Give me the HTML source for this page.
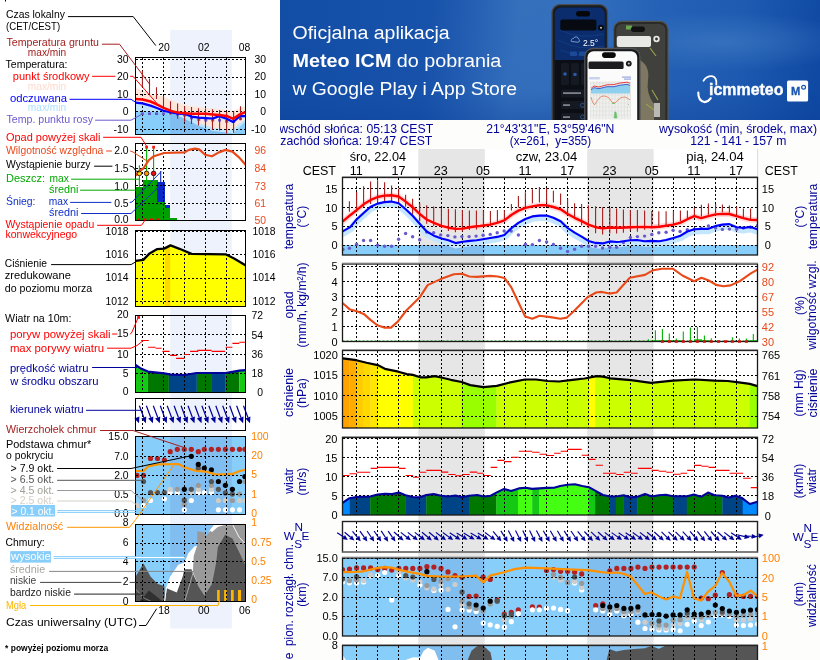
<!DOCTYPE html>
<html><head><meta charset="utf-8"><title>Meteogram</title>
<style>
html,body{margin:0;padding:0;background:#fff;}
body{width:820px;height:660px;overflow:hidden;position:relative;font-family:"Liberation Sans",sans-serif;}
svg{position:absolute;left:0;top:0;display:block;will-change:transform;}
svg text{font-family:"Liberation Sans",sans-serif;}
</style></head><body>
<svg width="820" height="660" viewBox="0 0 820 660">
<g id="legend">
<rect x="0.0" y="0.0" width="280.0" height="660.0" fill="#ffffff" />
<rect x="5.0" y="0.0" width="1.0" height="1.5" fill="#000" />
<rect x="170.2" y="30.0" width="61.6" height="598.5" fill="#edf2fc" />
<clipPath id="lc1"><rect x="135.5" y="57.5" width="110.0" height="76.5"/></clipPath>
<g clip-path="url(#lc1)">
<polygon points="135.9,88.0 142.4,90.2 150.5,93.9 163.7,96.8 177.6,102.7 191.5,106.3 205.8,107.8 219.3,109.3 233.2,110.7 244.9,106.3 246.0,106.0 246.0,118.8 244.9,118.8 239.8,123.2 233.2,129.0 226.6,129.8 212.7,127.6 198.8,123.2 184.9,115.9 163.7,111.5 135.9,102.7" fill="#ffe6da" />
<polygon points="135.5,102.7 142.4,103.4 150.5,105.6 156.3,107.8 163.7,110.7 170.2,112.2 177.6,113.7 184.9,114.0 191.5,116.6 198.8,117.6 205.8,118.1 212.7,118.5 219.3,116.1 226.6,118.8 233.2,122.0 239.8,116.1 246.0,116.1 246.0,124.0 239.8,128.0 233.2,134.0 135.5,134.0" fill="#bfe6ff" />
<polygon points="135.5,111.5 165.0,111.8 170.2,112.5 184.9,119.0 198.8,126.0 212.7,131.0 226.6,132.8 233.0,133.5 239.8,127.0 246.0,121.0 246.0,134.0 135.5,134.0" fill="#87cefa" />
<clipPath id="lc1n"><rect x="170.2" y="57.5" width="61.6" height="76.5"/></clipPath>
<polygon points="135.5,111.5 165.0,111.8 170.2,112.5 184.9,119.0 198.8,126.0 212.7,131.0 226.6,132.8 233.0,133.5 239.8,127.0 246.0,121.0 246.0,134.0 135.5,134.0" fill="#80bdf0" clip-path="url(#lc1n)"/>
<polygon points="198.8,119.0 212.7,120.0 219.3,118.0 226.6,121.0 233.2,124.0 239.8,118.0 246.0,118.0 246.0,119.0 239.8,123.2 233.2,129.0 226.6,129.8 212.7,127.6 198.8,123.2" fill="#ffe6da" />
</g>
<line x1="142.5" y1="57.5" x2="142.5" y2="134.0" stroke="#000" stroke-width="1" stroke-dasharray="2,2" shape-rendering="crispEdges"/>
<line x1="163.7" y1="57.5" x2="163.7" y2="134.0" stroke="#000" stroke-width="1" stroke-dasharray="2,2" shape-rendering="crispEdges"/>
<line x1="184.7" y1="57.5" x2="184.7" y2="134.0" stroke="#000" stroke-width="1" stroke-dasharray="2,2" shape-rendering="crispEdges"/>
<line x1="205.4" y1="57.5" x2="205.4" y2="134.0" stroke="#000" stroke-width="1" stroke-dasharray="2,2" shape-rendering="crispEdges"/>
<line x1="226.2" y1="57.5" x2="226.2" y2="134.0" stroke="#000" stroke-width="1" stroke-dasharray="2,2" shape-rendering="crispEdges"/>
<line x1="135.5" y1="59.5" x2="245.5" y2="59.5" stroke="#000" stroke-width="1" stroke-dasharray="2,2" shape-rendering="crispEdges"/>
<line x1="135.5" y1="77.3" x2="245.5" y2="77.3" stroke="#000" stroke-width="1" stroke-dasharray="2,2" shape-rendering="crispEdges"/>
<line x1="135.5" y1="94.4" x2="245.5" y2="94.4" stroke="#000" stroke-width="1" stroke-dasharray="2,2" shape-rendering="crispEdges"/>
<line x1="135.5" y1="111.6" x2="245.5" y2="111.6" stroke="#000" stroke-width="1" stroke-dasharray="2,2" shape-rendering="crispEdges"/>
<line x1="135.5" y1="129.4" x2="245.5" y2="129.4" stroke="#000" stroke-width="1" stroke-dasharray="2,2" shape-rendering="crispEdges"/>
<g clip-path="url(#lc1)">
<rect x="140.9" y="112.4" width="3.0" height="2.6" fill="#6a5acd" />
<rect x="148.0" y="112.4" width="3.0" height="2.6" fill="#6a5acd" />
<rect x="155.0" y="112.4" width="3.0" height="2.6" fill="#6a5acd" />
<rect x="162.0" y="112.4" width="3.0" height="2.6" fill="#6a5acd" />
<rect x="169.0" y="111.7" width="3.0" height="2.6" fill="#6a5acd" />
<rect x="176.1" y="113.1" width="3.0" height="2.6" fill="#6a5acd" />
<rect x="183.1" y="113.8" width="3.0" height="2.6" fill="#6a5acd" />
<rect x="190.0" y="116.7" width="3.0" height="2.6" fill="#6a5acd" />
<rect x="197.3" y="118.2" width="3.0" height="2.6" fill="#6a5acd" />
<rect x="204.3" y="118.9" width="3.0" height="2.6" fill="#6a5acd" />
<rect x="211.2" y="118.9" width="3.0" height="2.6" fill="#6a5acd" />
<rect x="218.1" y="118.9" width="3.0" height="2.6" fill="#6a5acd" />
<rect x="225.1" y="120.1" width="3.0" height="2.6" fill="#6a5acd" />
<rect x="232.1" y="120.4" width="3.0" height="2.6" fill="#6a5acd" />
<rect x="239.0" y="117.5" width="3.0" height="2.6" fill="#6a5acd" />
<line x1="142.4" y1="70.5" x2="142.4" y2="86.6" stroke="#a52020" stroke-width="1.1" />
<line x1="149.5" y1="78.5" x2="149.5" y2="93.9" stroke="#a52020" stroke-width="1.1" />
<line x1="156.5" y1="87.3" x2="156.5" y2="99.0" stroke="#a52020" stroke-width="1.1" />
<line x1="163.5" y1="96.1" x2="163.5" y2="107.1" stroke="#a52020" stroke-width="1.1" />
<line x1="170.5" y1="101.2" x2="170.5" y2="114.4" stroke="#a52020" stroke-width="1.1" />
<line x1="177.6" y1="103.4" x2="177.6" y2="118.8" stroke="#a52020" stroke-width="1.1" />
<line x1="184.6" y1="106.3" x2="184.6" y2="121.7" stroke="#a52020" stroke-width="1.1" />
<line x1="191.5" y1="107.1" x2="191.5" y2="123.9" stroke="#a52020" stroke-width="1.1" />
<line x1="198.5" y1="108.2" x2="198.5" y2="125.4" stroke="#a52020" stroke-width="1.1" />
<line x1="205.5" y1="108.5" x2="205.5" y2="127.6" stroke="#a52020" stroke-width="1.1" />
<line x1="212.5" y1="109.3" x2="212.5" y2="129.8" stroke="#a52020" stroke-width="1.1" />
<line x1="219.6" y1="110.0" x2="219.6" y2="130.5" stroke="#a52020" stroke-width="1.1" />
<line x1="226.6" y1="111.5" x2="226.6" y2="133.4" stroke="#a52020" stroke-width="1.1" />
<line x1="233.6" y1="111.5" x2="233.6" y2="132.7" stroke="#a52020" stroke-width="1.1" />
<line x1="240.5" y1="106.3" x2="240.5" y2="120.2" stroke="#a52020" stroke-width="1.1" />
<polyline points="135.5,102.7 142.4,103.4 150.5,105.6 156.3,107.8 163.7,110.7 170.2,112.2 177.6,113.7 184.9,114.0 191.5,116.6 198.8,117.6 205.8,118.1 212.7,118.5 219.3,116.1 226.6,118.8 233.2,122.0 239.8,116.1 246.0,116.1" fill="none" stroke="#0000ff" stroke-width="2.2" stroke-linejoin="round" stroke-linecap="round" />
<polyline points="135.5,99.0 142.4,99.5 150.5,101.5 156.3,104.1 163.7,107.8 170.2,110.7 177.6,112.6 184.9,113.2 191.5,113.7 205.8,113.7 212.7,114.4 219.3,115.1 226.6,115.9 233.2,118.8 239.8,114.4 246.0,112.0" fill="none" stroke="#ff0000" stroke-width="2.5" stroke-linejoin="round" stroke-linecap="round" />
</g>
<rect x="135.5" y="57.5" width="110.0" height="76.5" fill="none" stroke="#000" stroke-width="1" shape-rendering="crispEdges"/>
<clipPath id="lc2"><rect x="135.5" y="143.5" width="110.0" height="76.5"/></clipPath>
<rect x="135.5" y="187.0" width="8.0" height="33.0" fill="#00a000" shape-rendering="crispEdges"/>
<rect x="143.3" y="179.8" width="14.2" height="40.2" fill="#00a000" shape-rendering="crispEdges"/>
<rect x="157.3" y="202.0" width="7.4" height="18.0" fill="#00a000" shape-rendering="crispEdges"/>
<rect x="157.3" y="182.3" width="7.2" height="19.7" fill="#0a28c8" shape-rendering="crispEdges"/>
<rect x="164.5" y="205.0" width="5.6" height="3.0" fill="#0a28c8" shape-rendering="crispEdges"/>
<rect x="164.5" y="208.0" width="5.8" height="12.0" fill="#00a000" shape-rendering="crispEdges"/>
<rect x="170.1" y="217.8" width="7.0" height="2.2" fill="#00a000" shape-rendering="crispEdges"/>
<line x1="142.5" y1="143.5" x2="142.5" y2="220.0" stroke="#000" stroke-width="1" stroke-dasharray="2,2" shape-rendering="crispEdges"/>
<line x1="163.7" y1="143.5" x2="163.7" y2="220.0" stroke="#000" stroke-width="1" stroke-dasharray="2,2" shape-rendering="crispEdges"/>
<line x1="184.7" y1="143.5" x2="184.7" y2="220.0" stroke="#000" stroke-width="1" stroke-dasharray="2,2" shape-rendering="crispEdges"/>
<line x1="205.4" y1="143.5" x2="205.4" y2="220.0" stroke="#000" stroke-width="1" stroke-dasharray="2,2" shape-rendering="crispEdges"/>
<line x1="226.2" y1="143.5" x2="226.2" y2="220.0" stroke="#000" stroke-width="1" stroke-dasharray="2,2" shape-rendering="crispEdges"/>
<line x1="135.5" y1="150.4" x2="245.5" y2="150.4" stroke="#000" stroke-width="1" stroke-dasharray="2,2" shape-rendering="crispEdges"/>
<line x1="135.5" y1="168.3" x2="245.5" y2="168.3" stroke="#000" stroke-width="1" stroke-dasharray="2,2" shape-rendering="crispEdges"/>
<line x1="135.5" y1="185.5" x2="245.5" y2="185.5" stroke="#000" stroke-width="1" stroke-dasharray="2,2" shape-rendering="crispEdges"/>
<line x1="135.5" y1="203.3" x2="245.5" y2="203.3" stroke="#000" stroke-width="1" stroke-dasharray="2,2" shape-rendering="crispEdges"/>
<line x1="139.4" y1="165.2" x2="139.4" y2="190.0" stroke="#00b400" stroke-width="1.1" />
<line x1="146.6" y1="147.3" x2="146.6" y2="190.0" stroke="#00b400" stroke-width="1.1" />
<line x1="153.6" y1="147.3" x2="153.6" y2="190.0" stroke="#00b400" stroke-width="1.1" />
<line x1="160.7" y1="170.9" x2="160.7" y2="183.0" stroke="#0a28c8" stroke-width="1.1" />
<rect x="145.2" y="145.8" width="2.8" height="2.8" fill="#ff1a1a" />
<rect x="152.2" y="145.8" width="2.8" height="2.8" fill="#ff1a1a" />
<g clip-path="url(#lc2)">
<polyline points="136.5,175.0 138.0,172.0 143.3,168.5 148.8,160.1 153.9,156.2 164.1,153.0 184.6,152.4 188.9,149.9 194.9,148.7 199.1,149.4 205.1,154.7 212.0,156.2 218.8,152.4 225.6,149.9 232.4,151.6 239.3,157.6 245.5,164.7" fill="none" stroke="#e84a1a" stroke-width="2.2" stroke-linejoin="round" stroke-linecap="round" />
</g>
<circle cx="139.4" cy="173.4" r="2.3" fill="#ffdc00" stroke="#301010" stroke-width="0.9"/>
<circle cx="146.6" cy="173.4" r="2.3" fill="#ff9600" stroke="#301010" stroke-width="0.9"/>
<circle cx="153.6" cy="173.4" r="2.3" fill="#e81010" stroke="#301010" stroke-width="0.9"/>
<line x1="137.0" y1="219.3" x2="164.0" y2="219.3" stroke="#ff0000" stroke-width="1.4" stroke-dasharray="3,3.5"/>
<rect x="135.5" y="143.5" width="110.0" height="76.5" fill="none" stroke="#000" stroke-width="1" shape-rendering="crispEdges"/>
<clipPath id="lc3"><rect x="135.5" y="230" width="110.0" height="76.5"/></clipPath>
<g clip-path="url(#lc3)">
<polygon points="135.5,260.8 143.3,259.9 149.6,253.4 157.3,249.1 164.1,248.6 170.5,245.4 179.5,248.8 191.5,253.9 225.6,254.3 234.1,258.5 245.8,265.4 245.8,306.5 135.5,306.5" fill="#ffff00" />
<clipPath id="lc3b"><rect x="165" y="230" width="5.2" height="77"/></clipPath>
<polygon points="135.5,260.8 143.3,259.9 149.6,253.4 157.3,249.1 164.1,248.6 170.5,245.4 179.5,248.8 191.5,253.9 225.6,254.3 234.1,258.5 245.8,265.4 245.8,306.5 135.5,306.5" fill="#ffd800" clip-path="url(#lc3b)"/>
</g>
<line x1="142.5" y1="230.0" x2="142.5" y2="306.5" stroke="#000" stroke-width="1" stroke-dasharray="2,2" shape-rendering="crispEdges"/>
<line x1="163.7" y1="230.0" x2="163.7" y2="306.5" stroke="#000" stroke-width="1" stroke-dasharray="2,2" shape-rendering="crispEdges"/>
<line x1="184.7" y1="230.0" x2="184.7" y2="306.5" stroke="#000" stroke-width="1" stroke-dasharray="2,2" shape-rendering="crispEdges"/>
<line x1="205.4" y1="230.0" x2="205.4" y2="306.5" stroke="#000" stroke-width="1" stroke-dasharray="2,2" shape-rendering="crispEdges"/>
<line x1="226.2" y1="230.0" x2="226.2" y2="306.5" stroke="#000" stroke-width="1" stroke-dasharray="2,2" shape-rendering="crispEdges"/>
<line x1="135.5" y1="231.6" x2="245.5" y2="231.6" stroke="#000" stroke-width="1" stroke-dasharray="2,2" shape-rendering="crispEdges"/>
<line x1="135.5" y1="254.6" x2="245.5" y2="254.6" stroke="#000" stroke-width="1" stroke-dasharray="2,2" shape-rendering="crispEdges"/>
<line x1="135.5" y1="278.5" x2="245.5" y2="278.5" stroke="#000" stroke-width="1" stroke-dasharray="2,2" shape-rendering="crispEdges"/>
<line x1="135.5" y1="301.6" x2="245.5" y2="301.6" stroke="#000" stroke-width="1" stroke-dasharray="2,2" shape-rendering="crispEdges"/>
<g clip-path="url(#lc3)">
<polyline points="135.5,260.8 143.3,259.9 149.6,253.4 157.3,249.1 164.1,248.6 170.5,245.4 179.5,248.8 191.5,253.9 225.6,254.3 234.1,258.5 245.8,265.4" fill="none" stroke="#000" stroke-width="2.3" stroke-linejoin="round" stroke-linecap="round" />
</g>
<rect x="135.5" y="230" width="110.0" height="76.5" fill="none" stroke="#000" stroke-width="1" shape-rendering="crispEdges"/>
<clipPath id="lc4"><rect x="135.5" y="315.5" width="110.0" height="77.0"/></clipPath>
<g clip-path="url(#lc4)">
<clipPath id="lw0"><rect x="135.5" y="315.5" width="12.400000000000006" height="77.0"/></clipPath>
<polygon points="135.5,364.8 140.2,368.2 147.9,371.6 164.1,373.3 171.0,374.7 184.6,375.0 196.6,373.0 225.6,373.0 239.3,370.7 245.8,370.2 245.8,392.5 135.5,392.5" fill="#14c814" clip-path="url(#lw0)"/>
<clipPath id="lw1"><rect x="147.9" y="315.5" width="21.0" height="77.0"/></clipPath>
<polygon points="135.5,364.8 140.2,368.2 147.9,371.6 164.1,373.3 171.0,374.7 184.6,375.0 196.6,373.0 225.6,373.0 239.3,370.7 245.8,370.2 245.8,392.5 135.5,392.5" fill="#007800" clip-path="url(#lw1)"/>
<clipPath id="lw2"><rect x="168.9" y="315.5" width="28.0" height="77.0"/></clipPath>
<polygon points="135.5,364.8 140.2,368.2 147.9,371.6 164.1,373.3 171.0,374.7 184.6,375.0 196.6,373.0 225.6,373.0 239.3,370.7 245.8,370.2 245.8,392.5 135.5,392.5" fill="#004488" clip-path="url(#lw2)"/>
<clipPath id="lw3"><rect x="196.9" y="315.5" width="14.199999999999989" height="77.0"/></clipPath>
<polygon points="135.5,364.8 140.2,368.2 147.9,371.6 164.1,373.3 171.0,374.7 184.6,375.0 196.6,373.0 225.6,373.0 239.3,370.7 245.8,370.2 245.8,392.5 135.5,392.5" fill="#007800" clip-path="url(#lw3)"/>
<clipPath id="lw4"><rect x="211.1" y="315.5" width="14.0" height="77.0"/></clipPath>
<polygon points="135.5,364.8 140.2,368.2 147.9,371.6 164.1,373.3 171.0,374.7 184.6,375.0 196.6,373.0 225.6,373.0 239.3,370.7 245.8,370.2 245.8,392.5 135.5,392.5" fill="#004488" clip-path="url(#lw4)"/>
<clipPath id="lw5"><rect x="225.1" y="315.5" width="14.200000000000017" height="77.0"/></clipPath>
<polygon points="135.5,364.8 140.2,368.2 147.9,371.6 164.1,373.3 171.0,374.7 184.6,375.0 196.6,373.0 225.6,373.0 239.3,370.7 245.8,370.2 245.8,392.5 135.5,392.5" fill="#007800" clip-path="url(#lw5)"/>
<clipPath id="lw6"><rect x="239.3" y="315.5" width="6.699999999999989" height="77.0"/></clipPath>
<polygon points="135.5,364.8 140.2,368.2 147.9,371.6 164.1,373.3 171.0,374.7 184.6,375.0 196.6,373.0 225.6,373.0 239.3,370.7 245.8,370.2 245.8,392.5 135.5,392.5" fill="#14c814" clip-path="url(#lw6)"/>
</g>
<line x1="142.5" y1="315.5" x2="142.5" y2="392.5" stroke="#000" stroke-width="1" stroke-dasharray="2,2" shape-rendering="crispEdges"/>
<line x1="163.7" y1="315.5" x2="163.7" y2="392.5" stroke="#000" stroke-width="1" stroke-dasharray="2,2" shape-rendering="crispEdges"/>
<line x1="184.7" y1="315.5" x2="184.7" y2="392.5" stroke="#000" stroke-width="1" stroke-dasharray="2,2" shape-rendering="crispEdges"/>
<line x1="205.4" y1="315.5" x2="205.4" y2="392.5" stroke="#000" stroke-width="1" stroke-dasharray="2,2" shape-rendering="crispEdges"/>
<line x1="226.2" y1="315.5" x2="226.2" y2="392.5" stroke="#000" stroke-width="1" stroke-dasharray="2,2" shape-rendering="crispEdges"/>
<line x1="135.5" y1="334.9" x2="245.5" y2="334.9" stroke="#000" stroke-width="1" stroke-dasharray="2,2" shape-rendering="crispEdges"/>
<line x1="135.5" y1="354.5" x2="245.5" y2="354.5" stroke="#000" stroke-width="1" stroke-dasharray="2,2" shape-rendering="crispEdges"/>
<line x1="135.5" y1="373.3" x2="245.5" y2="373.3" stroke="#000" stroke-width="1" stroke-dasharray="2,2" shape-rendering="crispEdges"/>
<g clip-path="url(#lc4)">
<polyline points="135.5,364.8 140.2,368.2 147.9,371.6 164.1,373.3 171.0,374.7 184.6,375.0 196.6,373.0 225.6,373.0 239.3,370.7 245.8,370.2" fill="none" stroke="#00009a" stroke-width="2.2" stroke-linejoin="round" stroke-linecap="round" />
<line x1="141.1" y1="340.5" x2="148.8" y2="340.5" stroke="#ff0000" stroke-width="1.1" />
<line x1="147.9" y1="347.2" x2="155.6" y2="347.2" stroke="#ff0000" stroke-width="1.1" />
<line x1="155.6" y1="348.2" x2="161.6" y2="348.2" stroke="#ff0000" stroke-width="1.1" />
<line x1="162.4" y1="351.4" x2="169.6" y2="351.4" stroke="#ff0000" stroke-width="1.1" />
<line x1="170.1" y1="355.4" x2="177.0" y2="355.4" stroke="#ff0000" stroke-width="1.1" />
<line x1="176.1" y1="358.4" x2="184.6" y2="358.4" stroke="#ff0000" stroke-width="1.1" />
<line x1="184.3" y1="354.5" x2="188.9" y2="354.5" stroke="#ff0000" stroke-width="1.1" />
<line x1="190.1" y1="351.4" x2="198.3" y2="351.4" stroke="#ff0000" stroke-width="1.1" />
<line x1="197.4" y1="350.4" x2="211.6" y2="350.4" stroke="#ff0000" stroke-width="1.1" />
<line x1="211.6" y1="351.4" x2="225.1" y2="351.4" stroke="#ff0000" stroke-width="1.1" />
<line x1="225.6" y1="347.3" x2="232.4" y2="347.3" stroke="#ff0000" stroke-width="1.1" />
<line x1="232.4" y1="343.4" x2="239.3" y2="343.4" stroke="#ff0000" stroke-width="1.1" />
<line x1="239.3" y1="342.2" x2="245.8" y2="342.2" stroke="#ff0000" stroke-width="1.1" />
</g>
<rect x="137.2" y="316.0" width="2.8" height="2.8" fill="#ff1a1a" />
<rect x="135.5" y="315.5" width="110.0" height="77.0" fill="none" stroke="#000" stroke-width="1" shape-rendering="crispEdges"/>
<clipPath id="lc5"><rect x="135.5" y="398.5" width="110.0" height="31.5"/></clipPath>
<line x1="142.5" y1="398.5" x2="142.5" y2="430.0" stroke="#000" stroke-width="1" stroke-dasharray="2,2" shape-rendering="crispEdges"/>
<line x1="163.7" y1="398.5" x2="163.7" y2="430.0" stroke="#000" stroke-width="1" stroke-dasharray="2,2" shape-rendering="crispEdges"/>
<line x1="184.7" y1="398.5" x2="184.7" y2="430.0" stroke="#000" stroke-width="1" stroke-dasharray="2,2" shape-rendering="crispEdges"/>
<line x1="205.4" y1="398.5" x2="205.4" y2="430.0" stroke="#000" stroke-width="1" stroke-dasharray="2,2" shape-rendering="crispEdges"/>
<line x1="226.2" y1="398.5" x2="226.2" y2="430.0" stroke="#000" stroke-width="1" stroke-dasharray="2,2" shape-rendering="crispEdges"/>
<g clip-path="url(#lc5x)">
</g>
<polygon points="139.0,423.3 134.3,418.4 139.4,416.5" fill="#00009a" />
<line x1="139.4" y1="405.7" x2="143.8" y2="417.5" stroke="#00009a" stroke-width="1.2" />
<polygon points="145.9,423.3 141.3,418.4 146.3,416.5" fill="#00009a" />
<line x1="146.4" y1="405.7" x2="150.7" y2="417.5" stroke="#00009a" stroke-width="1.2" />
<polygon points="152.9,423.3 148.2,418.4 153.3,416.5" fill="#00009a" />
<line x1="153.3" y1="405.7" x2="157.7" y2="417.5" stroke="#00009a" stroke-width="1.2" />
<polygon points="159.8,423.3 155.1,418.4 160.2,416.5" fill="#00009a" />
<line x1="160.3" y1="405.7" x2="164.6" y2="417.5" stroke="#00009a" stroke-width="1.2" />
<polygon points="166.8,423.3 162.1,418.4 167.1,416.5" fill="#00009a" />
<line x1="167.2" y1="405.7" x2="171.6" y2="417.5" stroke="#00009a" stroke-width="1.2" />
<polygon points="173.7,423.3 169.0,418.4 174.1,416.5" fill="#00009a" />
<line x1="174.1" y1="405.7" x2="178.5" y2="417.5" stroke="#00009a" stroke-width="1.2" />
<polygon points="180.6,423.3 176.0,418.4 181.0,416.5" fill="#00009a" />
<line x1="181.1" y1="405.7" x2="185.4" y2="417.5" stroke="#00009a" stroke-width="1.2" />
<polygon points="187.6,423.3 182.9,418.4 188.0,416.5" fill="#00009a" />
<line x1="188.0" y1="405.7" x2="192.4" y2="417.5" stroke="#00009a" stroke-width="1.2" />
<polygon points="194.5,423.3 189.8,418.4 194.9,416.5" fill="#00009a" />
<line x1="195.0" y1="405.7" x2="199.3" y2="417.5" stroke="#00009a" stroke-width="1.2" />
<polygon points="201.5,423.3 196.8,418.4 201.8,416.5" fill="#00009a" />
<line x1="201.9" y1="405.7" x2="206.3" y2="417.5" stroke="#00009a" stroke-width="1.2" />
<polygon points="208.4,423.3 203.7,418.4 208.8,416.5" fill="#00009a" />
<line x1="208.8" y1="405.7" x2="213.2" y2="417.5" stroke="#00009a" stroke-width="1.2" />
<polygon points="215.3,423.3 210.7,418.4 215.7,416.5" fill="#00009a" />
<line x1="215.8" y1="405.7" x2="220.1" y2="417.5" stroke="#00009a" stroke-width="1.2" />
<polygon points="222.3,423.3 217.6,418.4 222.7,416.5" fill="#00009a" />
<line x1="222.7" y1="405.7" x2="227.1" y2="417.5" stroke="#00009a" stroke-width="1.2" />
<polygon points="229.2,423.3 224.5,418.4 229.6,416.5" fill="#00009a" />
<line x1="229.7" y1="405.7" x2="234.0" y2="417.5" stroke="#00009a" stroke-width="1.2" />
<polygon points="236.2,423.3 231.5,418.4 236.5,416.5" fill="#00009a" />
<line x1="236.6" y1="405.7" x2="241.0" y2="417.5" stroke="#00009a" stroke-width="1.2" />
<polygon points="243.1,423.3 238.4,418.4 243.5,416.5" fill="#00009a" />
<line x1="243.5" y1="405.7" x2="247.9" y2="417.5" stroke="#00009a" stroke-width="1.2" />
<polygon points="250.0,423.3 245.4,418.4 250.4,416.5" fill="#00009a" />
<rect x="135.5" y="398.5" width="110.0" height="31.5" fill="none" stroke="#000" stroke-width="1" shape-rendering="crispEdges"/>
<clipPath id="lc6"><rect x="135.5" y="436.5" width="110.0" height="78.0"/></clipPath>
<rect x="135.5" y="436.5" width="110.0" height="78.0" fill="#87cefa" />
<rect x="170.2" y="436.5" width="61.6" height="78.0" fill="#80bdf0" />
<line x1="142.5" y1="436.5" x2="142.5" y2="514.5" stroke="#000" stroke-width="1" stroke-dasharray="2,2" shape-rendering="crispEdges"/>
<line x1="163.7" y1="436.5" x2="163.7" y2="514.5" stroke="#000" stroke-width="1" stroke-dasharray="2,2" shape-rendering="crispEdges"/>
<line x1="184.7" y1="436.5" x2="184.7" y2="514.5" stroke="#000" stroke-width="1" stroke-dasharray="2,2" shape-rendering="crispEdges"/>
<line x1="205.4" y1="436.5" x2="205.4" y2="514.5" stroke="#000" stroke-width="1" stroke-dasharray="2,2" shape-rendering="crispEdges"/>
<line x1="226.2" y1="436.5" x2="226.2" y2="514.5" stroke="#000" stroke-width="1" stroke-dasharray="2,2" shape-rendering="crispEdges"/>
<line x1="135.5" y1="456.3" x2="245.5" y2="456.3" stroke="#000" stroke-width="1" stroke-dasharray="2,2" shape-rendering="crispEdges"/>
<line x1="135.5" y1="475.4" x2="245.5" y2="475.4" stroke="#000" stroke-width="1" stroke-dasharray="2,2" shape-rendering="crispEdges"/>
<line x1="135.5" y1="494.8" x2="245.5" y2="494.8" stroke="#000" stroke-width="1" stroke-dasharray="2,2" shape-rendering="crispEdges"/>
<g clip-path="url(#lc6)">
<circle cx="170.2" cy="492.6" r="2.6" fill="#fff"/>
<circle cx="177.3" cy="492.6" r="2.6" fill="#fff"/>
<circle cx="198.3" cy="492.6" r="2.6" fill="#fff"/>
<circle cx="204.3" cy="492.6" r="2.6" fill="#fff"/>
<circle cx="211.4" cy="492.6" r="2.6" fill="#fff"/>
<circle cx="150.5" cy="500.5" r="2.6" fill="#fff"/>
<circle cx="164.4" cy="498.8" r="2.6" fill="#fff"/>
<circle cx="191.3" cy="500.5" r="2.6" fill="#fff"/>
<circle cx="143.5" cy="505.7" r="2.6" fill="#fff"/>
<circle cx="184.3" cy="509.8" r="2.6" fill="#fff"/>
<circle cx="218.4" cy="509.8" r="2.6" fill="#fff"/>
<circle cx="225.4" cy="509.8" r="2.6" fill="#fff"/>
<circle cx="232.4" cy="509.8" r="2.6" fill="#fff"/>
<circle cx="239.5" cy="509.8" r="2.6" fill="#fff"/>
<circle cx="170.2" cy="489.3" r="2.6" fill="#d0ccc4"/>
<circle cx="198.3" cy="489.3" r="2.6" fill="#d0ccc4"/>
<circle cx="211.4" cy="489.3" r="2.6" fill="#d0ccc4"/>
<circle cx="191.3" cy="492.6" r="2.6" fill="#d0ccc4"/>
<circle cx="218.4" cy="500.5" r="2.6" fill="#d0ccc4"/>
<circle cx="225.4" cy="500.5" r="2.6" fill="#d0ccc4"/>
<circle cx="239.5" cy="500.5" r="2.6" fill="#d0ccc4"/>
<circle cx="137.0" cy="505.7" r="2.6" fill="#d0ccc4"/>
<circle cx="245.0" cy="500.5" r="2.6" fill="#d0ccc4"/>
<circle cx="177.3" cy="489.3" r="2.6" fill="#999"/>
<circle cx="198.3" cy="485.3" r="2.6" fill="#999"/>
<circle cx="211.4" cy="485.3" r="2.6" fill="#999"/>
<circle cx="143.5" cy="500.5" r="2.6" fill="#999"/>
<circle cx="239.5" cy="494.1" r="2.6" fill="#999"/>
<circle cx="232.4" cy="500.5" r="2.6" fill="#999"/>
<circle cx="184.3" cy="504.6" r="2.6" fill="#999"/>
<circle cx="245.0" cy="481.5" r="2.6" fill="#999"/>
<circle cx="143.5" cy="481.5" r="2.6" fill="#555"/>
<circle cx="150.5" cy="492.6" r="2.6" fill="#555"/>
<circle cx="157.5" cy="492.6" r="2.6" fill="#555"/>
<circle cx="164.4" cy="492.6" r="2.6" fill="#555"/>
<circle cx="191.3" cy="489.3" r="2.6" fill="#555"/>
<circle cx="211.4" cy="481.5" r="2.6" fill="#555"/>
<circle cx="218.4" cy="489.3" r="2.6" fill="#555"/>
<circle cx="225.4" cy="492.9" r="2.6" fill="#555"/>
<circle cx="232.4" cy="494.1" r="2.6" fill="#555"/>
<circle cx="198.3" cy="468.3" r="2.6" fill="#555"/>
<circle cx="184.3" cy="500.2" r="2.6" fill="#555"/>
<circle cx="191.3" cy="456.3" r="2.6" fill="#000"/>
<circle cx="198.3" cy="464.4" r="2.6" fill="#000"/>
<circle cx="204.3" cy="468.0" r="2.6" fill="#000"/>
<circle cx="211.4" cy="469.8" r="2.6" fill="#000"/>
<circle cx="218.4" cy="481.5" r="2.6" fill="#000"/>
<circle cx="225.4" cy="485.3" r="2.6" fill="#000"/>
<circle cx="232.4" cy="489.3" r="2.6" fill="#000"/>
<circle cx="239.5" cy="481.5" r="2.6" fill="#000"/>
<circle cx="244.9" cy="476.5" r="2.6" fill="#000"/>
<circle cx="184.3" cy="489.3" r="2.6" fill="#000"/>
<circle cx="170.2" cy="451.7" r="2.6" fill="#b22222"/>
<circle cx="177.3" cy="449.3" r="2.6" fill="#b22222"/>
<circle cx="184.3" cy="449.3" r="2.6" fill="#b22222"/>
<circle cx="191.3" cy="449.3" r="2.6" fill="#b22222"/>
<circle cx="198.3" cy="451.7" r="2.6" fill="#b22222"/>
<circle cx="204.3" cy="449.3" r="2.6" fill="#b22222"/>
<circle cx="211.4" cy="449.3" r="2.6" fill="#b22222"/>
<circle cx="218.4" cy="449.3" r="2.6" fill="#b22222"/>
<circle cx="225.4" cy="449.3" r="2.6" fill="#b22222"/>
<circle cx="232.4" cy="449.3" r="2.6" fill="#b22222"/>
<circle cx="239.5" cy="449.3" r="2.6" fill="#b22222"/>
<circle cx="244.9" cy="449.3" r="2.6" fill="#b22222"/>
<circle cx="150.5" cy="458.5" r="2.6" fill="#b22222"/>
<circle cx="157.5" cy="458.5" r="2.6" fill="#b22222"/>
<circle cx="164.4" cy="460.0" r="2.6" fill="#b22222"/>
<circle cx="137.0" cy="475.4" r="2.6" fill="#b22222"/>
<circle cx="143.5" cy="475.4" r="2.6" fill="#b22222"/>
<polyline points="135.5,471.0 143.5,471.0 148.3,466.3 157.5,464.4 178.3,464.0 184.6,467.3 195.9,471.0 204.6,471.3 216.3,474.6 232.4,473.9 239.8,471.0 246.0,469.6" fill="none" stroke="#ff9600" stroke-width="2.2" stroke-linejoin="round" stroke-linecap="round" />
</g>
<line x1="142.5" y1="436.5" x2="142.5" y2="514.5" stroke="#000" stroke-width="1" stroke-dasharray="2,2" shape-rendering="crispEdges"/>
<line x1="163.7" y1="436.5" x2="163.7" y2="514.5" stroke="#000" stroke-width="1" stroke-dasharray="2,2" shape-rendering="crispEdges"/>
<line x1="184.7" y1="436.5" x2="184.7" y2="514.5" stroke="#000" stroke-width="1" stroke-dasharray="2,2" shape-rendering="crispEdges"/>
<line x1="205.4" y1="436.5" x2="205.4" y2="514.5" stroke="#000" stroke-width="1" stroke-dasharray="2,2" shape-rendering="crispEdges"/>
<line x1="226.2" y1="436.5" x2="226.2" y2="514.5" stroke="#000" stroke-width="1" stroke-dasharray="2,2" shape-rendering="crispEdges"/>
<line x1="135.5" y1="456.3" x2="245.5" y2="456.3" stroke="#000" stroke-width="1" stroke-dasharray="2,2" shape-rendering="crispEdges"/>
<line x1="135.5" y1="475.4" x2="245.5" y2="475.4" stroke="#000" stroke-width="1" stroke-dasharray="2,2" shape-rendering="crispEdges"/>
<line x1="135.5" y1="494.8" x2="245.5" y2="494.8" stroke="#000" stroke-width="1" stroke-dasharray="2,2" shape-rendering="crispEdges"/>
<rect x="135.5" y="436.5" width="110.0" height="78.0" fill="none" stroke="#000" stroke-width="1" shape-rendering="crispEdges"/>
<clipPath id="lc7"><rect x="135.5" y="524" width="110.0" height="77.5"/></clipPath>
<rect x="135.5" y="524.0" width="110.0" height="77.5" fill="#87cefa" />
<rect x="170.2" y="524.0" width="61.6" height="77.5" fill="#80bdf0" />
<g clip-path="url(#lc7)">
<polygon points="164.4,602.2 166.6,586.8 170.2,576.5 178.3,564.8 184.4,562.6 188.5,553.1 194.4,546.5 203.2,544.3 209.8,530.4 214.9,524.1 232.4,524.1 239.0,537.0 245.9,544.3 245.9,602.2" fill="#fff" />
<polygon points="197.3,531.2 197.3,545.1 193.7,556.1 192.9,572.1 198.8,586.8 204.6,595.6 245.9,595.6 245.9,524.1 217.8,524.1 215.6,526.8 209.8,531.2 206.1,536.3 204.6,532.6" fill="#999" />
<polygon points="209.8,530.4 214.9,524.1 232.4,524.1 231.0,525.3 223.7,525.3 217.8,527.1 212.0,531.9" fill="#fff" />
<polygon points="135.6,576.5 143.5,563.4 150.5,576.5 157.8,583.9 164.4,586.1 165.1,602.2 135.6,602.2" fill="#555" />
<polygon points="165.1,602.2 166.6,588.2 176.8,592.6 182.7,576.5 184.4,569.2 191.5,569.2 192.9,573.6 198.8,586.8 204.6,595.6 212.0,583.9 216.3,561.9 217.8,547.3 225.1,534.8 232.4,538.5 239.0,551.7 245.9,566.3 245.9,602.2" fill="#555" />
<polygon points="138.8,602.2 149.0,590.4 163.7,602.2" fill="#303030" />
<polyline points="135.6,589.0 143.5,597.8 150.5,601.1" fill="none" stroke="#999" stroke-width="0.8" stroke-linejoin="round" stroke-linecap="round" />
<polyline points="184.4,602.2 192.9,573.6" fill="none" stroke="#bbb" stroke-width="0.8" stroke-linejoin="round" stroke-linecap="round" />
<polyline points="164.4,601.4 166.6,587.5" fill="none" stroke="#fff" stroke-width="0.9" stroke-linejoin="round" stroke-linecap="round" />
<polyline points="232.4,524.1 239.0,537.0 245.6,544.1" fill="none" stroke="#fff" stroke-width="0.9" stroke-linejoin="round" stroke-linecap="round" />
<rect x="217.1" y="590.0" width="2.6" height="11.0" fill="#ffb400" />
<rect x="224.1" y="590.0" width="2.6" height="11.0" fill="#ffb400" />
<rect x="231.0" y="590.0" width="2.7" height="11.0" fill="#ffb400" />
<rect x="238.0" y="590.0" width="3.0" height="11.0" fill="#ffb400" />
</g>
<line x1="142.5" y1="524.0" x2="142.5" y2="601.5" stroke="#000" stroke-width="1" stroke-dasharray="2,2" shape-rendering="crispEdges"/>
<line x1="163.7" y1="524.0" x2="163.7" y2="601.5" stroke="#000" stroke-width="1" stroke-dasharray="2,2" shape-rendering="crispEdges"/>
<line x1="184.7" y1="524.0" x2="184.7" y2="601.5" stroke="#000" stroke-width="1" stroke-dasharray="2,2" shape-rendering="crispEdges"/>
<line x1="205.4" y1="524.0" x2="205.4" y2="601.5" stroke="#000" stroke-width="1" stroke-dasharray="2,2" shape-rendering="crispEdges"/>
<line x1="226.2" y1="524.0" x2="226.2" y2="601.5" stroke="#000" stroke-width="1" stroke-dasharray="2,2" shape-rendering="crispEdges"/>
<line x1="135.5" y1="543.6" x2="245.5" y2="543.6" stroke="#000" stroke-width="1" stroke-dasharray="2,2" shape-rendering="crispEdges"/>
<line x1="135.5" y1="561.9" x2="245.5" y2="561.9" stroke="#000" stroke-width="1" stroke-dasharray="2,2" shape-rendering="crispEdges"/>
<line x1="135.5" y1="582.4" x2="245.5" y2="582.4" stroke="#000" stroke-width="1" stroke-dasharray="2,2" shape-rendering="crispEdges"/>
<rect x="135.5" y="524" width="110.0" height="77.5" fill="none" stroke="#000" stroke-width="1" shape-rendering="crispEdges"/>
<text x="128.6" y="62.5" font-size="10.4" fill="#000" text-anchor="end" >30</text>
<text x="266.0" y="62.5" font-size="10.4" fill="#000" text-anchor="end" >30</text>
<text x="128.6" y="80.3" font-size="10.4" fill="#000" text-anchor="end" >20</text>
<text x="266.0" y="80.3" font-size="10.4" fill="#000" text-anchor="end" >20</text>
<text x="128.6" y="97.6" font-size="10.4" fill="#000" text-anchor="end" >10</text>
<text x="266.0" y="97.6" font-size="10.4" fill="#000" text-anchor="end" >10</text>
<text x="128.6" y="115.0" font-size="10.4" fill="#000" text-anchor="end" >0</text>
<text x="266.0" y="115.0" font-size="10.4" fill="#000" text-anchor="end" >0</text>
<text x="128.6" y="132.6" font-size="10.4" fill="#000" text-anchor="end" >-10</text>
<text x="266.0" y="132.6" font-size="10.4" fill="#000" text-anchor="end" >-10</text>
<text x="128.6" y="154.0" font-size="10.4" fill="#000" text-anchor="end" >2.0</text>
<text x="128.6" y="172.0" font-size="10.4" fill="#000" text-anchor="end" >1.5</text>
<text x="128.6" y="189.5" font-size="10.4" fill="#000" text-anchor="end" >1.0</text>
<text x="128.6" y="207.0" font-size="10.4" fill="#000" text-anchor="end" >0.5</text>
<text x="128.6" y="223.2" font-size="10.4" fill="#000" text-anchor="end" >0.0</text>
<text x="266.0" y="154.0" font-size="10.4" fill="#e8481c" text-anchor="end" >96</text>
<text x="266.0" y="172.0" font-size="10.4" fill="#e8481c" text-anchor="end" >84</text>
<text x="266.0" y="189.5" font-size="10.4" fill="#e8481c" text-anchor="end" >73</text>
<text x="266.0" y="207.0" font-size="10.4" fill="#e8481c" text-anchor="end" >61</text>
<text x="266.0" y="224.0" font-size="10.4" fill="#e8481c" text-anchor="end" >50</text>
<text x="128.6" y="234.7" font-size="10.4" fill="#000" text-anchor="end" >1018</text>
<text x="275.5" y="234.7" font-size="10.4" fill="#000" text-anchor="end" >1018</text>
<text x="128.6" y="257.5" font-size="10.4" fill="#000" text-anchor="end" >1016</text>
<text x="275.5" y="257.5" font-size="10.4" fill="#000" text-anchor="end" >1016</text>
<text x="128.6" y="281.4" font-size="10.4" fill="#000" text-anchor="end" >1014</text>
<text x="275.5" y="281.4" font-size="10.4" fill="#000" text-anchor="end" >1014</text>
<text x="128.6" y="304.5" font-size="10.4" fill="#000" text-anchor="end" >1012</text>
<text x="275.5" y="304.5" font-size="10.4" fill="#000" text-anchor="end" >1012</text>
<text x="128.6" y="318.4" font-size="10.4" fill="#000" text-anchor="end" >20</text>
<text x="128.6" y="337.2" font-size="10.4" fill="#000" text-anchor="end" >15</text>
<text x="128.6" y="357.7" font-size="10.4" fill="#000" text-anchor="end" >10</text>
<text x="128.6" y="376.5" font-size="10.4" fill="#000" text-anchor="end" >5</text>
<text x="128.6" y="395.3" font-size="10.4" fill="#000" text-anchor="end" >0</text>
<text x="263.0" y="319.0" font-size="10.4" fill="#000" text-anchor="end" >72</text>
<text x="263.0" y="338.5" font-size="10.4" fill="#000" text-anchor="end" >54</text>
<text x="263.0" y="358.0" font-size="10.4" fill="#000" text-anchor="end" >36</text>
<text x="263.0" y="377.0" font-size="10.4" fill="#000" text-anchor="end" >18</text>
<text x="263.0" y="395.8" font-size="10.4" fill="#000" text-anchor="end" >0</text>
<text x="128.6" y="439.7" font-size="10.4" fill="#000" text-anchor="end" >15.0</text>
<text x="128.6" y="459.5" font-size="10.4" fill="#000" text-anchor="end" >7.0</text>
<text x="128.6" y="478.7" font-size="10.4" fill="#000" text-anchor="end" >2.0</text>
<text x="128.6" y="498.3" font-size="10.4" fill="#000" text-anchor="end" >0.5</text>
<text x="128.6" y="517.3" font-size="10.4" fill="#000" text-anchor="end" >0.0</text>
<text x="251.3" y="439.5" font-size="10.4" fill="#ff8000" >100</text>
<text x="251.3" y="459.1" font-size="10.4" fill="#ff8000" >20</text>
<text x="251.3" y="478.0" font-size="10.4" fill="#ff8000" >5</text>
<text x="251.3" y="497.6" font-size="10.4" fill="#ff8000" >1</text>
<text x="251.3" y="517.0" font-size="10.4" fill="#ff8000" >0</text>
<text x="128.6" y="526.2" font-size="10.4" fill="#000" text-anchor="end" >8</text>
<text x="128.6" y="546.3" font-size="10.4" fill="#000" text-anchor="end" >6</text>
<text x="128.6" y="565.1" font-size="10.4" fill="#000" text-anchor="end" >4</text>
<text x="128.6" y="585.3" font-size="10.4" fill="#000" text-anchor="end" >2</text>
<text x="128.6" y="604.5" font-size="10.4" fill="#000" text-anchor="end" >0</text>
<text x="251.3" y="526.0" font-size="10.4" fill="#ff8000" >1</text>
<text x="251.3" y="546.0" font-size="10.4" fill="#ff8000" >0.75</text>
<text x="251.3" y="564.8" font-size="10.4" fill="#ff8000" >0.5</text>
<text x="251.3" y="583.5" font-size="10.4" fill="#ff8000" >0.25</text>
<text x="251.3" y="602.5" font-size="10.4" fill="#ff8000" >0</text>
<text x="164.0" y="50.5" font-size="10.4" fill="#000" text-anchor="middle" >20</text>
<text x="203.8" y="50.5" font-size="10.4" fill="#000" text-anchor="middle" >02</text>
<text x="244.5" y="50.5" font-size="10.4" fill="#000" text-anchor="middle" >08</text>
<text x="164.0" y="613.7" font-size="10.4" fill="#000" text-anchor="middle" >18</text>
<text x="203.8" y="613.7" font-size="10.4" fill="#000" text-anchor="middle" >00</text>
<text x="244.7" y="613.7" font-size="10.4" fill="#000" text-anchor="middle" >06</text>
<text x="6.0" y="17.7" font-size="10.6" fill="#000" textLength="58.9" lengthAdjust="spacingAndGlyphs" >Czas lokalny</text>
<text x="6.0" y="29.6" font-size="10.6" fill="#000" textLength="54.1" lengthAdjust="spacingAndGlyphs" >(CET/CEST)</text>
<text x="6.5" y="45.8" font-size="10.6" fill="#a52020" textLength="92.5" lengthAdjust="spacingAndGlyphs" >Temperatura gruntu</text>
<text x="27.8" y="55.6" font-size="10.6" fill="#a52020" textLength="38.4" lengthAdjust="spacingAndGlyphs" >max/min</text>
<text x="5.6" y="67.6" font-size="10.6" fill="#000" textLength="61.8" lengthAdjust="spacingAndGlyphs" >Temperatura:</text>
<text x="12.8" y="79.7" font-size="10.6" fill="#ff0000" textLength="76.8" lengthAdjust="spacingAndGlyphs" >punkt środkowy</text>
<text x="27.8" y="89.6" font-size="10.6" fill="#ffd9cc" textLength="38.4" lengthAdjust="spacingAndGlyphs" >max/min</text>
<text x="9.9" y="101.6" font-size="10.6" fill="#0000ff" textLength="57.2" lengthAdjust="spacingAndGlyphs" >odczuwana</text>
<text x="27.8" y="111.2" font-size="10.6" fill="#aee0ff" textLength="38.4" lengthAdjust="spacingAndGlyphs" >max/min</text>
<text x="6.5" y="123.0" font-size="10.6" fill="#6a5acd" textLength="86.5" lengthAdjust="spacingAndGlyphs" >Temp. punktu rosy</text>
<text x="6.0" y="140.5" font-size="10.6" fill="#ff0000" textLength="94.4" lengthAdjust="spacingAndGlyphs" >Opad powyżej skali</text>
<text x="6.0" y="154.3" font-size="10.6" fill="#e8481c" textLength="97.3" lengthAdjust="spacingAndGlyphs" >Wilgotność względna</text>
<text x="6.0" y="168.3" font-size="10.6" fill="#000" textLength="84.5" lengthAdjust="spacingAndGlyphs" >Wystąpienie burzy</text>
<text x="6.0" y="182.3" font-size="10.6" fill="#00a800" textLength="39.2" lengthAdjust="spacingAndGlyphs" >Deszcz:</text>
<text x="49.5" y="182.3" font-size="10.6" fill="#00a800" textLength="19.3" lengthAdjust="spacingAndGlyphs" >max</text>
<text x="49.0" y="193.4" font-size="10.6" fill="#00a800" textLength="29.5" lengthAdjust="spacingAndGlyphs" >średni</text>
<text x="6.0" y="204.5" font-size="10.6" fill="#1030c8" textLength="29.5" lengthAdjust="spacingAndGlyphs" >Śnieg:</text>
<text x="48.7" y="204.5" font-size="10.6" fill="#1030c8" textLength="19.3" lengthAdjust="spacingAndGlyphs" >max</text>
<text x="49.0" y="215.7" font-size="10.6" fill="#1030c8" textLength="29.5" lengthAdjust="spacingAndGlyphs" >średni</text>
<text x="5.5" y="227.7" font-size="10.6" fill="#ff0000" textLength="88.7" lengthAdjust="spacingAndGlyphs" >Wystąpienie opadu</text>
<text x="5.5" y="238.4" font-size="10.6" fill="#ff0000" textLength="71.7" lengthAdjust="spacingAndGlyphs" >konwekcyjnego</text>
<text x="4.8" y="266.6" font-size="10.6" fill="#000" textLength="42.2" lengthAdjust="spacingAndGlyphs" >Ciśnienie</text>
<text x="4.8" y="279.4" font-size="10.6" fill="#000" textLength="66.1" lengthAdjust="spacingAndGlyphs" >zredukowane</text>
<text x="4.8" y="292.2" font-size="10.6" fill="#000" textLength="87.4" lengthAdjust="spacingAndGlyphs" >do poziomu morza</text>
<text x="5.1" y="321.7" font-size="10.6" fill="#000" textLength="66.3" lengthAdjust="spacingAndGlyphs" >Wiatr na 10m:</text>
<text x="9.9" y="337.6" font-size="10.6" fill="#ff0000" textLength="100.7" lengthAdjust="spacingAndGlyphs" >poryw powyżej skali</text>
<text x="9.9" y="351.6" font-size="10.6" fill="#ff0000" textLength="94.2" lengthAdjust="spacingAndGlyphs" >max porywy wiatru</text>
<text x="9.9" y="371.7" font-size="10.6" fill="#00009a" textLength="78.5" lengthAdjust="spacingAndGlyphs" >prędkość wiatru</text>
<text x="10.2" y="384.5" font-size="10.6" fill="#00009a" textLength="88.3" lengthAdjust="spacingAndGlyphs" >w środku obszaru</text>
<text x="9.9" y="412.6" font-size="10.6" fill="#00009a" textLength="73.8" lengthAdjust="spacingAndGlyphs" >kierunek wiatru</text>
<text x="6.0" y="432.6" font-size="10.6" fill="#a52020" textLength="90.5" lengthAdjust="spacingAndGlyphs" >Wierzchołek chmur</text>
<text x="6.0" y="447.6" font-size="10.6" fill="#000" textLength="85.3" lengthAdjust="spacingAndGlyphs" >Podstawa chmur*</text>
<text x="6.0" y="458.5" font-size="10.6" fill="#000" textLength="47.3" lengthAdjust="spacingAndGlyphs" >o pokryciu</text>
<text x="10.6" y="471.5" font-size="10.6" fill="#000" textLength="43.7" lengthAdjust="spacingAndGlyphs" >&gt; 7.9 okt.</text>
<text x="10.6" y="482.6" font-size="10.6" fill="#555" textLength="43.7" lengthAdjust="spacingAndGlyphs" >&gt; 6.5 okt.</text>
<text x="10.6" y="493.7" font-size="10.6" fill="#a0a098" textLength="43.7" lengthAdjust="spacingAndGlyphs" >&gt; 4.5 okt.</text>
<text x="10.6" y="504.0" font-size="10.6" fill="#d4d0c8" textLength="43.7" lengthAdjust="spacingAndGlyphs" >&gt; 2.5 okt.</text>
<rect x="11.1" y="505.0" width="43.9" height="11.5" fill="#87cefa" />
<text x="11.5" y="514.8" font-size="10.6" fill="#fff" textLength="42.8" lengthAdjust="spacingAndGlyphs" >&gt; 0.1 okt.</text>
<text x="6.0" y="529.6" font-size="10.6" fill="#ff8000" textLength="57.2" lengthAdjust="spacingAndGlyphs" >Widzialność</text>
<text x="5.6" y="546.3" font-size="10.6" fill="#000" textLength="39.1" lengthAdjust="spacingAndGlyphs" >Chmury:</text>
<rect x="10.2" y="551.1" width="40.7" height="11.5" fill="#87cefa" />
<text x="11.1" y="559.5" font-size="10.6" fill="#fff" textLength="39.6" lengthAdjust="spacingAndGlyphs" >wysokie</text>
<text x="9.9" y="572.5" font-size="10.6" fill="#a8a8a0" textLength="35.3" lengthAdjust="spacingAndGlyphs" >średnie</text>
<text x="9.9" y="584.4" font-size="10.6" fill="#444" textLength="26.3" lengthAdjust="spacingAndGlyphs" >niskie</text>
<text x="9.9" y="596.2" font-size="10.6" fill="#222" textLength="61.0" lengthAdjust="spacingAndGlyphs" >bardzo niskie</text>
<text x="6.0" y="608.7" font-size="10.6" fill="#ffb400" textLength="20.1" lengthAdjust="spacingAndGlyphs" >Mgła</text>
<text x="6.0" y="625.7" font-size="11" fill="#000" textLength="131.0" lengthAdjust="spacingAndGlyphs" >Czas uniwersalny (UTC)</text>
<text x="5.1" y="650.5" font-size="9" fill="#000" textLength="103.0" lengthAdjust="spacingAndGlyphs" font-weight="bold" >* powyżej poziomu morza</text>
<polyline points="68.3,16.6 133.2,16.6 155.6,45.3" fill="none" stroke="#000" stroke-width="1" stroke-linejoin="round" stroke-linecap="round" />
<polyline points="102.4,44.2 119.5,44.2 149.5,84.0" fill="none" stroke="#a52020" stroke-width="1" stroke-linejoin="round" stroke-linecap="round" />
<polyline points="92.5,76.3 115.0,76.3" fill="none" stroke="#ff0000" stroke-width="1" stroke-linejoin="round" stroke-linecap="round" />
<polyline points="130.5,76.3 133.0,76.3 156.3,102.7" fill="none" stroke="#ff0000" stroke-width="1" stroke-linejoin="round" stroke-linecap="round" />
<polyline points="70.0,99.3 131.0,99.3 136.0,102.5" fill="none" stroke="#0000ff" stroke-width="1" stroke-linejoin="round" stroke-linecap="round" />
<polyline points="95.5,120.2 131.0,120.2 142.4,114.0" fill="none" stroke="#6a5acd" stroke-width="1" stroke-linejoin="round" stroke-linecap="round" />
<polyline points="103.5,137.3 141.0,137.3 146.5,146.0" fill="none" stroke="#ff0000" stroke-width="1" stroke-linejoin="round" stroke-linecap="round" />
<polyline points="106.5,151.0 111.5,151.0" fill="none" stroke="#e8481c" stroke-width="1" stroke-linejoin="round" stroke-linecap="round" />
<polyline points="130.5,151.0 133.0,152.0 147.0,161.0" fill="none" stroke="#e8481c" stroke-width="1" stroke-linejoin="round" stroke-linecap="round" />
<polyline points="94.5,166.2 112.0,166.2" fill="none" stroke="#000" stroke-width="1" stroke-linejoin="round" stroke-linecap="round" />
<polyline points="130.0,166.0 133.0,167.0 136.0,171.0 139.0,172.0" fill="none" stroke="#000" stroke-width="1" stroke-linejoin="round" stroke-linecap="round" />
<polyline points="71.5,179.2 139.4,179.2" fill="none" stroke="#00a800" stroke-width="1" stroke-linejoin="round" stroke-linecap="round" />
<polyline points="80.5,190.2 135.5,190.2" fill="none" stroke="#00a800" stroke-width="1" stroke-linejoin="round" stroke-linecap="round" />
<polyline points="70.5,202.4 111.0,202.4" fill="none" stroke="#1030c8" stroke-width="1" stroke-linejoin="round" stroke-linecap="round" />
<polyline points="130.0,202.4 132.0,202.0 160.7,172.0" fill="none" stroke="#1030c8" stroke-width="1" stroke-linejoin="round" stroke-linecap="round" />
<polyline points="81.5,213.5 131.0,213.5 157.5,188.0" fill="none" stroke="#1030c8" stroke-width="1" stroke-linejoin="round" stroke-linecap="round" />
<polyline points="97.5,225.3 141.5,225.3 145.5,219.5" fill="none" stroke="#ff0000" stroke-width="1" stroke-linejoin="round" stroke-linecap="round" />
<polyline points="51.5,264.6 131.0,264.6 135.5,262.0" fill="none" stroke="#000" stroke-width="1" stroke-linejoin="round" stroke-linecap="round" />
<polyline points="112.5,334.0 117.0,334.0" fill="none" stroke="#ff0000" stroke-width="1" stroke-linejoin="round" stroke-linecap="round" />
<polyline points="130.5,334.0 132.0,332.0 138.0,318.0" fill="none" stroke="#ff0000" stroke-width="1" stroke-linejoin="round" stroke-linecap="round" />
<polyline points="107.5,348.2 131.0,348.2 137.0,345.5 143.0,340.8" fill="none" stroke="#ff0000" stroke-width="1" stroke-linejoin="round" stroke-linecap="round" />
<polyline points="92.5,367.5 137.0,367.5" fill="none" stroke="#00009a" stroke-width="1" stroke-linejoin="round" stroke-linecap="round" />
<polyline points="86.5,410.3 142.0,410.3" fill="none" stroke="#00009a" stroke-width="1" stroke-linejoin="round" stroke-linecap="round" />
<polyline points="100.5,430.5 133.0,430.5 184.3,447.6" fill="none" stroke="#a52020" stroke-width="1" stroke-linejoin="round" stroke-linecap="round" />
<polyline points="57.5,468.5 131.0,468.5 188.5,456.3" fill="none" stroke="#000" stroke-width="1" stroke-linejoin="round" stroke-linecap="round" />
<polyline points="57.5,480.3 143.5,480.3" fill="none" stroke="#555" stroke-width="1" stroke-linejoin="round" stroke-linecap="round" />
<polyline points="57.5,490.5 131.0,490.5 142.0,500.0" fill="none" stroke="#999" stroke-width="1" stroke-linejoin="round" stroke-linecap="round" />
<polyline points="57.5,501.0 131.0,501.0 137.0,505.0" fill="none" stroke="#d4d0c8" stroke-width="1" stroke-linejoin="round" stroke-linecap="round" />
<polyline points="57.5,510.6 136.0,510.6" fill="none" stroke="#87cefa" stroke-width="1" stroke-linejoin="round" stroke-linecap="round" />
<polyline points="57.5,512.4 136.0,512.4" fill="none" stroke="#87cefa" stroke-width="1" stroke-linejoin="round" stroke-linecap="round" />
<polyline points="67.5,527.3 129.5,527.3 135.9,519.3 173.9,464.8" fill="none" stroke="#ff9600" stroke-width="1" stroke-linejoin="round" stroke-linecap="round" />
<polyline points="54.0,556.6 184.4,556.6" fill="none" stroke="#87cefa" stroke-width="1" stroke-linejoin="round" stroke-linecap="round" />
<polyline points="54.0,558.4 184.4,558.4" fill="none" stroke="#87cefa" stroke-width="1" stroke-linejoin="round" stroke-linecap="round" />
<polyline points="135.5,557.5 184.4,557.5" fill="none" stroke="#fff" stroke-width="1" stroke-linejoin="round" stroke-linecap="round" />
<polyline points="49.5,571.4 193.0,571.4" fill="none" stroke="#888" stroke-width="1" stroke-linejoin="round" stroke-linecap="round" />
<polyline points="40.5,582.4 121.0,582.4" fill="none" stroke="#444" stroke-width="1" stroke-linejoin="round" stroke-linecap="round" />
<polyline points="130.0,582.4 135.5,582.4" fill="none" stroke="#444" stroke-width="1" stroke-linejoin="round" stroke-linecap="round" />
<polyline points="74.5,594.1 143.0,594.1" fill="none" stroke="#222" stroke-width="1" stroke-linejoin="round" stroke-linecap="round" />
<polyline points="30.5,605.5 217.8,605.5 219.3,601.4" fill="none" stroke="#ffb400" stroke-width="1.2" stroke-linejoin="round" stroke-linecap="round" />
<polyline points="139.5,625.5 146.0,625.5 156.5,609.0" fill="none" stroke="#000" stroke-width="1" stroke-linejoin="round" stroke-linecap="round" />
</g>
<g id="banner">
<defs>
<linearGradient id="bg1" gradientUnits="userSpaceOnUse" x1="280" y1="0" x2="820" y2="60">
<stop offset="0" stop-color="#124da6"/><stop offset="0.28" stop-color="#1853ab"/><stop offset="0.36" stop-color="#2560b4"/><stop offset="0.44" stop-color="#3570bd"/>
<stop offset="0.55" stop-color="#3470bd"/><stop offset="0.68" stop-color="#2663b7"/><stop offset="0.85" stop-color="#1e5bb1"/><stop offset="1" stop-color="#0f49a3"/>
</linearGradient>
<radialGradient id="bg2" cx="0.82" cy="0.35" r="0.25"><stop offset="0" stop-color="#3d78c2" stop-opacity="0.75"/><stop offset="1" stop-color="#3d78c2" stop-opacity="0"/></radialGradient>
<linearGradient id="bg3" x1="0" y1="0" x2="0" y2="1"><stop offset="0" stop-color="#0c3f98" stop-opacity="0.0"/><stop offset="0.75" stop-color="#0c3f98" stop-opacity="0.05"/><stop offset="1" stop-color="#0c3f98" stop-opacity="0.35"/></linearGradient>
<clipPath id="bclip"><rect x="280" y="0" width="540" height="120"/></clipPath>
</defs>
<rect x="280.0" y="0.0" width="540.0" height="120.0" fill="url(#bg1)" />
<rect x="280.0" y="0.0" width="540.0" height="120.0" fill="url(#bg2)" />
<rect x="280.0" y="0.0" width="540.0" height="120.0" fill="url(#bg3)" />
<g clip-path="url(#bclip)">
<rect x="613.6" y="21.3" width="54.4" height="120" rx="8" fill="#2b2b28" stroke="#55554f" stroke-width="1.2"/>
<rect x="616.2" y="24" width="49.2" height="116" rx="6" fill="#40413d"/>
<path d="M640 60 q10 6 8 20 q-2 14 6 24 l0 16 l-22 0 q6 -20 2 -34 q-2 -14 6 -26z" fill="#8d856c" opacity="0.8"/>
<path d="M622 70 q8 10 4 22 q6 12 2 28" stroke="#6f7f95" stroke-width="1" fill="none" opacity="0.8"/>
<path d="M650 48 l6 8 M652 90 l6 10 M646 104 l8 6" stroke="#9aa04a" stroke-width="1.2"/>
<rect x="626" y="25.5" width="6" height="4" fill="#6aa84f"/>
<rect x="631" y="26.5" width="14" height="5.5" rx="2.7" fill="#111"/>
<rect x="616.8" y="36" width="34.2" height="11" rx="2" fill="#e8e8e4"/>
<circle cx="656.5" cy="39" r="3.2" fill="#e8e8e4"/><circle cx="656.5" cy="39" r="1.4" fill="#333"/>
<rect x="654" y="103" width="6" height="14" fill="#d8d8d0" opacity="0.8"/>
<rect x="552" y="4.6" width="55.5" height="130" rx="8" fill="#1b1d20" stroke="#4a4c50" stroke-width="1.3"/>
<rect x="554.8" y="7.4" width="50" height="126" rx="6" fill="#0b0e14"/>
<path d="M554.8 13.4 a6 6 0 0 1 6 -6 l38 0 a6 6 0 0 1 6 6 l0 46.6 l-50 0z" fill="#0b2d6e"/>
<path d="M560 30 q20 10 44 4 M558 40 q22 12 46 6 M560 50 q20 8 44 4" stroke="#173e86" stroke-width="0.8" fill="none"/>
<rect x="576" y="11" width="14" height="5.6" rx="2.8" fill="#05070a"/>
<rect x="560.3" y="19.4" width="36.1" height="11.1" rx="2" fill="#070a10"/>
<circle cx="601" cy="27.7" r="2.9" fill="#070a10"/><circle cx="601" cy="27.7" r="1" fill="#ccc"/>
<text x="583" y="45.6" font-size="8.5" fill="#fff">2.5°</text>
<path d="M571.5 41.5 a2 2 0 0 1 2 -3 a2.6 2.6 0 0 1 5 0.6 a1.6 1.6 0 0 1 -0.4 3.1z" fill="none" stroke="#8fb2e6" stroke-width="0.8"/>
<rect x="570" y="51.5" width="7" height="4.5" rx="1" fill="#1d4a96"/><rect x="579" y="51.5" width="7" height="4.5" rx="1" fill="#1d4a96"/>
<rect x="561" y="63" width="8" height="22" rx="1.5" fill="#141922"/><rect x="571" y="63" width="8" height="22" rx="1.5" fill="#141922"/><rect x="581" y="63" width="8" height="22" rx="1.5" fill="#141922"/>
<circle cx="565" cy="74" r="1.8" fill="#2a5aa8"/><circle cx="575" cy="74.5" r="1.8" fill="#2a5aa8"/>
<rect x="561" y="89.5" width="40" height="8" rx="1.5" fill="#141922"/><rect x="561" y="101" width="40" height="8" rx="1.5" fill="#141922"/><rect x="561" y="113" width="40" height="8" rx="1.5" fill="#141922"/>
<rect x="563" y="92.3" width="18" height="1.6" fill="#8a8f98"/><rect x="563" y="104.3" width="7" height="1.6" fill="#8a8f98"/><rect x="563" y="116.3" width="7" height="1.6" fill="#8a8f98"/>
<circle cx="582.5" cy="105.3" r="2" fill="none" stroke="#2a5aa8" stroke-width="0.8"/><circle cx="582.5" cy="117" r="2" fill="none" stroke="#2a5aa8" stroke-width="0.8"/>
<rect x="584.8" y="48.5" width="55.1" height="100" rx="8" fill="#18191b" stroke="#505256" stroke-width="1.3"/>
<rect x="587.5" y="51.2" width="49.7" height="96" rx="6" fill="#fbfbfb"/>
<rect x="602" y="52.3" width="13.8" height="5.6" rx="2.8" fill="#0a0a0a"/>
<rect x="588.5" y="61.6" width="35.1" height="7.4" rx="1.5" fill="#1c1c1e"/>
<circle cx="628.8" cy="63.6" r="2.9" fill="#1c1c1e"/><circle cx="628.8" cy="63.6" r="1" fill="#ccc"/>
<rect x="589" y="77" width="11" height="2.6" rx="1" fill="#c9d3ee"/><rect x="622" y="76.5" width="9" height="1.2" fill="#9aa8e0"/><rect x="624" y="78.5" width="7" height="1.2" fill="#9aa8e0"/>
<rect x="590.5" y="81.5" width="40" height="37" fill="#f0f0ee"/>
<line x1="590.5" y1="81.5" x2="590.5" y2="118.5" stroke="#d0d0cc" stroke-width="0.4" />
<line x1="593.6" y1="81.5" x2="593.6" y2="118.5" stroke="#d0d0cc" stroke-width="0.4" />
<line x1="596.7" y1="81.5" x2="596.7" y2="118.5" stroke="#d0d0cc" stroke-width="0.4" />
<line x1="599.7" y1="81.5" x2="599.7" y2="118.5" stroke="#d0d0cc" stroke-width="0.4" />
<line x1="602.8" y1="81.5" x2="602.8" y2="118.5" stroke="#d0d0cc" stroke-width="0.4" />
<line x1="605.9" y1="81.5" x2="605.9" y2="118.5" stroke="#d0d0cc" stroke-width="0.4" />
<line x1="609.0" y1="81.5" x2="609.0" y2="118.5" stroke="#d0d0cc" stroke-width="0.4" />
<line x1="612.1" y1="81.5" x2="612.1" y2="118.5" stroke="#d0d0cc" stroke-width="0.4" />
<line x1="615.1" y1="81.5" x2="615.1" y2="118.5" stroke="#d0d0cc" stroke-width="0.4" />
<line x1="618.2" y1="81.5" x2="618.2" y2="118.5" stroke="#d0d0cc" stroke-width="0.4" />
<line x1="621.3" y1="81.5" x2="621.3" y2="118.5" stroke="#d0d0cc" stroke-width="0.4" />
<line x1="624.4" y1="81.5" x2="624.4" y2="118.5" stroke="#d0d0cc" stroke-width="0.4" />
<line x1="627.5" y1="81.5" x2="627.5" y2="118.5" stroke="#d0d0cc" stroke-width="0.4" />
<line x1="630.5" y1="81.5" x2="630.5" y2="118.5" stroke="#d0d0cc" stroke-width="0.4" />
<line x1="590.5" y1="83.0" x2="630.5" y2="83.0" stroke="#d6d6d2" stroke-width="0.4" />
<line x1="590.5" y1="87.0" x2="630.5" y2="87.0" stroke="#d6d6d2" stroke-width="0.4" />
<line x1="590.5" y1="91.0" x2="630.5" y2="91.0" stroke="#d6d6d2" stroke-width="0.4" />
<line x1="590.5" y1="95.0" x2="630.5" y2="95.0" stroke="#d6d6d2" stroke-width="0.4" />
<line x1="590.5" y1="99.0" x2="630.5" y2="99.0" stroke="#d6d6d2" stroke-width="0.4" />
<line x1="590.5" y1="103.0" x2="630.5" y2="103.0" stroke="#d6d6d2" stroke-width="0.4" />
<line x1="590.5" y1="107.0" x2="630.5" y2="107.0" stroke="#d6d6d2" stroke-width="0.4" />
<line x1="590.5" y1="111.0" x2="630.5" y2="111.0" stroke="#d6d6d2" stroke-width="0.4" />
<line x1="590.5" y1="115.0" x2="630.5" y2="115.0" stroke="#d6d6d2" stroke-width="0.4" />
<line x1="590.5" y1="119.0" x2="630.5" y2="119.0" stroke="#d6d6d2" stroke-width="0.4" />
<path d="M591 90 l3 -2.5 l5 1 l8 -2 l7 0 l6 -1.5 l7 -0.8 l3 1 l0 8.3 l-39 0z" fill="#8fd0ee"/>
<path d="M591 88.5 l3 -2.5 l5 1 l8 -2.2 l7 -0.2 l6 -1.6 l7 -0.8 l3 1" fill="none" stroke="#e03030" stroke-width="0.9"/>
<path d="M591 90 l3 -2.3 l5 1 l8 -2 l7 0 l6 -1.5 l7 -0.8 l3 1" fill="none" stroke="#2a3fc0" stroke-width="0.8"/>
<path d="M591 97 q2 8 4 7.5 q4 -8 8 -8.5 q6 0 8 5 q3 4 6 0 q4 -5 8 -4 q3 1 5 3" fill="none" stroke="#e06a40" stroke-width="0.7"/>
<path d="M612 104 l1.5 -1.5 l1.5 1.5 M614 118 l0.8 -6 l1.2 0 l1 6z M628 105 l1 -1" fill="#6cbf6c" stroke="#6cbf6c" stroke-width="0.6"/>
</g>
<text x="292.5" y="38.9" font-size="19.2" fill="#fff" textLength="157.1" lengthAdjust="spacingAndGlyphs" >Oficjalna aplikacja</text>
<text x="292.5" y="66.8" font-size="19.2" fill="#fff" textLength="208.8" lengthAdjust="spacingAndGlyphs"><tspan font-weight="bold">Meteo ICM</tspan> do pobrania</text>
<text x="292.5" y="94.8" font-size="19.2" fill="#fff" textLength="224.5" lengthAdjust="spacingAndGlyphs" >w Google Play i App Store</text>
<text x="709.0" y="95.2" font-size="16" fill="#fff" textLength="74.5" lengthAdjust="spacingAndGlyphs" font-weight="bold" stroke="#fff" stroke-width="0.35">icmmeteo</text>
<path d="M703.5 80.8 q3 -4.8 8.5 -4.6 q5 1.2 4.3 8.3" fill="none" stroke="#fff" stroke-width="1.8" stroke-linecap="round"/>
<path d="M698.3 92.5 q-0.3 8 6 9.6 q4 -0.3 6.5 -4" fill="none" stroke="#fff" stroke-width="2.1" stroke-linecap="round"/>
<rect x="787" y="80.6" width="21.1" height="20.9" rx="1.6" fill="#fff"/>
<text x="790.9" y="95.2" font-size="11" fill="#1a56ae" textLength="9.3" lengthAdjust="spacingAndGlyphs" font-weight="bold" stroke="#1a56ae" stroke-width="0.3">M</text>
<circle cx="803.6" cy="87.2" r="1.9" fill="none" stroke="#1a56ae" stroke-width="1.2"/>
</g>
<clipPath id="mgclip"><rect x="280" y="120" width="540" height="540"/></clipPath>
<g id="mgram" clip-path="url(#mgclip)">
<rect x="280.0" y="120.0" width="540.0" height="540.0" fill="#fdfdfb" />
<rect x="342.0" y="149.0" width="415.5" height="511.0" fill="#ffffff" />
<rect x="418.3" y="149.0" width="66.5" height="511.0" fill="#e6e6e6" />
<rect x="587.2" y="149.0" width="66.4" height="511.0" fill="#e6e6e6" />
<rect x="757.0" y="149.0" width="1.2" height="30.0" fill="#e0e0e0" />
<text x="279.2" y="132.5" font-size="12.2" fill="#00009c" textLength="154.0" lengthAdjust="spacingAndGlyphs" >wschód słońca: 05:13 CEST</text>
<text x="280.3" y="145.3" font-size="12.2" fill="#00009c" textLength="152.0" lengthAdjust="spacingAndGlyphs" >zachód słońca: 19:47 CEST</text>
<text x="550.3" y="132.5" font-size="12.2" fill="#00009c" text-anchor="middle" textLength="128.1" lengthAdjust="spacingAndGlyphs" >21°43'31"E, 53°59'46"N</text>
<text x="550.5" y="145.3" font-size="12.2" fill="#00009c" text-anchor="middle" textLength="81.4" lengthAdjust="spacingAndGlyphs" >(x=261,&#160; y=355)</text>
<text x="738.0" y="132.9" font-size="12.2" fill="#00009c" text-anchor="middle" textLength="158.2" lengthAdjust="spacingAndGlyphs" >wysokość (min, środek, max)</text>
<text x="738.3" y="145.3" font-size="12.2" fill="#00009c" text-anchor="middle" textLength="96.2" lengthAdjust="spacingAndGlyphs" >121 - 141 - 157 m</text>
<text x="377.9" y="161.4" font-size="12.6" fill="#000" text-anchor="middle" textLength="56.3" lengthAdjust="spacingAndGlyphs" >śro, 22.04</text>
<text x="546.5" y="161.4" font-size="12.6" fill="#000" text-anchor="middle" textLength="61.7" lengthAdjust="spacingAndGlyphs" >czw, 23.04</text>
<text x="715.0" y="161.4" font-size="12.6" fill="#000" text-anchor="middle" textLength="57.5" lengthAdjust="spacingAndGlyphs" >pią, 24.04</text>
<text x="302.7" y="175.0" font-size="12.6" fill="#000" textLength="33.3" lengthAdjust="spacingAndGlyphs" >CEST</text>
<text x="764.8" y="175.0" font-size="12.6" fill="#000" textLength="33.0" lengthAdjust="spacingAndGlyphs" >CEST</text>
<text x="356.3" y="175.0" font-size="12.6" fill="#000" text-anchor="middle" >11</text>
<text x="398.5" y="175.0" font-size="12.6" fill="#000" text-anchor="middle" >17</text>
<text x="440.7" y="175.0" font-size="12.6" fill="#000" text-anchor="middle" >23</text>
<text x="482.9" y="175.0" font-size="12.6" fill="#000" text-anchor="middle" >05</text>
<text x="525.1" y="175.0" font-size="12.6" fill="#000" text-anchor="middle" >11</text>
<text x="567.3" y="175.0" font-size="12.6" fill="#000" text-anchor="middle" >17</text>
<text x="609.5" y="175.0" font-size="12.6" fill="#000" text-anchor="middle" >23</text>
<text x="651.7" y="175.0" font-size="12.6" fill="#000" text-anchor="middle" >05</text>
<text x="693.9" y="175.0" font-size="12.6" fill="#000" text-anchor="middle" >11</text>
<text x="736.1" y="175.0" font-size="12.6" fill="#000" text-anchor="middle" >17</text>
<clipPath id="m1"><rect x="342.5" y="177.5" width="415.0" height="77.5"/></clipPath>
<rect x="342.5" y="177.5" width="415.0" height="77.5" fill="#fff" />
<rect x="418.3" y="177.5" width="66.5" height="77.5" fill="#e6e6e6" />
<rect x="587.2" y="177.5" width="66.4" height="77.5" fill="#e6e6e6" />
<rect x="342.5" y="245" width="415.0" height="10" fill="#87cefa"/>
<rect x="418.3" y="245.0" width="66.5" height="10.0" fill="#7fbeee" />
<rect x="587.2" y="245.0" width="66.4" height="10.0" fill="#7fbeee" />
<g clip-path="url(#m1)">
<polyline points="343.1,221.2 350.2,215.2 356.6,210.1 363.9,204.1 370.7,199.9 377.6,197.0 384.4,195.6 391.2,195.3 398.6,196.5 405.7,201.6 412.6,207.2 419.7,214.0 426.7,219.5 433.9,222.9 441.6,225.8 448.4,227.7 455.6,228.9 462.6,228.6 469.8,227.2 476.6,226.3 480.0,226.0 490.2,224.6 497.1,222.9 504.4,220.4 511.6,214.7 518.4,210.6 525.4,207.9 532.4,206.4 539.4,205.3 546.6,205.3 553.4,207.0 560.6,209.3 567.6,214.0 574.6,217.8 581.6,221.2 588.4,224.6 595.6,227.2 602.6,228.4 609.8,227.5 620.0,227.7 630.2,227.2 644.4,226.9 651.8,227.2 659.3,226.7 673.4,224.6 680.6,222.6 687.4,219.2 694.4,216.1 701.1,218.1 708.4,216.1 715.6,214.4 722.4,213.9 729.3,214.0 736.6,216.1 743.4,218.1 750.6,219.9 757.4,220.0" fill="none" stroke="#ffdcdc" stroke-width="5.8" stroke-linejoin="round" stroke-linecap="round" />
<polyline points="343.1,233.3 350.2,229.4 356.6,221.7 363.9,214.9 370.7,208.9 377.6,205.8 384.4,204.3 391.2,203.8 398.6,205.5 405.7,211.5 412.6,218.0 419.7,226.0 426.7,233.7 433.9,237.9 441.6,240.8 448.4,242.5 455.6,245.3 462.6,243.9 469.8,243.1 476.6,242.5 480.0,241.9 490.2,240.2 497.1,239.1 504.4,237.1 511.6,230.2 518.4,225.1 525.4,221.2 532.4,218.6 539.4,217.8 546.6,217.8 553.4,220.0 560.6,223.4 567.6,230.2 574.6,234.9 581.6,238.8 588.4,243.1 595.6,245.1 602.6,245.6 609.8,243.6 616.6,244.2 620.0,243.9 630.2,242.5 637.1,242.2 644.4,243.4 651.8,243.1 659.3,243.4 666.1,242.2 673.4,240.2 680.6,237.9 687.4,233.7 694.4,231.4 701.1,231.1 708.4,231.1 715.6,228.2 722.4,226.8 729.3,226.3 736.6,229.4 743.4,230.2 750.6,229.1 757.4,231.4" fill="none" stroke="#c4e6ff" stroke-width="6.5" stroke-linejoin="round" stroke-linecap="round" />
</g>
<line x1="356.6" y1="177.5" x2="356.6" y2="255.0" stroke="#000" stroke-width="1" stroke-dasharray="2,2" shape-rendering="crispEdges"/>
<line x1="377.7" y1="177.5" x2="377.7" y2="255.0" stroke="#000" stroke-width="1" stroke-dasharray="2,2" shape-rendering="crispEdges"/>
<line x1="398.8" y1="177.5" x2="398.8" y2="255.0" stroke="#000" stroke-width="1" stroke-dasharray="2,2" shape-rendering="crispEdges"/>
<line x1="419.9" y1="177.5" x2="419.9" y2="255.0" stroke="#000" stroke-width="1" stroke-dasharray="2,2" shape-rendering="crispEdges"/>
<line x1="441.0" y1="177.5" x2="441.0" y2="255.0" stroke="#000" stroke-width="1" stroke-dasharray="2,2" shape-rendering="crispEdges"/>
<line x1="462.1" y1="177.5" x2="462.1" y2="255.0" stroke="#000" stroke-width="1" stroke-dasharray="2,2" shape-rendering="crispEdges"/>
<line x1="483.2" y1="177.5" x2="483.2" y2="255.0" stroke="#000" stroke-width="1" stroke-dasharray="2,2" shape-rendering="crispEdges"/>
<line x1="504.3" y1="177.5" x2="504.3" y2="255.0" stroke="#000" stroke-width="1" stroke-dasharray="2,2" shape-rendering="crispEdges"/>
<line x1="525.4" y1="177.5" x2="525.4" y2="255.0" stroke="#000" stroke-width="1" stroke-dasharray="2,2" shape-rendering="crispEdges"/>
<line x1="546.5" y1="177.5" x2="546.5" y2="255.0" stroke="#000" stroke-width="1" stroke-dasharray="2,2" shape-rendering="crispEdges"/>
<line x1="567.6" y1="177.5" x2="567.6" y2="255.0" stroke="#000" stroke-width="1" stroke-dasharray="2,2" shape-rendering="crispEdges"/>
<line x1="588.7" y1="177.5" x2="588.7" y2="255.0" stroke="#000" stroke-width="1" stroke-dasharray="2,2" shape-rendering="crispEdges"/>
<line x1="609.8" y1="177.5" x2="609.8" y2="255.0" stroke="#000" stroke-width="1" stroke-dasharray="2,2" shape-rendering="crispEdges"/>
<line x1="630.9" y1="177.5" x2="630.9" y2="255.0" stroke="#000" stroke-width="1" stroke-dasharray="2,2" shape-rendering="crispEdges"/>
<line x1="652.0" y1="177.5" x2="652.0" y2="255.0" stroke="#000" stroke-width="1" stroke-dasharray="2,2" shape-rendering="crispEdges"/>
<line x1="673.1" y1="177.5" x2="673.1" y2="255.0" stroke="#000" stroke-width="1" stroke-dasharray="2,2" shape-rendering="crispEdges"/>
<line x1="694.2" y1="177.5" x2="694.2" y2="255.0" stroke="#000" stroke-width="1" stroke-dasharray="2,2" shape-rendering="crispEdges"/>
<line x1="715.3" y1="177.5" x2="715.3" y2="255.0" stroke="#000" stroke-width="1" stroke-dasharray="2,2" shape-rendering="crispEdges"/>
<line x1="736.4" y1="177.5" x2="736.4" y2="255.0" stroke="#000" stroke-width="1" stroke-dasharray="2,2" shape-rendering="crispEdges"/>
<line x1="342.5" y1="188.4" x2="757.5" y2="188.4" stroke="#000" stroke-width="1" stroke-dasharray="2,2" shape-rendering="crispEdges"/>
<line x1="342.5" y1="207.2" x2="757.5" y2="207.2" stroke="#000" stroke-width="1" stroke-dasharray="2,2" shape-rendering="crispEdges"/>
<line x1="342.5" y1="226.2" x2="757.5" y2="226.2" stroke="#000" stroke-width="1" stroke-dasharray="2,2" shape-rendering="crispEdges"/>
<line x1="342.5" y1="245.0" x2="757.5" y2="245.0" stroke="#000" stroke-width="1" stroke-dasharray="2,2" shape-rendering="crispEdges"/>
<g clip-path="url(#m1)">
<line x1="349.4" y1="201.2" x2="349.4" y2="211.8" stroke="#a81c1c" stroke-width="1.1" />
<line x1="356.6" y1="192.0" x2="356.6" y2="210.0" stroke="#a81c1c" stroke-width="1.1" />
<line x1="363.6" y1="186.2" x2="363.6" y2="206.7" stroke="#a81c1c" stroke-width="1.1" />
<line x1="370.6" y1="181.4" x2="370.6" y2="204.1" stroke="#a81c1c" stroke-width="1.1" />
<line x1="377.6" y1="180.2" x2="377.6" y2="202.4" stroke="#a81c1c" stroke-width="1.1" />
<line x1="384.6" y1="182.3" x2="384.6" y2="201.6" stroke="#a81c1c" stroke-width="1.1" />
<line x1="391.6" y1="185.4" x2="391.6" y2="201.6" stroke="#a81c1c" stroke-width="1.1" />
<line x1="398.6" y1="188.8" x2="398.6" y2="202.4" stroke="#a81c1c" stroke-width="1.1" />
<line x1="405.6" y1="194.8" x2="405.6" y2="206.7" stroke="#a81c1c" stroke-width="1.1" />
<line x1="412.6" y1="198.7" x2="412.6" y2="214.4" stroke="#a81c1c" stroke-width="1.1" />
<line x1="419.7" y1="203.3" x2="419.7" y2="221.2" stroke="#a81c1c" stroke-width="1.1" />
<line x1="426.7" y1="205.3" x2="426.7" y2="223.8" stroke="#a81c1c" stroke-width="1.1" />
<line x1="433.7" y1="206.4" x2="433.7" y2="226.0" stroke="#a81c1c" stroke-width="1.1" />
<line x1="441.4" y1="207.9" x2="441.4" y2="227.7" stroke="#a81c1c" stroke-width="1.1" />
<line x1="448.4" y1="208.8" x2="448.4" y2="231.1" stroke="#a81c1c" stroke-width="1.1" />
<line x1="455.4" y1="209.3" x2="455.4" y2="232.3" stroke="#a81c1c" stroke-width="1.1" />
<line x1="462.4" y1="210.1" x2="462.4" y2="231.5" stroke="#a81c1c" stroke-width="1.1" />
<line x1="469.4" y1="210.5" x2="469.4" y2="230.1" stroke="#a81c1c" stroke-width="1.1" />
<line x1="476.4" y1="210.5" x2="476.4" y2="229.4" stroke="#a81c1c" stroke-width="1.1" />
<line x1="483.4" y1="210.5" x2="483.4" y2="227.2" stroke="#a81c1c" stroke-width="1.1" />
<line x1="490.4" y1="211.0" x2="490.4" y2="226.3" stroke="#a81c1c" stroke-width="1.1" />
<line x1="497.4" y1="210.1" x2="497.4" y2="222.9" stroke="#a81c1c" stroke-width="1.1" />
<line x1="504.4" y1="210.1" x2="504.4" y2="220.9" stroke="#a81c1c" stroke-width="1.1" />
<line x1="511.4" y1="204.1" x2="511.4" y2="210.6" stroke="#a81c1c" stroke-width="1.1" />
<line x1="518.4" y1="196.1" x2="518.4" y2="207.6" stroke="#a81c1c" stroke-width="1.1" />
<line x1="525.4" y1="192.2" x2="525.4" y2="206.7" stroke="#a81c1c" stroke-width="1.1" />
<line x1="532.4" y1="189.3" x2="532.4" y2="203.3" stroke="#a81c1c" stroke-width="1.1" />
<line x1="539.4" y1="187.1" x2="539.4" y2="202.4" stroke="#a81c1c" stroke-width="1.1" />
<line x1="546.6" y1="187.9" x2="546.6" y2="203.3" stroke="#a81c1c" stroke-width="1.1" />
<line x1="553.4" y1="190.8" x2="553.4" y2="202.4" stroke="#a81c1c" stroke-width="1.1" />
<line x1="560.6" y1="193.4" x2="560.6" y2="205.0" stroke="#a81c1c" stroke-width="1.1" />
<line x1="567.6" y1="199.0" x2="567.6" y2="213.5" stroke="#a81c1c" stroke-width="1.1" />
<line x1="574.6" y1="203.3" x2="574.6" y2="218.7" stroke="#a81c1c" stroke-width="1.1" />
<line x1="581.6" y1="204.1" x2="581.6" y2="225.5" stroke="#a81c1c" stroke-width="1.1" />
<line x1="588.4" y1="205.3" x2="588.4" y2="228.0" stroke="#a81c1c" stroke-width="1.1" />
<line x1="595.6" y1="206.2" x2="595.6" y2="233.2" stroke="#a81c1c" stroke-width="1.1" />
<line x1="602.6" y1="207.2" x2="602.6" y2="234.5" stroke="#a81c1c" stroke-width="1.1" />
<line x1="609.8" y1="207.9" x2="609.8" y2="233.5" stroke="#a81c1c" stroke-width="1.1" />
<line x1="616.6" y1="208.4" x2="616.6" y2="233.5" stroke="#a81c1c" stroke-width="1.1" />
<line x1="623.4" y1="209.6" x2="623.4" y2="232.8" stroke="#a81c1c" stroke-width="1.1" />
<line x1="630.4" y1="210.1" x2="630.4" y2="230.6" stroke="#a81c1c" stroke-width="1.1" />
<line x1="637.4" y1="210.1" x2="637.4" y2="231.8" stroke="#a81c1c" stroke-width="1.1" />
<line x1="644.6" y1="210.5" x2="644.6" y2="229.8" stroke="#a81c1c" stroke-width="1.1" />
<line x1="651.8" y1="211.0" x2="651.8" y2="228.0" stroke="#a81c1c" stroke-width="1.1" />
<line x1="658.8" y1="211.3" x2="658.8" y2="226.7" stroke="#a81c1c" stroke-width="1.1" />
<line x1="666.1" y1="211.3" x2="666.1" y2="225.0" stroke="#a81c1c" stroke-width="1.1" />
<line x1="673.4" y1="211.0" x2="673.4" y2="224.3" stroke="#a81c1c" stroke-width="1.1" />
<line x1="680.4" y1="210.5" x2="680.4" y2="221.2" stroke="#a81c1c" stroke-width="1.1" />
<line x1="687.4" y1="210.5" x2="687.4" y2="218.1" stroke="#a81c1c" stroke-width="1.1" />
<line x1="694.4" y1="207.6" x2="694.4" y2="215.8" stroke="#a81c1c" stroke-width="1.1" />
<line x1="701.4" y1="204.7" x2="701.4" y2="216.4" stroke="#a81c1c" stroke-width="1.1" />
<line x1="708.4" y1="203.6" x2="708.4" y2="214.7" stroke="#a81c1c" stroke-width="1.1" />
<line x1="715.6" y1="204.1" x2="715.6" y2="213.0" stroke="#a81c1c" stroke-width="1.1" />
<line x1="722.4" y1="204.5" x2="722.4" y2="212.3" stroke="#a81c1c" stroke-width="1.1" />
<line x1="729.4" y1="205.5" x2="729.4" y2="212.7" stroke="#a81c1c" stroke-width="1.1" />
<line x1="736.6" y1="206.7" x2="736.6" y2="214.7" stroke="#a81c1c" stroke-width="1.1" />
<line x1="743.4" y1="208.4" x2="743.4" y2="217.0" stroke="#a81c1c" stroke-width="1.1" />
<line x1="750.6" y1="208.4" x2="750.6" y2="219.5" stroke="#a81c1c" stroke-width="1.1" />
<circle cx="343.0" cy="249.4" r="1.7" fill="#6a5acd"/>
<circle cx="349.4" cy="248.2" r="1.7" fill="#6a5acd"/>
<circle cx="356.6" cy="244.3" r="1.7" fill="#6a5acd"/>
<circle cx="363.6" cy="240.5" r="1.7" fill="#6a5acd"/>
<circle cx="370.6" cy="240.5" r="1.7" fill="#6a5acd"/>
<circle cx="377.6" cy="245.1" r="1.7" fill="#6a5acd"/>
<circle cx="384.6" cy="246.3" r="1.7" fill="#6a5acd"/>
<circle cx="391.6" cy="246.3" r="1.7" fill="#6a5acd"/>
<circle cx="398.6" cy="239.3" r="1.7" fill="#6a5acd"/>
<circle cx="405.6" cy="233.5" r="1.7" fill="#6a5acd"/>
<circle cx="412.6" cy="236.8" r="1.7" fill="#6a5acd"/>
<circle cx="419.7" cy="239.7" r="1.7" fill="#6a5acd"/>
<circle cx="426.7" cy="232.1" r="1.7" fill="#6a5acd"/>
<circle cx="433.7" cy="232.8" r="1.7" fill="#6a5acd"/>
<circle cx="440.7" cy="234.9" r="1.7" fill="#6a5acd"/>
<circle cx="447.9" cy="235.6" r="1.7" fill="#6a5acd"/>
<circle cx="454.9" cy="236.9" r="1.7" fill="#6a5acd"/>
<circle cx="461.9" cy="236.6" r="1.7" fill="#6a5acd"/>
<circle cx="469.1" cy="236.6" r="1.7" fill="#6a5acd"/>
<circle cx="476.1" cy="236.1" r="1.7" fill="#6a5acd"/>
<circle cx="483.1" cy="235.2" r="1.7" fill="#6a5acd"/>
<circle cx="490.2" cy="234.4" r="1.7" fill="#6a5acd"/>
<circle cx="497.2" cy="232.8" r="1.7" fill="#6a5acd"/>
<circle cx="504.2" cy="231.0" r="1.7" fill="#6a5acd"/>
<circle cx="511.2" cy="231.1" r="1.7" fill="#6a5acd"/>
<circle cx="518.4" cy="235.0" r="1.7" fill="#6a5acd"/>
<circle cx="525.4" cy="244.3" r="1.7" fill="#6a5acd"/>
<circle cx="532.4" cy="244.6" r="1.7" fill="#6a5acd"/>
<circle cx="539.4" cy="240.5" r="1.7" fill="#6a5acd"/>
<circle cx="546.6" cy="242.0" r="1.7" fill="#6a5acd"/>
<circle cx="553.4" cy="244.4" r="1.7" fill="#6a5acd"/>
<circle cx="560.6" cy="248.2" r="1.7" fill="#6a5acd"/>
<circle cx="567.6" cy="251.4" r="1.7" fill="#6a5acd"/>
<circle cx="574.6" cy="249.2" r="1.7" fill="#6a5acd"/>
<circle cx="581.6" cy="246.3" r="1.7" fill="#6a5acd"/>
<circle cx="588.6" cy="246.3" r="1.7" fill="#6a5acd"/>
<circle cx="595.6" cy="246.3" r="1.7" fill="#6a5acd"/>
<circle cx="602.6" cy="248.0" r="1.7" fill="#6a5acd"/>
<circle cx="609.8" cy="247.3" r="1.7" fill="#6a5acd"/>
<circle cx="616.6" cy="247.3" r="1.7" fill="#6a5acd"/>
<circle cx="623.4" cy="242.6" r="1.7" fill="#6a5acd"/>
<circle cx="630.4" cy="237.4" r="1.7" fill="#6a5acd"/>
<circle cx="637.4" cy="236.6" r="1.7" fill="#6a5acd"/>
<circle cx="644.6" cy="236.1" r="1.7" fill="#6a5acd"/>
<circle cx="651.8" cy="234.4" r="1.7" fill="#6a5acd"/>
<circle cx="658.8" cy="232.8" r="1.7" fill="#6a5acd"/>
<circle cx="666.1" cy="232.3" r="1.7" fill="#6a5acd"/>
<circle cx="673.1" cy="230.3" r="1.7" fill="#6a5acd"/>
<circle cx="680.1" cy="231.5" r="1.7" fill="#6a5acd"/>
<circle cx="687.3" cy="229.8" r="1.7" fill="#6a5acd"/>
<circle cx="694.3" cy="229.2" r="1.7" fill="#6a5acd"/>
<circle cx="701.3" cy="228.4" r="1.7" fill="#6a5acd"/>
<circle cx="708.4" cy="226.0" r="1.7" fill="#6a5acd"/>
<circle cx="715.6" cy="228.0" r="1.7" fill="#6a5acd"/>
<circle cx="722.4" cy="229.4" r="1.7" fill="#6a5acd"/>
<circle cx="729.4" cy="229.1" r="1.7" fill="#6a5acd"/>
<circle cx="736.6" cy="229.2" r="1.7" fill="#6a5acd"/>
<circle cx="743.4" cy="228.0" r="1.7" fill="#6a5acd"/>
<circle cx="750.6" cy="227.2" r="1.7" fill="#6a5acd"/>
<circle cx="757.6" cy="225.5" r="1.7" fill="#6a5acd"/>
<polyline points="343.1,231.1 350.2,227.2 356.6,219.5 363.9,212.7 370.7,206.7 377.6,203.6 384.4,202.1 391.2,201.6 398.6,203.3 405.7,209.3 412.6,215.8 419.7,223.8 426.7,231.5 433.9,235.7 441.6,238.6 448.4,240.3 455.6,243.1 462.6,241.7 469.8,240.9 476.6,240.3 480.0,239.7 490.2,238.0 497.1,236.9 504.4,234.9 511.6,228.0 518.4,222.9 525.4,219.0 532.4,216.4 539.4,215.6 546.6,215.6 553.4,217.8 560.6,221.2 567.6,228.0 574.6,232.7 581.6,236.6 588.4,240.9 595.6,242.9 602.6,243.4 609.8,241.4 616.6,242.0 620.0,241.7 630.2,240.3 637.1,240.0 644.4,241.2 651.8,240.9 659.3,241.2 666.1,240.0 673.4,238.0 680.6,235.7 687.4,231.5 694.4,229.2 701.1,228.9 708.4,228.9 715.6,226.0 722.4,224.6 729.3,224.1 736.6,227.2 743.4,228.0 750.6,226.9 757.4,229.2" fill="none" stroke="#0000ff" stroke-width="2.1" stroke-linejoin="round" stroke-linecap="round" />
<polyline points="343.1,221.2 350.2,215.2 356.6,210.1 363.9,204.1 370.7,199.9 377.6,197.0 384.4,195.6 391.2,195.3 398.6,196.5 405.7,201.6 412.6,207.2 419.7,214.0 426.7,219.5 433.9,222.9 441.6,225.8 448.4,227.7 455.6,228.9 462.6,228.6 469.8,227.2 476.6,226.3 480.0,226.0 490.2,224.6 497.1,222.9 504.4,220.4 511.6,214.7 518.4,210.6 525.4,207.9 532.4,206.4 539.4,205.3 546.6,205.3 553.4,207.0 560.6,209.3 567.6,214.0 574.6,217.8 581.6,221.2 588.4,224.6 595.6,227.2 602.6,228.4 609.8,227.5 620.0,227.7 630.2,227.2 644.4,226.9 651.8,227.2 659.3,226.7 673.4,224.6 680.6,222.6 687.4,219.2 694.4,216.1 701.1,218.1 708.4,216.1 715.6,214.4 722.4,213.9 729.3,214.0 736.6,216.1 743.4,218.1 750.6,219.9 757.4,220.0" fill="none" stroke="#ff0000" stroke-width="2.4" stroke-linejoin="round" stroke-linecap="round" />
</g>
<rect x="342.5" y="177.5" width="415.0" height="77.5" fill="none" stroke="#1a1a1a" stroke-width="1.3"/>
<line x1="342.0" y1="176.6" x2="758.0" y2="176.6" stroke="#8c8c8c" stroke-width="0.9" />
<text x="337.5" y="192.8" font-size="11" fill="#000" text-anchor="end" >15</text>
<text x="761.8" y="192.8" font-size="11" fill="#000" >15</text>
<text x="337.5" y="211.7" font-size="11" fill="#000" text-anchor="end" >10</text>
<text x="761.8" y="211.7" font-size="11" fill="#000" >10</text>
<text x="337.5" y="229.8" font-size="11" fill="#000" text-anchor="end" >5</text>
<text x="764.8" y="229.8" font-size="11" fill="#000" >5</text>
<text x="337.5" y="248.8" font-size="11" fill="#000" text-anchor="end" >0</text>
<text x="764.8" y="248.8" font-size="11" fill="#000" >0</text>
<text transform="translate(293.0,216.5) rotate(-90)" font-size="12.2" fill="#00009c" text-anchor="middle" textLength="65.7" lengthAdjust="spacingAndGlyphs">temperatura</text>
<text transform="translate(306.0,216.5) rotate(-90)" font-size="12.2" fill="#00009c" text-anchor="middle">(°C)</text>
<text transform="translate(816.5,216.5) rotate(-90)" font-size="12.2" fill="#00009c" text-anchor="middle" textLength="65.7" lengthAdjust="spacingAndGlyphs">temperatura</text>
<text transform="translate(803.5,216.5) rotate(-90)" font-size="12.2" fill="#00009c" text-anchor="middle">(°C)</text>
<clipPath id="m2"><rect x="342.5" y="264" width="415.0" height="77.5"/></clipPath>
<rect x="342.5" y="264.0" width="415.0" height="77.5" fill="#fff" />
<rect x="418.3" y="264.0" width="66.5" height="77.5" fill="#e6e6e6" />
<rect x="587.2" y="264.0" width="66.4" height="77.5" fill="#e6e6e6" />
<line x1="356.6" y1="264.0" x2="356.6" y2="341.5" stroke="#000" stroke-width="1" stroke-dasharray="2,2" shape-rendering="crispEdges"/>
<line x1="377.7" y1="264.0" x2="377.7" y2="341.5" stroke="#000" stroke-width="1" stroke-dasharray="2,2" shape-rendering="crispEdges"/>
<line x1="398.8" y1="264.0" x2="398.8" y2="341.5" stroke="#000" stroke-width="1" stroke-dasharray="2,2" shape-rendering="crispEdges"/>
<line x1="419.9" y1="264.0" x2="419.9" y2="341.5" stroke="#000" stroke-width="1" stroke-dasharray="2,2" shape-rendering="crispEdges"/>
<line x1="441.0" y1="264.0" x2="441.0" y2="341.5" stroke="#000" stroke-width="1" stroke-dasharray="2,2" shape-rendering="crispEdges"/>
<line x1="462.1" y1="264.0" x2="462.1" y2="341.5" stroke="#000" stroke-width="1" stroke-dasharray="2,2" shape-rendering="crispEdges"/>
<line x1="483.2" y1="264.0" x2="483.2" y2="341.5" stroke="#000" stroke-width="1" stroke-dasharray="2,2" shape-rendering="crispEdges"/>
<line x1="504.3" y1="264.0" x2="504.3" y2="341.5" stroke="#000" stroke-width="1" stroke-dasharray="2,2" shape-rendering="crispEdges"/>
<line x1="525.4" y1="264.0" x2="525.4" y2="341.5" stroke="#000" stroke-width="1" stroke-dasharray="2,2" shape-rendering="crispEdges"/>
<line x1="546.5" y1="264.0" x2="546.5" y2="341.5" stroke="#000" stroke-width="1" stroke-dasharray="2,2" shape-rendering="crispEdges"/>
<line x1="567.6" y1="264.0" x2="567.6" y2="341.5" stroke="#000" stroke-width="1" stroke-dasharray="2,2" shape-rendering="crispEdges"/>
<line x1="588.7" y1="264.0" x2="588.7" y2="341.5" stroke="#000" stroke-width="1" stroke-dasharray="2,2" shape-rendering="crispEdges"/>
<line x1="609.8" y1="264.0" x2="609.8" y2="341.5" stroke="#000" stroke-width="1" stroke-dasharray="2,2" shape-rendering="crispEdges"/>
<line x1="630.9" y1="264.0" x2="630.9" y2="341.5" stroke="#000" stroke-width="1" stroke-dasharray="2,2" shape-rendering="crispEdges"/>
<line x1="652.0" y1="264.0" x2="652.0" y2="341.5" stroke="#000" stroke-width="1" stroke-dasharray="2,2" shape-rendering="crispEdges"/>
<line x1="673.1" y1="264.0" x2="673.1" y2="341.5" stroke="#000" stroke-width="1" stroke-dasharray="2,2" shape-rendering="crispEdges"/>
<line x1="694.2" y1="264.0" x2="694.2" y2="341.5" stroke="#000" stroke-width="1" stroke-dasharray="2,2" shape-rendering="crispEdges"/>
<line x1="715.3" y1="264.0" x2="715.3" y2="341.5" stroke="#000" stroke-width="1" stroke-dasharray="2,2" shape-rendering="crispEdges"/>
<line x1="736.4" y1="264.0" x2="736.4" y2="341.5" stroke="#000" stroke-width="1" stroke-dasharray="2,2" shape-rendering="crispEdges"/>
<line x1="342.5" y1="266.2" x2="757.5" y2="266.2" stroke="#000" stroke-width="1" stroke-dasharray="2,2" shape-rendering="crispEdges"/>
<line x1="342.5" y1="281.4" x2="757.5" y2="281.4" stroke="#000" stroke-width="1" stroke-dasharray="2,2" shape-rendering="crispEdges"/>
<line x1="342.5" y1="296.5" x2="757.5" y2="296.5" stroke="#000" stroke-width="1" stroke-dasharray="2,2" shape-rendering="crispEdges"/>
<line x1="342.5" y1="311.4" x2="757.5" y2="311.4" stroke="#000" stroke-width="1" stroke-dasharray="2,2" shape-rendering="crispEdges"/>
<line x1="342.5" y1="326.4" x2="757.5" y2="326.4" stroke="#000" stroke-width="1" stroke-dasharray="2,2" shape-rendering="crispEdges"/>
<g clip-path="url(#m2)">
<line x1="342.5" y1="341.0" x2="757.5" y2="341.0" stroke="#00a800" stroke-width="1" stroke-dasharray="2,2"/>
<line x1="648.4" y1="339.3" x2="648.4" y2="341.5" stroke="#00b400" stroke-width="1.1" />
<line x1="655.4" y1="330.3" x2="655.4" y2="341.5" stroke="#00b400" stroke-width="1.1" />
<line x1="662.4" y1="329.0" x2="662.4" y2="341.5" stroke="#00b400" stroke-width="1.1" />
<line x1="669.3" y1="333.5" x2="669.3" y2="341.5" stroke="#00b400" stroke-width="1.1" />
<line x1="676.3" y1="338.5" x2="676.3" y2="341.5" stroke="#00b400" stroke-width="1.1" />
<line x1="683.3" y1="331.4" x2="683.3" y2="341.5" stroke="#00b400" stroke-width="1.1" />
<line x1="690.4" y1="327.4" x2="690.4" y2="341.5" stroke="#00b400" stroke-width="1.1" />
<line x1="697.4" y1="327.1" x2="697.4" y2="341.5" stroke="#00b400" stroke-width="1.1" />
<line x1="704.4" y1="335.4" x2="704.4" y2="341.5" stroke="#00b400" stroke-width="1.1" />
<line x1="711.3" y1="338.2" x2="711.3" y2="341.5" stroke="#00b400" stroke-width="1.1" />
<line x1="732.4" y1="337.3" x2="732.4" y2="341.5" stroke="#00b400" stroke-width="1.1" />
<line x1="739.4" y1="338.5" x2="739.4" y2="341.5" stroke="#00b400" stroke-width="1.1" />
<line x1="746.4" y1="338.5" x2="746.4" y2="341.5" stroke="#00b400" stroke-width="1.1" />
<line x1="753.3" y1="334.1" x2="753.3" y2="341.5" stroke="#00b400" stroke-width="1.1" />
<rect x="694.0" y="339.3" width="8.0" height="2.2" fill="#00c000" />
<rect x="652.0" y="340.3" width="30.0" height="1.2" fill="#00c000" />
<rect x="702.0" y="340.3" width="10.0" height="1.2" fill="#00c000" />
<rect x="748.0" y="340.3" width="9.0" height="1.2" fill="#00c000" />
<polyline points="342.8,303.3 350.0,309.6 356.8,311.3 363.7,313.9 370.5,319.9 377.3,325.3 384.1,327.6 391.0,327.6 397.8,321.6 406.3,310.5 413.2,303.7 419.9,297.1 427.6,285.1 440.7,279.1 453.9,274.3 462.0,273.7 469.3,276.5 477.0,276.9 490.1,275.9 497.8,276.5 504.4,278.0 511.0,286.8 525.2,316.5 532.3,318.7 539.5,315.8 550.5,317.1 560.4,318.7 566.9,317.6 573.5,311.4 583.4,301.5 587.3,297.4 596.1,292.5 602.0,291.9 609.3,293.6 616.6,292.5 629.8,277.8 645.0,274.9 653.2,270.2 661.9,268.8 673.1,268.8 682.4,275.5 694.1,281.3 701.5,277.8 708.8,280.5 716.1,284.9 723.4,286.3 730.7,285.4 739.5,281.3 751.2,273.1 757.6,269.6" fill="none" stroke="#e84a1a" stroke-width="2.1" stroke-linejoin="round" stroke-linecap="round" />
</g>
<rect x="342.5" y="264" width="415.0" height="77.5" fill="none" stroke="#1a1a1a" stroke-width="1.3"/>
<line x1="342.0" y1="263.1" x2="758.0" y2="263.1" stroke="#8c8c8c" stroke-width="0.9" />
<rect x="660.9" y="340.2" width="3.0" height="2.6" fill="#d01010" />
<rect x="667.8" y="340.2" width="3.0" height="2.6" fill="#d01010" />
<rect x="674.8" y="340.2" width="3.0" height="2.6" fill="#d01010" />
<rect x="681.8" y="340.2" width="3.0" height="2.6" fill="#d01010" />
<rect x="688.9" y="340.2" width="3.0" height="2.6" fill="#d01010" />
<rect x="695.9" y="340.2" width="3.0" height="2.6" fill="#d01010" />
<rect x="702.9" y="340.2" width="3.0" height="2.6" fill="#d01010" />
<rect x="709.8" y="340.2" width="3.0" height="2.6" fill="#d01010" />
<rect x="717.0" y="340.2" width="3.0" height="2.6" fill="#d01010" />
<rect x="724.1" y="340.2" width="3.0" height="2.6" fill="#d01010" />
<rect x="730.9" y="340.2" width="3.0" height="2.6" fill="#d01010" />
<rect x="737.9" y="340.2" width="3.0" height="2.6" fill="#d01010" />
<rect x="744.9" y="340.2" width="3.0" height="2.6" fill="#d01010" />
<text x="337.5" y="270.4" font-size="11" fill="#000" text-anchor="end" >5</text>
<text x="337.5" y="285.7" font-size="11" fill="#000" text-anchor="end" >4</text>
<text x="337.5" y="300.8" font-size="11" fill="#000" text-anchor="end" >3</text>
<text x="337.5" y="315.6" font-size="11" fill="#000" text-anchor="end" >2</text>
<text x="337.5" y="330.6" font-size="11" fill="#000" text-anchor="end" >1</text>
<text x="337.5" y="345.5" font-size="11" fill="#000" text-anchor="end" >0</text>
<text x="761.8" y="271.2" font-size="11" fill="#e8481c" >92</text>
<text x="761.8" y="286.1" font-size="11" fill="#e8481c" >80</text>
<text x="761.8" y="301.0" font-size="11" fill="#e8481c" >67</text>
<text x="761.8" y="316.0" font-size="11" fill="#e8481c" >55</text>
<text x="761.8" y="331.2" font-size="11" fill="#e8481c" >42</text>
<text x="761.8" y="346.1" font-size="11" fill="#e8481c" >30</text>
<text transform="translate(292.8,305.0) rotate(-90)" font-size="12.2" fill="#00009c" text-anchor="middle">opad</text>
<text transform="translate(306.0,305.0) rotate(-90)" font-size="12.2" fill="#00009c" text-anchor="middle" textLength="85.0" lengthAdjust="spacingAndGlyphs">(mm/h, kg/m²/h)</text>
<text transform="translate(803.5,305.5) rotate(-90)" font-size="12.2" fill="#00009c" text-anchor="middle">(%)</text>
<text transform="translate(816.3,305.0) rotate(-90)" font-size="12.2" fill="#00009c" text-anchor="middle" textLength="89.5" lengthAdjust="spacingAndGlyphs">wilgotność wzgl.</text>
<clipPath id="m3"><rect x="342.5" y="350.5" width="415.0" height="77.5"/></clipPath>
<rect x="342.5" y="350.5" width="415.0" height="77.5" fill="#fff" />
<rect x="418.3" y="350.5" width="66.5" height="77.5" fill="#e6e6e6" />
<rect x="587.2" y="350.5" width="66.4" height="77.5" fill="#e6e6e6" />
<g clip-path="url(#m3)">
<clipPath id="pb0"><rect x="342.5" y="350.5" width="7.3" height="77.5"/></clipPath>
<polygon points="342.9,358.3 356.3,360.2 366.6,362.7 377.6,365.1 384.9,368.8 398.3,371.7 406.8,374.1 412.9,374.9 420.2,377.3 426.3,377.3 434.9,376.1 442.2,377.8 450.7,379.8 461.7,382.0 470.2,385.1 483.4,387.1 496.8,385.9 509.0,382.7 524.9,379.5 535.9,379.5 548.0,381.0 559.0,381.5 572.4,379.8 584.6,378.5 596.8,376.1 602.9,376.6 610.2,378.3 631.0,380.2 651.0,382.8 672.9,380.6 694.9,379.5 714.6,380.6 727.8,381.0 738.8,382.4 749.8,383.9 757.4,386.1 757.5,428.0 342.5,428.0" fill="#ffa200" clip-path="url(#pb0)"/>
<clipPath id="pb1"><rect x="349.5" y="350.5" width="7.3" height="77.5"/></clipPath>
<polygon points="342.9,358.3 356.3,360.2 366.6,362.7 377.6,365.1 384.9,368.8 398.3,371.7 406.8,374.1 412.9,374.9 420.2,377.3 426.3,377.3 434.9,376.1 442.2,377.8 450.7,379.8 461.7,382.0 470.2,385.1 483.4,387.1 496.8,385.9 509.0,382.7 524.9,379.5 535.9,379.5 548.0,381.0 559.0,381.5 572.4,379.8 584.6,378.5 596.8,376.1 602.9,376.6 610.2,378.3 631.0,380.2 651.0,382.8 672.9,380.6 694.9,379.5 714.6,380.6 727.8,381.0 738.8,382.4 749.8,383.9 757.4,386.1 757.5,428.0 342.5,428.0" fill="#ffac00" clip-path="url(#pb1)"/>
<clipPath id="pb2"><rect x="356.5" y="350.5" width="7.3" height="77.5"/></clipPath>
<polygon points="342.9,358.3 356.3,360.2 366.6,362.7 377.6,365.1 384.9,368.8 398.3,371.7 406.8,374.1 412.9,374.9 420.2,377.3 426.3,377.3 434.9,376.1 442.2,377.8 450.7,379.8 461.7,382.0 470.2,385.1 483.4,387.1 496.8,385.9 509.0,382.7 524.9,379.5 535.9,379.5 548.0,381.0 559.0,381.5 572.4,379.8 584.6,378.5 596.8,376.1 602.9,376.6 610.2,378.3 631.0,380.2 651.0,382.8 672.9,380.6 694.9,379.5 714.6,380.6 727.8,381.0 738.8,382.4 749.8,383.9 757.4,386.1 757.5,428.0 342.5,428.0" fill="#ffcc00" clip-path="url(#pb2)"/>
<clipPath id="pb3"><rect x="363.5" y="350.5" width="7.3" height="77.5"/></clipPath>
<polygon points="342.9,358.3 356.3,360.2 366.6,362.7 377.6,365.1 384.9,368.8 398.3,371.7 406.8,374.1 412.9,374.9 420.2,377.3 426.3,377.3 434.9,376.1 442.2,377.8 450.7,379.8 461.7,382.0 470.2,385.1 483.4,387.1 496.8,385.9 509.0,382.7 524.9,379.5 535.9,379.5 548.0,381.0 559.0,381.5 572.4,379.8 584.6,378.5 596.8,376.1 602.9,376.6 610.2,378.3 631.0,380.2 651.0,382.8 672.9,380.6 694.9,379.5 714.6,380.6 727.8,381.0 738.8,382.4 749.8,383.9 757.4,386.1 757.5,428.0 342.5,428.0" fill="#ffd800" clip-path="url(#pb3)"/>
<clipPath id="pb4"><rect x="370.5" y="350.5" width="7.400000000000023" height="77.5"/></clipPath>
<polygon points="342.9,358.3 356.3,360.2 366.6,362.7 377.6,365.1 384.9,368.8 398.3,371.7 406.8,374.1 412.9,374.9 420.2,377.3 426.3,377.3 434.9,376.1 442.2,377.8 450.7,379.8 461.7,382.0 470.2,385.1 483.4,387.1 496.8,385.9 509.0,382.7 524.9,379.5 535.9,379.5 548.0,381.0 559.0,381.5 572.4,379.8 584.6,378.5 596.8,376.1 602.9,376.6 610.2,378.3 631.0,380.2 651.0,382.8 672.9,380.6 694.9,379.5 714.6,380.6 727.8,381.0 738.8,382.4 749.8,383.9 757.4,386.1 757.5,428.0 342.5,428.0" fill="#ffe600" clip-path="url(#pb4)"/>
<clipPath id="pb5"><rect x="377.6" y="350.5" width="35.59999999999995" height="77.5"/></clipPath>
<polygon points="342.9,358.3 356.3,360.2 366.6,362.7 377.6,365.1 384.9,368.8 398.3,371.7 406.8,374.1 412.9,374.9 420.2,377.3 426.3,377.3 434.9,376.1 442.2,377.8 450.7,379.8 461.7,382.0 470.2,385.1 483.4,387.1 496.8,385.9 509.0,382.7 524.9,379.5 535.9,379.5 548.0,381.0 559.0,381.5 572.4,379.8 584.6,378.5 596.8,376.1 602.9,376.6 610.2,378.3 631.0,380.2 651.0,382.8 672.9,380.6 694.9,379.5 714.6,380.6 727.8,381.0 738.8,382.4 749.8,383.9 757.4,386.1 757.5,428.0 342.5,428.0" fill="#ffff00" clip-path="url(#pb5)"/>
<clipPath id="pb6"><rect x="412.9" y="350.5" width="49.10000000000001" height="77.5"/></clipPath>
<polygon points="342.9,358.3 356.3,360.2 366.6,362.7 377.6,365.1 384.9,368.8 398.3,371.7 406.8,374.1 412.9,374.9 420.2,377.3 426.3,377.3 434.9,376.1 442.2,377.8 450.7,379.8 461.7,382.0 470.2,385.1 483.4,387.1 496.8,385.9 509.0,382.7 524.9,379.5 535.9,379.5 548.0,381.0 559.0,381.5 572.4,379.8 584.6,378.5 596.8,376.1 602.9,376.6 610.2,378.3 631.0,380.2 651.0,382.8 672.9,380.6 694.9,379.5 714.6,380.6 727.8,381.0 738.8,382.4 749.8,383.9 757.4,386.1 757.5,428.0 342.5,428.0" fill="#ccff00" clip-path="url(#pb6)"/>
<clipPath id="pb7"><rect x="461.7" y="350.5" width="35.10000000000001" height="77.5"/></clipPath>
<polygon points="342.9,358.3 356.3,360.2 366.6,362.7 377.6,365.1 384.9,368.8 398.3,371.7 406.8,374.1 412.9,374.9 420.2,377.3 426.3,377.3 434.9,376.1 442.2,377.8 450.7,379.8 461.7,382.0 470.2,385.1 483.4,387.1 496.8,385.9 509.0,382.7 524.9,379.5 535.9,379.5 548.0,381.0 559.0,381.5 572.4,379.8 584.6,378.5 596.8,376.1 602.9,376.6 610.2,378.3 631.0,380.2 651.0,382.8 672.9,380.6 694.9,379.5 714.6,380.6 727.8,381.0 738.8,382.4 749.8,383.9 757.4,386.1 757.5,428.0 342.5,428.0" fill="#99ff00" clip-path="url(#pb7)"/>
<clipPath id="pb8"><rect x="496.5" y="350.5" width="93.3" height="77.5"/></clipPath>
<polygon points="342.9,358.3 356.3,360.2 366.6,362.7 377.6,365.1 384.9,368.8 398.3,371.7 406.8,374.1 412.9,374.9 420.2,377.3 426.3,377.3 434.9,376.1 442.2,377.8 450.7,379.8 461.7,382.0 470.2,385.1 483.4,387.1 496.8,385.9 509.0,382.7 524.9,379.5 535.9,379.5 548.0,381.0 559.0,381.5 572.4,379.8 584.6,378.5 596.8,376.1 602.9,376.6 610.2,378.3 631.0,380.2 651.0,382.8 672.9,380.6 694.9,379.5 714.6,380.6 727.8,381.0 738.8,382.4 749.8,383.9 757.4,386.1 757.5,428.0 342.5,428.0" fill="#ccff00" clip-path="url(#pb8)"/>
<clipPath id="pb9"><rect x="589.5" y="350.5" width="5.900000000000023" height="77.5"/></clipPath>
<polygon points="342.9,358.3 356.3,360.2 366.6,362.7 377.6,365.1 384.9,368.8 398.3,371.7 406.8,374.1 412.9,374.9 420.2,377.3 426.3,377.3 434.9,376.1 442.2,377.8 450.7,379.8 461.7,382.0 470.2,385.1 483.4,387.1 496.8,385.9 509.0,382.7 524.9,379.5 535.9,379.5 548.0,381.0 559.0,381.5 572.4,379.8 584.6,378.5 596.8,376.1 602.9,376.6 610.2,378.3 631.0,380.2 651.0,382.8 672.9,380.6 694.9,379.5 714.6,380.6 727.8,381.0 738.8,382.4 749.8,383.9 757.4,386.1 757.5,428.0 342.5,428.0" fill="#ffff00" clip-path="url(#pb9)"/>
<clipPath id="pb10"><rect x="595.1" y="350.5" width="154.99999999999994" height="77.5"/></clipPath>
<polygon points="342.9,358.3 356.3,360.2 366.6,362.7 377.6,365.1 384.9,368.8 398.3,371.7 406.8,374.1 412.9,374.9 420.2,377.3 426.3,377.3 434.9,376.1 442.2,377.8 450.7,379.8 461.7,382.0 470.2,385.1 483.4,387.1 496.8,385.9 509.0,382.7 524.9,379.5 535.9,379.5 548.0,381.0 559.0,381.5 572.4,379.8 584.6,378.5 596.8,376.1 602.9,376.6 610.2,378.3 631.0,380.2 651.0,382.8 672.9,380.6 694.9,379.5 714.6,380.6 727.8,381.0 738.8,382.4 749.8,383.9 757.4,386.1 757.5,428.0 342.5,428.0" fill="#ccff00" clip-path="url(#pb10)"/>
<clipPath id="pb11"><rect x="749.8" y="350.5" width="8.000000000000046" height="77.5"/></clipPath>
<polygon points="342.9,358.3 356.3,360.2 366.6,362.7 377.6,365.1 384.9,368.8 398.3,371.7 406.8,374.1 412.9,374.9 420.2,377.3 426.3,377.3 434.9,376.1 442.2,377.8 450.7,379.8 461.7,382.0 470.2,385.1 483.4,387.1 496.8,385.9 509.0,382.7 524.9,379.5 535.9,379.5 548.0,381.0 559.0,381.5 572.4,379.8 584.6,378.5 596.8,376.1 602.9,376.6 610.2,378.3 631.0,380.2 651.0,382.8 672.9,380.6 694.9,379.5 714.6,380.6 727.8,381.0 738.8,382.4 749.8,383.9 757.4,386.1 757.5,428.0 342.5,428.0" fill="#99ff00" clip-path="url(#pb11)"/>
</g>
<line x1="356.6" y1="350.5" x2="356.6" y2="428.0" stroke="#000" stroke-width="1" stroke-dasharray="2,2" shape-rendering="crispEdges"/>
<line x1="377.7" y1="350.5" x2="377.7" y2="428.0" stroke="#000" stroke-width="1" stroke-dasharray="2,2" shape-rendering="crispEdges"/>
<line x1="398.8" y1="350.5" x2="398.8" y2="428.0" stroke="#000" stroke-width="1" stroke-dasharray="2,2" shape-rendering="crispEdges"/>
<line x1="419.9" y1="350.5" x2="419.9" y2="428.0" stroke="#000" stroke-width="1" stroke-dasharray="2,2" shape-rendering="crispEdges"/>
<line x1="441.0" y1="350.5" x2="441.0" y2="428.0" stroke="#000" stroke-width="1" stroke-dasharray="2,2" shape-rendering="crispEdges"/>
<line x1="462.1" y1="350.5" x2="462.1" y2="428.0" stroke="#000" stroke-width="1" stroke-dasharray="2,2" shape-rendering="crispEdges"/>
<line x1="483.2" y1="350.5" x2="483.2" y2="428.0" stroke="#000" stroke-width="1" stroke-dasharray="2,2" shape-rendering="crispEdges"/>
<line x1="504.3" y1="350.5" x2="504.3" y2="428.0" stroke="#000" stroke-width="1" stroke-dasharray="2,2" shape-rendering="crispEdges"/>
<line x1="525.4" y1="350.5" x2="525.4" y2="428.0" stroke="#000" stroke-width="1" stroke-dasharray="2,2" shape-rendering="crispEdges"/>
<line x1="546.5" y1="350.5" x2="546.5" y2="428.0" stroke="#000" stroke-width="1" stroke-dasharray="2,2" shape-rendering="crispEdges"/>
<line x1="567.6" y1="350.5" x2="567.6" y2="428.0" stroke="#000" stroke-width="1" stroke-dasharray="2,2" shape-rendering="crispEdges"/>
<line x1="588.7" y1="350.5" x2="588.7" y2="428.0" stroke="#000" stroke-width="1" stroke-dasharray="2,2" shape-rendering="crispEdges"/>
<line x1="609.8" y1="350.5" x2="609.8" y2="428.0" stroke="#000" stroke-width="1" stroke-dasharray="2,2" shape-rendering="crispEdges"/>
<line x1="630.9" y1="350.5" x2="630.9" y2="428.0" stroke="#000" stroke-width="1" stroke-dasharray="2,2" shape-rendering="crispEdges"/>
<line x1="652.0" y1="350.5" x2="652.0" y2="428.0" stroke="#000" stroke-width="1" stroke-dasharray="2,2" shape-rendering="crispEdges"/>
<line x1="673.1" y1="350.5" x2="673.1" y2="428.0" stroke="#000" stroke-width="1" stroke-dasharray="2,2" shape-rendering="crispEdges"/>
<line x1="694.2" y1="350.5" x2="694.2" y2="428.0" stroke="#000" stroke-width="1" stroke-dasharray="2,2" shape-rendering="crispEdges"/>
<line x1="715.3" y1="350.5" x2="715.3" y2="428.0" stroke="#000" stroke-width="1" stroke-dasharray="2,2" shape-rendering="crispEdges"/>
<line x1="736.4" y1="350.5" x2="736.4" y2="428.0" stroke="#000" stroke-width="1" stroke-dasharray="2,2" shape-rendering="crispEdges"/>
<line x1="342.5" y1="354.6" x2="757.5" y2="354.6" stroke="#000" stroke-width="1" stroke-dasharray="2,2" shape-rendering="crispEdges"/>
<line x1="342.5" y1="375.4" x2="757.5" y2="375.4" stroke="#000" stroke-width="1" stroke-dasharray="2,2" shape-rendering="crispEdges"/>
<line x1="342.5" y1="395.7" x2="757.5" y2="395.7" stroke="#000" stroke-width="1" stroke-dasharray="2,2" shape-rendering="crispEdges"/>
<line x1="342.5" y1="416.3" x2="757.5" y2="416.3" stroke="#000" stroke-width="1" stroke-dasharray="2,2" shape-rendering="crispEdges"/>
<g clip-path="url(#m3)">
<polyline points="342.9,358.3 356.3,360.2 366.6,362.7 377.6,365.1 384.9,368.8 398.3,371.7 406.8,374.1 412.9,374.9 420.2,377.3 426.3,377.3 434.9,376.1 442.2,377.8 450.7,379.8 461.7,382.0 470.2,385.1 483.4,387.1 496.8,385.9 509.0,382.7 524.9,379.5 535.9,379.5 548.0,381.0 559.0,381.5 572.4,379.8 584.6,378.5 596.8,376.1 602.9,376.6 610.2,378.3 631.0,380.2 651.0,382.8 672.9,380.6 694.9,379.5 714.6,380.6 727.8,381.0 738.8,382.4 749.8,383.9 757.4,386.1" fill="none" stroke="#000" stroke-width="2.2" stroke-linejoin="round" stroke-linecap="round" />
</g>
<rect x="342.5" y="350.5" width="415.0" height="77.5" fill="none" stroke="#1a1a1a" stroke-width="1.3"/>
<line x1="342.0" y1="349.6" x2="758.0" y2="349.6" stroke="#8c8c8c" stroke-width="0.9" />
<text x="337.8" y="359.0" font-size="11" fill="#000" text-anchor="end" >1020</text>
<text x="337.8" y="379.2" font-size="11" fill="#000" text-anchor="end" >1015</text>
<text x="337.8" y="399.8" font-size="11" fill="#000" text-anchor="end" >1010</text>
<text x="337.8" y="420.2" font-size="11" fill="#000" text-anchor="end" >1005</text>
<text x="761.8" y="358.9" font-size="11" fill="#000" >765</text>
<text x="761.8" y="379.5" font-size="11" fill="#000" >761</text>
<text x="761.8" y="399.9" font-size="11" fill="#000" >758</text>
<text x="761.8" y="419.8" font-size="11" fill="#000" >754</text>
<text transform="translate(292.7,392.5) rotate(-90)" font-size="12.2" fill="#00009c" text-anchor="middle" textLength="48.8" lengthAdjust="spacingAndGlyphs">ciśnienie</text>
<text transform="translate(306.0,393.0) rotate(-90)" font-size="12.2" fill="#00009c" text-anchor="middle">(hPa)</text>
<text transform="translate(816.5,393.0) rotate(-90)" font-size="12.2" fill="#00009c" text-anchor="middle" textLength="48.8" lengthAdjust="spacingAndGlyphs">ciśnienie</text>
<text transform="translate(803.3,393.0) rotate(-90)" font-size="12.2" fill="#00009c" text-anchor="middle" textLength="47.2" lengthAdjust="spacingAndGlyphs">(mm Hg)</text>
<clipPath id="m4"><rect x="342.5" y="437.5" width="415.0" height="77.5"/></clipPath>
<rect x="342.5" y="437.5" width="415.0" height="77.5" fill="#fff" />
<rect x="418.3" y="437.5" width="66.5" height="77.5" fill="#e6e6e6" />
<rect x="587.2" y="437.5" width="66.4" height="77.5" fill="#e6e6e6" />
<g clip-path="url(#m4)">
<clipPath id="wb0"><rect x="342.5" y="437.5" width="7.3" height="77.5"/></clipPath>
<polygon points="342.9,502.6 349.5,498.2 356.3,497.0 370.2,496.5 377.6,494.5 384.9,493.8 392.2,494.0 398.8,492.6 405.6,495.2 412.9,497.0 419.0,497.4 426.3,495.0 433.7,494.0 441.0,495.7 448.3,496.5 455.6,495.5 461.7,497.2 469.0,495.7 477.3,495.0 483.4,496.5 490.7,495.7 497.3,492.1 504.1,488.9 511.0,490.9 518.8,488.4 525.6,487.7 532.2,488.9 539.5,488.4 546.8,487.9 554.1,487.7 560.2,486.0 567.6,484.8 574.9,484.3 582.2,486.0 588.8,487.2 595.6,490.9 602.9,495.0 610.2,496.5 617.6,496.2 623.7,495.2 631.0,497.4 638.3,496.5 645.1,494.0 651.7,496.5 658.7,495.2 665.9,494.8 672.9,496.3 687.2,496.3 693.8,494.6 701.0,496.8 708.0,492.6 714.6,495.2 722.3,495.7 728.9,497.4 735.5,495.7 742.1,498.1 749.8,504.0 757.4,501.8 757.5,515.0 342.5,515.0" fill="#0088ff" clip-path="url(#wb0)"/>
<clipPath id="wb1"><rect x="349.5" y="437.5" width="20.99999999999999" height="77.5"/></clipPath>
<polygon points="342.9,502.6 349.5,498.2 356.3,497.0 370.2,496.5 377.6,494.5 384.9,493.8 392.2,494.0 398.8,492.6 405.6,495.2 412.9,497.0 419.0,497.4 426.3,495.0 433.7,494.0 441.0,495.7 448.3,496.5 455.6,495.5 461.7,497.2 469.0,495.7 477.3,495.0 483.4,496.5 490.7,495.7 497.3,492.1 504.1,488.9 511.0,490.9 518.8,488.4 525.6,487.7 532.2,488.9 539.5,488.4 546.8,487.9 554.1,487.7 560.2,486.0 567.6,484.8 574.9,484.3 582.2,486.0 588.8,487.2 595.6,490.9 602.9,495.0 610.2,496.5 617.6,496.2 623.7,495.2 631.0,497.4 638.3,496.5 645.1,494.0 651.7,496.5 658.7,495.2 665.9,494.8 672.9,496.3 687.2,496.3 693.8,494.6 701.0,496.8 708.0,492.6 714.6,495.2 722.3,495.7 728.9,497.4 735.5,495.7 742.1,498.1 749.8,504.0 757.4,501.8 757.5,515.0 342.5,515.0" fill="#004488" clip-path="url(#wb1)"/>
<clipPath id="wb2"><rect x="370.2" y="437.5" width="35.70000000000003" height="77.5"/></clipPath>
<polygon points="342.9,502.6 349.5,498.2 356.3,497.0 370.2,496.5 377.6,494.5 384.9,493.8 392.2,494.0 398.8,492.6 405.6,495.2 412.9,497.0 419.0,497.4 426.3,495.0 433.7,494.0 441.0,495.7 448.3,496.5 455.6,495.5 461.7,497.2 469.0,495.7 477.3,495.0 483.4,496.5 490.7,495.7 497.3,492.1 504.1,488.9 511.0,490.9 518.8,488.4 525.6,487.7 532.2,488.9 539.5,488.4 546.8,487.9 554.1,487.7 560.2,486.0 567.6,484.8 574.9,484.3 582.2,486.0 588.8,487.2 595.6,490.9 602.9,495.0 610.2,496.5 617.6,496.2 623.7,495.2 631.0,497.4 638.3,496.5 645.1,494.0 651.7,496.5 658.7,495.2 665.9,494.8 672.9,496.3 687.2,496.3 693.8,494.6 701.0,496.8 708.0,492.6 714.6,495.2 722.3,495.7 728.9,497.4 735.5,495.7 742.1,498.1 749.8,504.0 757.4,501.8 757.5,515.0 342.5,515.0" fill="#007800" clip-path="url(#wb2)"/>
<clipPath id="wb3"><rect x="405.6" y="437.5" width="20.99999999999999" height="77.5"/></clipPath>
<polygon points="342.9,502.6 349.5,498.2 356.3,497.0 370.2,496.5 377.6,494.5 384.9,493.8 392.2,494.0 398.8,492.6 405.6,495.2 412.9,497.0 419.0,497.4 426.3,495.0 433.7,494.0 441.0,495.7 448.3,496.5 455.6,495.5 461.7,497.2 469.0,495.7 477.3,495.0 483.4,496.5 490.7,495.7 497.3,492.1 504.1,488.9 511.0,490.9 518.8,488.4 525.6,487.7 532.2,488.9 539.5,488.4 546.8,487.9 554.1,487.7 560.2,486.0 567.6,484.8 574.9,484.3 582.2,486.0 588.8,487.2 595.6,490.9 602.9,495.0 610.2,496.5 617.6,496.2 623.7,495.2 631.0,497.4 638.3,496.5 645.1,494.0 651.7,496.5 658.7,495.2 665.9,494.8 672.9,496.3 687.2,496.3 693.8,494.6 701.0,496.8 708.0,492.6 714.6,495.2 722.3,495.7 728.9,497.4 735.5,495.7 742.1,498.1 749.8,504.0 757.4,501.8 757.5,515.0 342.5,515.0" fill="#004488" clip-path="url(#wb3)"/>
<clipPath id="wb4"><rect x="426.3" y="437.5" width="14.99999999999999" height="77.5"/></clipPath>
<polygon points="342.9,502.6 349.5,498.2 356.3,497.0 370.2,496.5 377.6,494.5 384.9,493.8 392.2,494.0 398.8,492.6 405.6,495.2 412.9,497.0 419.0,497.4 426.3,495.0 433.7,494.0 441.0,495.7 448.3,496.5 455.6,495.5 461.7,497.2 469.0,495.7 477.3,495.0 483.4,496.5 490.7,495.7 497.3,492.1 504.1,488.9 511.0,490.9 518.8,488.4 525.6,487.7 532.2,488.9 539.5,488.4 546.8,487.9 554.1,487.7 560.2,486.0 567.6,484.8 574.9,484.3 582.2,486.0 588.8,487.2 595.6,490.9 602.9,495.0 610.2,496.5 617.6,496.2 623.7,495.2 631.0,497.4 638.3,496.5 645.1,494.0 651.7,496.5 658.7,495.2 665.9,494.8 672.9,496.3 687.2,496.3 693.8,494.6 701.0,496.8 708.0,492.6 714.6,495.2 722.3,495.7 728.9,497.4 735.5,495.7 742.1,498.1 749.8,504.0 757.4,501.8 757.5,515.0 342.5,515.0" fill="#007800" clip-path="url(#wb4)"/>
<clipPath id="wb5"><rect x="441" y="437.5" width="28.3" height="77.5"/></clipPath>
<polygon points="342.9,502.6 349.5,498.2 356.3,497.0 370.2,496.5 377.6,494.5 384.9,493.8 392.2,494.0 398.8,492.6 405.6,495.2 412.9,497.0 419.0,497.4 426.3,495.0 433.7,494.0 441.0,495.7 448.3,496.5 455.6,495.5 461.7,497.2 469.0,495.7 477.3,495.0 483.4,496.5 490.7,495.7 497.3,492.1 504.1,488.9 511.0,490.9 518.8,488.4 525.6,487.7 532.2,488.9 539.5,488.4 546.8,487.9 554.1,487.7 560.2,486.0 567.6,484.8 574.9,484.3 582.2,486.0 588.8,487.2 595.6,490.9 602.9,495.0 610.2,496.5 617.6,496.2 623.7,495.2 631.0,497.4 638.3,496.5 645.1,494.0 651.7,496.5 658.7,495.2 665.9,494.8 672.9,496.3 687.2,496.3 693.8,494.6 701.0,496.8 708.0,492.6 714.6,495.2 722.3,495.7 728.9,497.4 735.5,495.7 742.1,498.1 749.8,504.0 757.4,501.8 757.5,515.0 342.5,515.0" fill="#004488" clip-path="url(#wb5)"/>
<clipPath id="wb6"><rect x="469" y="437.5" width="27.600000000000012" height="77.5"/></clipPath>
<polygon points="342.9,502.6 349.5,498.2 356.3,497.0 370.2,496.5 377.6,494.5 384.9,493.8 392.2,494.0 398.8,492.6 405.6,495.2 412.9,497.0 419.0,497.4 426.3,495.0 433.7,494.0 441.0,495.7 448.3,496.5 455.6,495.5 461.7,497.2 469.0,495.7 477.3,495.0 483.4,496.5 490.7,495.7 497.3,492.1 504.1,488.9 511.0,490.9 518.8,488.4 525.6,487.7 532.2,488.9 539.5,488.4 546.8,487.9 554.1,487.7 560.2,486.0 567.6,484.8 574.9,484.3 582.2,486.0 588.8,487.2 595.6,490.9 602.9,495.0 610.2,496.5 617.6,496.2 623.7,495.2 631.0,497.4 638.3,496.5 645.1,494.0 651.7,496.5 658.7,495.2 665.9,494.8 672.9,496.3 687.2,496.3 693.8,494.6 701.0,496.8 708.0,492.6 714.6,495.2 722.3,495.7 728.9,497.4 735.5,495.7 742.1,498.1 749.8,504.0 757.4,501.8 757.5,515.0 342.5,515.0" fill="#007800" clip-path="url(#wb6)"/>
<clipPath id="wb7"><rect x="496.3" y="437.5" width="21.99999999999999" height="77.5"/></clipPath>
<polygon points="342.9,502.6 349.5,498.2 356.3,497.0 370.2,496.5 377.6,494.5 384.9,493.8 392.2,494.0 398.8,492.6 405.6,495.2 412.9,497.0 419.0,497.4 426.3,495.0 433.7,494.0 441.0,495.7 448.3,496.5 455.6,495.5 461.7,497.2 469.0,495.7 477.3,495.0 483.4,496.5 490.7,495.7 497.3,492.1 504.1,488.9 511.0,490.9 518.8,488.4 525.6,487.7 532.2,488.9 539.5,488.4 546.8,487.9 554.1,487.7 560.2,486.0 567.6,484.8 574.9,484.3 582.2,486.0 588.8,487.2 595.6,490.9 602.9,495.0 610.2,496.5 617.6,496.2 623.7,495.2 631.0,497.4 638.3,496.5 645.1,494.0 651.7,496.5 658.7,495.2 665.9,494.8 672.9,496.3 687.2,496.3 693.8,494.6 701.0,496.8 708.0,492.6 714.6,495.2 722.3,495.7 728.9,497.4 735.5,495.7 742.1,498.1 749.8,504.0 757.4,501.8 757.5,515.0 342.5,515.0" fill="#14c814" clip-path="url(#wb7)"/>
<clipPath id="wb8"><rect x="518" y="437.5" width="14.500000000000046" height="77.5"/></clipPath>
<polygon points="342.9,502.6 349.5,498.2 356.3,497.0 370.2,496.5 377.6,494.5 384.9,493.8 392.2,494.0 398.8,492.6 405.6,495.2 412.9,497.0 419.0,497.4 426.3,495.0 433.7,494.0 441.0,495.7 448.3,496.5 455.6,495.5 461.7,497.2 469.0,495.7 477.3,495.0 483.4,496.5 490.7,495.7 497.3,492.1 504.1,488.9 511.0,490.9 518.8,488.4 525.6,487.7 532.2,488.9 539.5,488.4 546.8,487.9 554.1,487.7 560.2,486.0 567.6,484.8 574.9,484.3 582.2,486.0 588.8,487.2 595.6,490.9 602.9,495.0 610.2,496.5 617.6,496.2 623.7,495.2 631.0,497.4 638.3,496.5 645.1,494.0 651.7,496.5 658.7,495.2 665.9,494.8 672.9,496.3 687.2,496.3 693.8,494.6 701.0,496.8 708.0,492.6 714.6,495.2 722.3,495.7 728.9,497.4 735.5,495.7 742.1,498.1 749.8,504.0 757.4,501.8 757.5,515.0 342.5,515.0" fill="#44ff11" clip-path="url(#wb8)"/>
<clipPath id="wb9"><rect x="532.2" y="437.5" width="7.099999999999954" height="77.5"/></clipPath>
<polygon points="342.9,502.6 349.5,498.2 356.3,497.0 370.2,496.5 377.6,494.5 384.9,493.8 392.2,494.0 398.8,492.6 405.6,495.2 412.9,497.0 419.0,497.4 426.3,495.0 433.7,494.0 441.0,495.7 448.3,496.5 455.6,495.5 461.7,497.2 469.0,495.7 477.3,495.0 483.4,496.5 490.7,495.7 497.3,492.1 504.1,488.9 511.0,490.9 518.8,488.4 525.6,487.7 532.2,488.9 539.5,488.4 546.8,487.9 554.1,487.7 560.2,486.0 567.6,484.8 574.9,484.3 582.2,486.0 588.8,487.2 595.6,490.9 602.9,495.0 610.2,496.5 617.6,496.2 623.7,495.2 631.0,497.4 638.3,496.5 645.1,494.0 651.7,496.5 658.7,495.2 665.9,494.8 672.9,496.3 687.2,496.3 693.8,494.6 701.0,496.8 708.0,492.6 714.6,495.2 722.3,495.7 728.9,497.4 735.5,495.7 742.1,498.1 749.8,504.0 757.4,501.8 757.5,515.0 342.5,515.0" fill="#14c814" clip-path="url(#wb9)"/>
<clipPath id="wb10"><rect x="539" y="437.5" width="50.09999999999995" height="77.5"/></clipPath>
<polygon points="342.9,502.6 349.5,498.2 356.3,497.0 370.2,496.5 377.6,494.5 384.9,493.8 392.2,494.0 398.8,492.6 405.6,495.2 412.9,497.0 419.0,497.4 426.3,495.0 433.7,494.0 441.0,495.7 448.3,496.5 455.6,495.5 461.7,497.2 469.0,495.7 477.3,495.0 483.4,496.5 490.7,495.7 497.3,492.1 504.1,488.9 511.0,490.9 518.8,488.4 525.6,487.7 532.2,488.9 539.5,488.4 546.8,487.9 554.1,487.7 560.2,486.0 567.6,484.8 574.9,484.3 582.2,486.0 588.8,487.2 595.6,490.9 602.9,495.0 610.2,496.5 617.6,496.2 623.7,495.2 631.0,497.4 638.3,496.5 645.1,494.0 651.7,496.5 658.7,495.2 665.9,494.8 672.9,496.3 687.2,496.3 693.8,494.6 701.0,496.8 708.0,492.6 714.6,495.2 722.3,495.7 728.9,497.4 735.5,495.7 742.1,498.1 749.8,504.0 757.4,501.8 757.5,515.0 342.5,515.0" fill="#44ff11" clip-path="url(#wb10)"/>
<clipPath id="wb11"><rect x="588.8" y="437.5" width="6.600000000000068" height="77.5"/></clipPath>
<polygon points="342.9,502.6 349.5,498.2 356.3,497.0 370.2,496.5 377.6,494.5 384.9,493.8 392.2,494.0 398.8,492.6 405.6,495.2 412.9,497.0 419.0,497.4 426.3,495.0 433.7,494.0 441.0,495.7 448.3,496.5 455.6,495.5 461.7,497.2 469.0,495.7 477.3,495.0 483.4,496.5 490.7,495.7 497.3,492.1 504.1,488.9 511.0,490.9 518.8,488.4 525.6,487.7 532.2,488.9 539.5,488.4 546.8,487.9 554.1,487.7 560.2,486.0 567.6,484.8 574.9,484.3 582.2,486.0 588.8,487.2 595.6,490.9 602.9,495.0 610.2,496.5 617.6,496.2 623.7,495.2 631.0,497.4 638.3,496.5 645.1,494.0 651.7,496.5 658.7,495.2 665.9,494.8 672.9,496.3 687.2,496.3 693.8,494.6 701.0,496.8 708.0,492.6 714.6,495.2 722.3,495.7 728.9,497.4 735.5,495.7 742.1,498.1 749.8,504.0 757.4,501.8 757.5,515.0 342.5,515.0" fill="#14c814" clip-path="url(#wb11)"/>
<clipPath id="wb12"><rect x="595.1" y="437.5" width="14.699999999999978" height="77.5"/></clipPath>
<polygon points="342.9,502.6 349.5,498.2 356.3,497.0 370.2,496.5 377.6,494.5 384.9,493.8 392.2,494.0 398.8,492.6 405.6,495.2 412.9,497.0 419.0,497.4 426.3,495.0 433.7,494.0 441.0,495.7 448.3,496.5 455.6,495.5 461.7,497.2 469.0,495.7 477.3,495.0 483.4,496.5 490.7,495.7 497.3,492.1 504.1,488.9 511.0,490.9 518.8,488.4 525.6,487.7 532.2,488.9 539.5,488.4 546.8,487.9 554.1,487.7 560.2,486.0 567.6,484.8 574.9,484.3 582.2,486.0 588.8,487.2 595.6,490.9 602.9,495.0 610.2,496.5 617.6,496.2 623.7,495.2 631.0,497.4 638.3,496.5 645.1,494.0 651.7,496.5 658.7,495.2 665.9,494.8 672.9,496.3 687.2,496.3 693.8,494.6 701.0,496.8 708.0,492.6 714.6,495.2 722.3,495.7 728.9,497.4 735.5,495.7 742.1,498.1 749.8,504.0 757.4,501.8 757.5,515.0 342.5,515.0" fill="#007800" clip-path="url(#wb12)"/>
<clipPath id="wb13"><rect x="609.5" y="437.5" width="6.699999999999977" height="77.5"/></clipPath>
<polygon points="342.9,502.6 349.5,498.2 356.3,497.0 370.2,496.5 377.6,494.5 384.9,493.8 392.2,494.0 398.8,492.6 405.6,495.2 412.9,497.0 419.0,497.4 426.3,495.0 433.7,494.0 441.0,495.7 448.3,496.5 455.6,495.5 461.7,497.2 469.0,495.7 477.3,495.0 483.4,496.5 490.7,495.7 497.3,492.1 504.1,488.9 511.0,490.9 518.8,488.4 525.6,487.7 532.2,488.9 539.5,488.4 546.8,487.9 554.1,487.7 560.2,486.0 567.6,484.8 574.9,484.3 582.2,486.0 588.8,487.2 595.6,490.9 602.9,495.0 610.2,496.5 617.6,496.2 623.7,495.2 631.0,497.4 638.3,496.5 645.1,494.0 651.7,496.5 658.7,495.2 665.9,494.8 672.9,496.3 687.2,496.3 693.8,494.6 701.0,496.8 708.0,492.6 714.6,495.2 722.3,495.7 728.9,497.4 735.5,495.7 742.1,498.1 749.8,504.0 757.4,501.8 757.5,515.0 342.5,515.0" fill="#004488" clip-path="url(#wb13)"/>
<clipPath id="wb14"><rect x="615.9" y="437.5" width="7.600000000000068" height="77.5"/></clipPath>
<polygon points="342.9,502.6 349.5,498.2 356.3,497.0 370.2,496.5 377.6,494.5 384.9,493.8 392.2,494.0 398.8,492.6 405.6,495.2 412.9,497.0 419.0,497.4 426.3,495.0 433.7,494.0 441.0,495.7 448.3,496.5 455.6,495.5 461.7,497.2 469.0,495.7 477.3,495.0 483.4,496.5 490.7,495.7 497.3,492.1 504.1,488.9 511.0,490.9 518.8,488.4 525.6,487.7 532.2,488.9 539.5,488.4 546.8,487.9 554.1,487.7 560.2,486.0 567.6,484.8 574.9,484.3 582.2,486.0 588.8,487.2 595.6,490.9 602.9,495.0 610.2,496.5 617.6,496.2 623.7,495.2 631.0,497.4 638.3,496.5 645.1,494.0 651.7,496.5 658.7,495.2 665.9,494.8 672.9,496.3 687.2,496.3 693.8,494.6 701.0,496.8 708.0,492.6 714.6,495.2 722.3,495.7 728.9,497.4 735.5,495.7 742.1,498.1 749.8,504.0 757.4,501.8 757.5,515.0 342.5,515.0" fill="#007800" clip-path="url(#wb14)"/>
<clipPath id="wb15"><rect x="623.2" y="437.5" width="14.199999999999978" height="77.5"/></clipPath>
<polygon points="342.9,502.6 349.5,498.2 356.3,497.0 370.2,496.5 377.6,494.5 384.9,493.8 392.2,494.0 398.8,492.6 405.6,495.2 412.9,497.0 419.0,497.4 426.3,495.0 433.7,494.0 441.0,495.7 448.3,496.5 455.6,495.5 461.7,497.2 469.0,495.7 477.3,495.0 483.4,496.5 490.7,495.7 497.3,492.1 504.1,488.9 511.0,490.9 518.8,488.4 525.6,487.7 532.2,488.9 539.5,488.4 546.8,487.9 554.1,487.7 560.2,486.0 567.6,484.8 574.9,484.3 582.2,486.0 588.8,487.2 595.6,490.9 602.9,495.0 610.2,496.5 617.6,496.2 623.7,495.2 631.0,497.4 638.3,496.5 645.1,494.0 651.7,496.5 658.7,495.2 665.9,494.8 672.9,496.3 687.2,496.3 693.8,494.6 701.0,496.8 708.0,492.6 714.6,495.2 722.3,495.7 728.9,497.4 735.5,495.7 742.1,498.1 749.8,504.0 757.4,501.8 757.5,515.0 342.5,515.0" fill="#004488" clip-path="url(#wb15)"/>
<clipPath id="wb16"><rect x="637.1" y="437.5" width="36.09999999999995" height="77.5"/></clipPath>
<polygon points="342.9,502.6 349.5,498.2 356.3,497.0 370.2,496.5 377.6,494.5 384.9,493.8 392.2,494.0 398.8,492.6 405.6,495.2 412.9,497.0 419.0,497.4 426.3,495.0 433.7,494.0 441.0,495.7 448.3,496.5 455.6,495.5 461.7,497.2 469.0,495.7 477.3,495.0 483.4,496.5 490.7,495.7 497.3,492.1 504.1,488.9 511.0,490.9 518.8,488.4 525.6,487.7 532.2,488.9 539.5,488.4 546.8,487.9 554.1,487.7 560.2,486.0 567.6,484.8 574.9,484.3 582.2,486.0 588.8,487.2 595.6,490.9 602.9,495.0 610.2,496.5 617.6,496.2 623.7,495.2 631.0,497.4 638.3,496.5 645.1,494.0 651.7,496.5 658.7,495.2 665.9,494.8 672.9,496.3 687.2,496.3 693.8,494.6 701.0,496.8 708.0,492.6 714.6,495.2 722.3,495.7 728.9,497.4 735.5,495.7 742.1,498.1 749.8,504.0 757.4,501.8 757.5,515.0 342.5,515.0" fill="#007800" clip-path="url(#wb16)"/>
<clipPath id="wb17"><rect x="672.9" y="437.5" width="14.199999999999978" height="77.5"/></clipPath>
<polygon points="342.9,502.6 349.5,498.2 356.3,497.0 370.2,496.5 377.6,494.5 384.9,493.8 392.2,494.0 398.8,492.6 405.6,495.2 412.9,497.0 419.0,497.4 426.3,495.0 433.7,494.0 441.0,495.7 448.3,496.5 455.6,495.5 461.7,497.2 469.0,495.7 477.3,495.0 483.4,496.5 490.7,495.7 497.3,492.1 504.1,488.9 511.0,490.9 518.8,488.4 525.6,487.7 532.2,488.9 539.5,488.4 546.8,487.9 554.1,487.7 560.2,486.0 567.6,484.8 574.9,484.3 582.2,486.0 588.8,487.2 595.6,490.9 602.9,495.0 610.2,496.5 617.6,496.2 623.7,495.2 631.0,497.4 638.3,496.5 645.1,494.0 651.7,496.5 658.7,495.2 665.9,494.8 672.9,496.3 687.2,496.3 693.8,494.6 701.0,496.8 708.0,492.6 714.6,495.2 722.3,495.7 728.9,497.4 735.5,495.7 742.1,498.1 749.8,504.0 757.4,501.8 757.5,515.0 342.5,515.0" fill="#004488" clip-path="url(#wb17)"/>
<clipPath id="wb18"><rect x="686.8" y="437.5" width="35.8" height="77.5"/></clipPath>
<polygon points="342.9,502.6 349.5,498.2 356.3,497.0 370.2,496.5 377.6,494.5 384.9,493.8 392.2,494.0 398.8,492.6 405.6,495.2 412.9,497.0 419.0,497.4 426.3,495.0 433.7,494.0 441.0,495.7 448.3,496.5 455.6,495.5 461.7,497.2 469.0,495.7 477.3,495.0 483.4,496.5 490.7,495.7 497.3,492.1 504.1,488.9 511.0,490.9 518.8,488.4 525.6,487.7 532.2,488.9 539.5,488.4 546.8,487.9 554.1,487.7 560.2,486.0 567.6,484.8 574.9,484.3 582.2,486.0 588.8,487.2 595.6,490.9 602.9,495.0 610.2,496.5 617.6,496.2 623.7,495.2 631.0,497.4 638.3,496.5 645.1,494.0 651.7,496.5 658.7,495.2 665.9,494.8 672.9,496.3 687.2,496.3 693.8,494.6 701.0,496.8 708.0,492.6 714.6,495.2 722.3,495.7 728.9,497.4 735.5,495.7 742.1,498.1 749.8,504.0 757.4,501.8 757.5,515.0 342.5,515.0" fill="#007800" clip-path="url(#wb18)"/>
<clipPath id="wb19"><rect x="722.3" y="437.5" width="20.70000000000009" height="77.5"/></clipPath>
<polygon points="342.9,502.6 349.5,498.2 356.3,497.0 370.2,496.5 377.6,494.5 384.9,493.8 392.2,494.0 398.8,492.6 405.6,495.2 412.9,497.0 419.0,497.4 426.3,495.0 433.7,494.0 441.0,495.7 448.3,496.5 455.6,495.5 461.7,497.2 469.0,495.7 477.3,495.0 483.4,496.5 490.7,495.7 497.3,492.1 504.1,488.9 511.0,490.9 518.8,488.4 525.6,487.7 532.2,488.9 539.5,488.4 546.8,487.9 554.1,487.7 560.2,486.0 567.6,484.8 574.9,484.3 582.2,486.0 588.8,487.2 595.6,490.9 602.9,495.0 610.2,496.5 617.6,496.2 623.7,495.2 631.0,497.4 638.3,496.5 645.1,494.0 651.7,496.5 658.7,495.2 665.9,494.8 672.9,496.3 687.2,496.3 693.8,494.6 701.0,496.8 708.0,492.6 714.6,495.2 722.3,495.7 728.9,497.4 735.5,495.7 742.1,498.1 749.8,504.0 757.4,501.8 757.5,515.0 342.5,515.0" fill="#004488" clip-path="url(#wb19)"/>
<clipPath id="wb20"><rect x="742.7" y="437.5" width="15.099999999999955" height="77.5"/></clipPath>
<polygon points="342.9,502.6 349.5,498.2 356.3,497.0 370.2,496.5 377.6,494.5 384.9,493.8 392.2,494.0 398.8,492.6 405.6,495.2 412.9,497.0 419.0,497.4 426.3,495.0 433.7,494.0 441.0,495.7 448.3,496.5 455.6,495.5 461.7,497.2 469.0,495.7 477.3,495.0 483.4,496.5 490.7,495.7 497.3,492.1 504.1,488.9 511.0,490.9 518.8,488.4 525.6,487.7 532.2,488.9 539.5,488.4 546.8,487.9 554.1,487.7 560.2,486.0 567.6,484.8 574.9,484.3 582.2,486.0 588.8,487.2 595.6,490.9 602.9,495.0 610.2,496.5 617.6,496.2 623.7,495.2 631.0,497.4 638.3,496.5 645.1,494.0 651.7,496.5 658.7,495.2 665.9,494.8 672.9,496.3 687.2,496.3 693.8,494.6 701.0,496.8 708.0,492.6 714.6,495.2 722.3,495.7 728.9,497.4 735.5,495.7 742.1,498.1 749.8,504.0 757.4,501.8 757.5,515.0 342.5,515.0" fill="#0088ff" clip-path="url(#wb20)"/>
</g>
<line x1="356.6" y1="437.5" x2="356.6" y2="515.0" stroke="#000" stroke-width="1" stroke-dasharray="2,2" shape-rendering="crispEdges"/>
<line x1="377.7" y1="437.5" x2="377.7" y2="515.0" stroke="#000" stroke-width="1" stroke-dasharray="2,2" shape-rendering="crispEdges"/>
<line x1="398.8" y1="437.5" x2="398.8" y2="515.0" stroke="#000" stroke-width="1" stroke-dasharray="2,2" shape-rendering="crispEdges"/>
<line x1="419.9" y1="437.5" x2="419.9" y2="515.0" stroke="#000" stroke-width="1" stroke-dasharray="2,2" shape-rendering="crispEdges"/>
<line x1="441.0" y1="437.5" x2="441.0" y2="515.0" stroke="#000" stroke-width="1" stroke-dasharray="2,2" shape-rendering="crispEdges"/>
<line x1="462.1" y1="437.5" x2="462.1" y2="515.0" stroke="#000" stroke-width="1" stroke-dasharray="2,2" shape-rendering="crispEdges"/>
<line x1="483.2" y1="437.5" x2="483.2" y2="515.0" stroke="#000" stroke-width="1" stroke-dasharray="2,2" shape-rendering="crispEdges"/>
<line x1="504.3" y1="437.5" x2="504.3" y2="515.0" stroke="#000" stroke-width="1" stroke-dasharray="2,2" shape-rendering="crispEdges"/>
<line x1="525.4" y1="437.5" x2="525.4" y2="515.0" stroke="#000" stroke-width="1" stroke-dasharray="2,2" shape-rendering="crispEdges"/>
<line x1="546.5" y1="437.5" x2="546.5" y2="515.0" stroke="#000" stroke-width="1" stroke-dasharray="2,2" shape-rendering="crispEdges"/>
<line x1="567.6" y1="437.5" x2="567.6" y2="515.0" stroke="#000" stroke-width="1" stroke-dasharray="2,2" shape-rendering="crispEdges"/>
<line x1="588.7" y1="437.5" x2="588.7" y2="515.0" stroke="#000" stroke-width="1" stroke-dasharray="2,2" shape-rendering="crispEdges"/>
<line x1="609.8" y1="437.5" x2="609.8" y2="515.0" stroke="#000" stroke-width="1" stroke-dasharray="2,2" shape-rendering="crispEdges"/>
<line x1="630.9" y1="437.5" x2="630.9" y2="515.0" stroke="#000" stroke-width="1" stroke-dasharray="2,2" shape-rendering="crispEdges"/>
<line x1="652.0" y1="437.5" x2="652.0" y2="515.0" stroke="#000" stroke-width="1" stroke-dasharray="2,2" shape-rendering="crispEdges"/>
<line x1="673.1" y1="437.5" x2="673.1" y2="515.0" stroke="#000" stroke-width="1" stroke-dasharray="2,2" shape-rendering="crispEdges"/>
<line x1="694.2" y1="437.5" x2="694.2" y2="515.0" stroke="#000" stroke-width="1" stroke-dasharray="2,2" shape-rendering="crispEdges"/>
<line x1="715.3" y1="437.5" x2="715.3" y2="515.0" stroke="#000" stroke-width="1" stroke-dasharray="2,2" shape-rendering="crispEdges"/>
<line x1="736.4" y1="437.5" x2="736.4" y2="515.0" stroke="#000" stroke-width="1" stroke-dasharray="2,2" shape-rendering="crispEdges"/>
<line x1="342.5" y1="438.5" x2="757.5" y2="438.5" stroke="#000" stroke-width="1" stroke-dasharray="2,2" shape-rendering="crispEdges"/>
<line x1="342.5" y1="457.3" x2="757.5" y2="457.3" stroke="#000" stroke-width="1" stroke-dasharray="2,2" shape-rendering="crispEdges"/>
<line x1="342.5" y1="476.7" x2="757.5" y2="476.7" stroke="#000" stroke-width="1" stroke-dasharray="2,2" shape-rendering="crispEdges"/>
<line x1="342.5" y1="495.8" x2="757.5" y2="495.8" stroke="#000" stroke-width="1" stroke-dasharray="2,2" shape-rendering="crispEdges"/>
<g clip-path="url(#m4)">
<polyline points="342.9,502.6 349.5,498.2 356.3,497.0 370.2,496.5 377.6,494.5 384.9,493.8 392.2,494.0 398.8,492.6 405.6,495.2 412.9,497.0 419.0,497.4 426.3,495.0 433.7,494.0 441.0,495.7 448.3,496.5 455.6,495.5 461.7,497.2 469.0,495.7 477.3,495.0 483.4,496.5 490.7,495.7 497.3,492.1 504.1,488.9 511.0,490.9 518.8,488.4 525.6,487.7 532.2,488.9 539.5,488.4 546.8,487.9 554.1,487.7 560.2,486.0 567.6,484.8 574.9,484.3 582.2,486.0 588.8,487.2 595.6,490.9 602.9,495.0 610.2,496.5 617.6,496.2 623.7,495.2 631.0,497.4 638.3,496.5 645.1,494.0 651.7,496.5 658.7,495.2 665.9,494.8 672.9,496.3 687.2,496.3 693.8,494.6 701.0,496.8 708.0,492.6 714.6,495.2 722.3,495.7 728.9,497.4 735.5,495.7 742.1,498.1 749.8,504.0 757.4,501.8" fill="none" stroke="#00009a" stroke-width="2.1" stroke-linejoin="round" stroke-linecap="round" />
<line x1="342.9" y1="475.5" x2="349.5" y2="475.5" stroke="#ff0000" stroke-width="1.1" />
<line x1="349.5" y1="473.8" x2="356.8" y2="473.8" stroke="#ff0000" stroke-width="1.1" />
<line x1="356.8" y1="472.3" x2="370.2" y2="472.3" stroke="#ff0000" stroke-width="1.1" />
<line x1="370.7" y1="468.4" x2="377.6" y2="468.4" stroke="#ff0000" stroke-width="1.1" />
<line x1="377.6" y1="467.4" x2="398.8" y2="467.4" stroke="#ff0000" stroke-width="1.1" />
<line x1="398.8" y1="468.4" x2="405.6" y2="468.4" stroke="#ff0000" stroke-width="1.1" />
<line x1="405.6" y1="475.5" x2="412.9" y2="475.5" stroke="#ff0000" stroke-width="1.1" />
<line x1="412.9" y1="477.2" x2="419.0" y2="477.2" stroke="#ff0000" stroke-width="1.1" />
<line x1="419.5" y1="472.3" x2="426.3" y2="472.3" stroke="#ff0000" stroke-width="1.1" />
<line x1="426.3" y1="470.4" x2="441.0" y2="470.4" stroke="#ff0000" stroke-width="1.1" />
<line x1="441.0" y1="472.1" x2="448.3" y2="472.1" stroke="#ff0000" stroke-width="1.1" />
<line x1="448.3" y1="474.5" x2="455.6" y2="474.5" stroke="#ff0000" stroke-width="1.1" />
<line x1="455.6" y1="475.7" x2="462.4" y2="475.7" stroke="#ff0000" stroke-width="1.1" />
<line x1="462.4" y1="474.5" x2="469.8" y2="474.5" stroke="#ff0000" stroke-width="1.1" />
<line x1="469.8" y1="472.1" x2="477.3" y2="472.1" stroke="#ff0000" stroke-width="1.1" />
<line x1="477.3" y1="473.3" x2="483.4" y2="473.3" stroke="#ff0000" stroke-width="1.1" />
<line x1="483.4" y1="475.5" x2="490.7" y2="475.5" stroke="#ff0000" stroke-width="1.1" />
<line x1="490.7" y1="467.4" x2="497.3" y2="467.4" stroke="#ff0000" stroke-width="1.1" />
<line x1="497.3" y1="460.4" x2="504.1" y2="460.4" stroke="#ff0000" stroke-width="1.1" />
<line x1="504.1" y1="461.6" x2="511.5" y2="461.6" stroke="#ff0000" stroke-width="1.1" />
<line x1="511.5" y1="457.2" x2="518.8" y2="457.2" stroke="#ff0000" stroke-width="1.1" />
<line x1="518.8" y1="451.3" x2="532.2" y2="451.3" stroke="#ff0000" stroke-width="1.1" />
<line x1="532.2" y1="452.3" x2="539.5" y2="452.3" stroke="#ff0000" stroke-width="1.1" />
<line x1="539.5" y1="454.3" x2="546.8" y2="454.3" stroke="#ff0000" stroke-width="1.1" />
<line x1="546.8" y1="455.5" x2="554.1" y2="455.5" stroke="#ff0000" stroke-width="1.1" />
<line x1="554.1" y1="453.3" x2="560.7" y2="453.3" stroke="#ff0000" stroke-width="1.1" />
<line x1="560.7" y1="451.3" x2="567.6" y2="451.3" stroke="#ff0000" stroke-width="1.1" />
<line x1="567.6" y1="449.4" x2="581.7" y2="449.4" stroke="#ff0000" stroke-width="1.1" />
<line x1="581.7" y1="455.2" x2="588.8" y2="455.2" stroke="#ff0000" stroke-width="1.1" />
<line x1="588.8" y1="459.4" x2="595.6" y2="459.4" stroke="#ff0000" stroke-width="1.1" />
<line x1="595.6" y1="465.2" x2="602.9" y2="465.2" stroke="#ff0000" stroke-width="1.1" />
<line x1="602.9" y1="473.3" x2="616.3" y2="473.3" stroke="#ff0000" stroke-width="1.1" />
<line x1="616.3" y1="474.5" x2="623.7" y2="474.5" stroke="#ff0000" stroke-width="1.1" />
<line x1="623.7" y1="472.3" x2="631.0" y2="472.3" stroke="#ff0000" stroke-width="1.1" />
<line x1="631.0" y1="473.3" x2="637.8" y2="473.3" stroke="#ff0000" stroke-width="1.1" />
<line x1="637.8" y1="468.4" x2="651.7" y2="468.4" stroke="#ff0000" stroke-width="1.1" />
<line x1="651.7" y1="470.4" x2="658.7" y2="470.4" stroke="#ff0000" stroke-width="1.1" />
<line x1="658.7" y1="471.3" x2="666.3" y2="471.3" stroke="#ff0000" stroke-width="1.1" />
<line x1="666.3" y1="472.2" x2="672.9" y2="472.2" stroke="#ff0000" stroke-width="1.1" />
<line x1="674.0" y1="474.2" x2="680.6" y2="474.2" stroke="#ff0000" stroke-width="1.1" />
<line x1="680.6" y1="473.3" x2="687.2" y2="473.3" stroke="#ff0000" stroke-width="1.1" />
<line x1="687.2" y1="470.4" x2="694.2" y2="470.4" stroke="#ff0000" stroke-width="1.1" />
<line x1="694.2" y1="465.4" x2="701.5" y2="465.4" stroke="#ff0000" stroke-width="1.1" />
<line x1="701.5" y1="466.3" x2="708.5" y2="466.3" stroke="#ff0000" stroke-width="1.1" />
<line x1="708.5" y1="467.4" x2="715.1" y2="467.4" stroke="#ff0000" stroke-width="1.1" />
<line x1="715.7" y1="470.4" x2="729.6" y2="470.4" stroke="#ff0000" stroke-width="1.1" />
<line x1="729.6" y1="473.3" x2="743.2" y2="473.3" stroke="#ff0000" stroke-width="1.1" />
<line x1="743.2" y1="478.3" x2="750.8" y2="478.3" stroke="#ff0000" stroke-width="1.1" />
<line x1="750.8" y1="487.6" x2="757.4" y2="487.6" stroke="#ff0000" stroke-width="1.1" />
</g>
<rect x="342.5" y="437.5" width="415.0" height="77.5" fill="none" stroke="#1a1a1a" stroke-width="1.3"/>
<line x1="342.0" y1="436.6" x2="758.0" y2="436.6" stroke="#8c8c8c" stroke-width="0.9" />
<text x="337.5" y="443.3" font-size="11" fill="#000" text-anchor="end" >20</text>
<text x="337.5" y="461.6" font-size="11" fill="#000" text-anchor="end" >15</text>
<text x="337.5" y="480.6" font-size="11" fill="#000" text-anchor="end" >10</text>
<text x="337.5" y="500.1" font-size="11" fill="#000" text-anchor="end" >5</text>
<text x="337.5" y="518.9" font-size="11" fill="#000" text-anchor="end" >0</text>
<text x="761.8" y="443.2" font-size="11" fill="#000" >72</text>
<text x="761.8" y="462.4" font-size="11" fill="#000" >54</text>
<text x="761.8" y="481.2" font-size="11" fill="#000" >36</text>
<text x="761.8" y="500.0" font-size="11" fill="#000" >18</text>
<text x="764.8" y="519.5" font-size="11" fill="#000" >0</text>
<text transform="translate(292.7,481.0) rotate(-90)" font-size="12.2" fill="#00009c" text-anchor="middle">wiatr</text>
<text transform="translate(306.0,481.5) rotate(-90)" font-size="12.2" fill="#00009c" text-anchor="middle">(m/s)</text>
<text transform="translate(816.2,481.0) rotate(-90)" font-size="12.2" fill="#00009c" text-anchor="middle">wiatr</text>
<text transform="translate(803.3,481.0) rotate(-90)" font-size="12.2" fill="#00009c" text-anchor="middle">(km/h)</text>
<rect x="342.5" y="521.5" width="415.0" height="30.5" fill="#fff" />
<rect x="418.3" y="521.5" width="66.5" height="30.5" fill="#e6e6e6" />
<rect x="587.2" y="521.5" width="66.4" height="30.5" fill="#e6e6e6" />
<line x1="356.6" y1="521.5" x2="356.6" y2="552.0" stroke="#000" stroke-width="1" stroke-dasharray="2,2" shape-rendering="crispEdges"/>
<line x1="377.7" y1="521.5" x2="377.7" y2="552.0" stroke="#000" stroke-width="1" stroke-dasharray="2,2" shape-rendering="crispEdges"/>
<line x1="398.8" y1="521.5" x2="398.8" y2="552.0" stroke="#000" stroke-width="1" stroke-dasharray="2,2" shape-rendering="crispEdges"/>
<line x1="419.9" y1="521.5" x2="419.9" y2="552.0" stroke="#000" stroke-width="1" stroke-dasharray="2,2" shape-rendering="crispEdges"/>
<line x1="441.0" y1="521.5" x2="441.0" y2="552.0" stroke="#000" stroke-width="1" stroke-dasharray="2,2" shape-rendering="crispEdges"/>
<line x1="462.1" y1="521.5" x2="462.1" y2="552.0" stroke="#000" stroke-width="1" stroke-dasharray="2,2" shape-rendering="crispEdges"/>
<line x1="483.2" y1="521.5" x2="483.2" y2="552.0" stroke="#000" stroke-width="1" stroke-dasharray="2,2" shape-rendering="crispEdges"/>
<line x1="504.3" y1="521.5" x2="504.3" y2="552.0" stroke="#000" stroke-width="1" stroke-dasharray="2,2" shape-rendering="crispEdges"/>
<line x1="525.4" y1="521.5" x2="525.4" y2="552.0" stroke="#000" stroke-width="1" stroke-dasharray="2,2" shape-rendering="crispEdges"/>
<line x1="546.5" y1="521.5" x2="546.5" y2="552.0" stroke="#000" stroke-width="1" stroke-dasharray="2,2" shape-rendering="crispEdges"/>
<line x1="567.6" y1="521.5" x2="567.6" y2="552.0" stroke="#000" stroke-width="1" stroke-dasharray="2,2" shape-rendering="crispEdges"/>
<line x1="588.7" y1="521.5" x2="588.7" y2="552.0" stroke="#000" stroke-width="1" stroke-dasharray="2,2" shape-rendering="crispEdges"/>
<line x1="609.8" y1="521.5" x2="609.8" y2="552.0" stroke="#000" stroke-width="1" stroke-dasharray="2,2" shape-rendering="crispEdges"/>
<line x1="630.9" y1="521.5" x2="630.9" y2="552.0" stroke="#000" stroke-width="1" stroke-dasharray="2,2" shape-rendering="crispEdges"/>
<line x1="652.0" y1="521.5" x2="652.0" y2="552.0" stroke="#000" stroke-width="1" stroke-dasharray="2,2" shape-rendering="crispEdges"/>
<line x1="673.1" y1="521.5" x2="673.1" y2="552.0" stroke="#000" stroke-width="1" stroke-dasharray="2,2" shape-rendering="crispEdges"/>
<line x1="694.2" y1="521.5" x2="694.2" y2="552.0" stroke="#000" stroke-width="1" stroke-dasharray="2,2" shape-rendering="crispEdges"/>
<line x1="715.3" y1="521.5" x2="715.3" y2="552.0" stroke="#000" stroke-width="1" stroke-dasharray="2,2" shape-rendering="crispEdges"/>
<line x1="736.4" y1="521.5" x2="736.4" y2="552.0" stroke="#000" stroke-width="1" stroke-dasharray="2,2" shape-rendering="crispEdges"/>
<rect x="342.5" y="521.5" width="415" height="30.5" fill="none" stroke="#222" stroke-width="1.4"/>
<line x1="342.5" y1="552.0" x2="757.5" y2="552.0" stroke="#888" stroke-width="1.6" />
<line x1="337.2" y1="532.7" x2="343.7" y2="537.1" stroke="#00009a" stroke-width="1.15" />
<polygon points="347.8,539.9 342.3,539.1 345.0,535.1" fill="#00009a" />
<line x1="344.6" y1="532.2" x2="350.6" y2="537.2" stroke="#00009a" stroke-width="1.15" />
<polygon points="354.4,540.4 349.1,539.0 352.1,535.4" fill="#00009a" />
<line x1="352.5" y1="531.4" x2="357.5" y2="537.4" stroke="#00009a" stroke-width="1.15" />
<polygon points="360.7,541.2 355.6,538.9 359.3,535.8" fill="#00009a" />
<line x1="359.9" y1="531.1" x2="364.4" y2="537.4" stroke="#00009a" stroke-width="1.15" />
<polygon points="367.3,541.5 362.4,538.8 366.4,536.1" fill="#00009a" />
<line x1="367.1" y1="531.0" x2="371.4" y2="537.5" stroke="#00009a" stroke-width="1.15" />
<polygon points="374.2,541.6 369.4,538.8 373.4,536.1" fill="#00009a" />
<line x1="374.1" y1="531.0" x2="378.5" y2="537.5" stroke="#00009a" stroke-width="1.15" />
<polygon points="381.2,541.6 376.5,538.8 380.4,536.1" fill="#00009a" />
<line x1="381.2" y1="530.9" x2="385.5" y2="537.5" stroke="#00009a" stroke-width="1.15" />
<polygon points="388.2,541.7 383.5,538.8 387.5,536.2" fill="#00009a" />
<line x1="388.1" y1="531.1" x2="392.5" y2="537.4" stroke="#00009a" stroke-width="1.15" />
<polygon points="395.4,541.5 390.6,538.8 394.5,536.1" fill="#00009a" />
<line x1="394.0" y1="532.0" x2="399.8" y2="537.2" stroke="#00009a" stroke-width="1.15" />
<polygon points="403.5,540.6 398.2,539.0 401.4,535.5" fill="#00009a" />
<line x1="400.8" y1="532.4" x2="406.9" y2="537.2" stroke="#00009a" stroke-width="1.15" />
<polygon points="410.8,540.2 405.4,539.1 408.4,535.3" fill="#00009a" />
<line x1="407.8" y1="532.4" x2="413.9" y2="537.2" stroke="#00009a" stroke-width="1.15" />
<polygon points="417.9,540.2 412.5,539.1 415.4,535.3" fill="#00009a" />
<line x1="414.8" y1="532.4" x2="421.0" y2="537.2" stroke="#00009a" stroke-width="1.15" />
<polygon points="424.9,540.2 419.5,539.1 422.5,535.3" fill="#00009a" />
<line x1="422.0" y1="532.2" x2="428.0" y2="537.2" stroke="#00009a" stroke-width="1.15" />
<polygon points="431.8,540.4 426.4,539.0 429.5,535.4" fill="#00009a" />
<line x1="429.0" y1="532.2" x2="435.0" y2="537.2" stroke="#00009a" stroke-width="1.15" />
<polygon points="438.8,540.4 433.5,539.0 436.6,535.4" fill="#00009a" />
<line x1="435.9" y1="532.4" x2="442.1" y2="537.2" stroke="#00009a" stroke-width="1.15" />
<polygon points="446.0,540.2 440.6,539.1 443.6,535.3" fill="#00009a" />
<line x1="442.8" y1="532.5" x2="449.1" y2="537.1" stroke="#00009a" stroke-width="1.15" />
<polygon points="453.2,540.1 447.7,539.1 450.6,535.2" fill="#00009a" />
<line x1="449.7" y1="532.8" x2="456.2" y2="537.1" stroke="#00009a" stroke-width="1.15" />
<polygon points="460.4,539.8 454.9,539.1 457.5,535.0" fill="#00009a" />
<line x1="456.6" y1="532.9" x2="463.3" y2="537.0" stroke="#00009a" stroke-width="1.15" />
<polygon points="467.5,539.7 462.0,539.1 464.5,535.0" fill="#00009a" />
<line x1="463.6" y1="533.1" x2="470.3" y2="537.0" stroke="#00009a" stroke-width="1.15" />
<polygon points="474.7,539.5 469.1,539.1 471.5,534.9" fill="#00009a" />
<line x1="470.6" y1="533.1" x2="477.4" y2="537.0" stroke="#00009a" stroke-width="1.15" />
<polygon points="481.7,539.5 476.2,539.1 478.6,534.9" fill="#00009a" />
<line x1="477.8" y1="532.9" x2="484.4" y2="537.0" stroke="#00009a" stroke-width="1.15" />
<polygon points="488.6,539.7 483.1,539.1 485.6,535.0" fill="#00009a" />
<line x1="485.0" y1="532.5" x2="491.3" y2="537.1" stroke="#00009a" stroke-width="1.15" />
<polygon points="495.4,540.1 489.9,539.1 492.8,535.2" fill="#00009a" />
<line x1="493.1" y1="531.4" x2="498.1" y2="537.4" stroke="#00009a" stroke-width="1.15" />
<polygon points="501.4,541.2 496.3,538.9 500.0,535.8" fill="#00009a" />
<line x1="500.9" y1="530.9" x2="505.0" y2="537.5" stroke="#00009a" stroke-width="1.15" />
<polygon points="507.7,541.7 503.0,538.8 507.1,536.2" fill="#00009a" />
<line x1="508.3" y1="530.6" x2="512.0" y2="537.5" stroke="#00009a" stroke-width="1.15" />
<polygon points="514.3,542.0 509.9,538.7 514.1,536.4" fill="#00009a" />
<line x1="515.5" y1="530.5" x2="519.0" y2="537.6" stroke="#00009a" stroke-width="1.15" />
<polygon points="521.2,542.1 516.8,538.6 521.1,536.5" fill="#00009a" />
<line x1="522.8" y1="530.5" x2="526.0" y2="537.6" stroke="#00009a" stroke-width="1.15" />
<polygon points="528.0,542.1 523.8,538.6 528.1,536.6" fill="#00009a" />
<line x1="529.6" y1="530.5" x2="533.0" y2="537.6" stroke="#00009a" stroke-width="1.15" />
<polygon points="535.2,542.1 530.9,538.6 535.2,536.5" fill="#00009a" />
<line x1="536.4" y1="530.6" x2="540.1" y2="537.5" stroke="#00009a" stroke-width="1.15" />
<polygon points="542.5,542.0 538.0,538.7 542.2,536.4" fill="#00009a" />
<line x1="543.3" y1="530.8" x2="547.2" y2="537.5" stroke="#00009a" stroke-width="1.15" />
<polygon points="549.7,541.8 545.1,538.7 549.3,536.3" fill="#00009a" />
<line x1="550.3" y1="530.8" x2="554.2" y2="537.5" stroke="#00009a" stroke-width="1.15" />
<polygon points="556.7,541.8 552.1,538.7 556.3,536.3" fill="#00009a" />
<line x1="557.4" y1="530.8" x2="561.3" y2="537.5" stroke="#00009a" stroke-width="1.15" />
<polygon points="563.8,541.8 559.2,538.7 563.3,536.3" fill="#00009a" />
<line x1="564.2" y1="530.9" x2="568.3" y2="537.5" stroke="#00009a" stroke-width="1.15" />
<polygon points="571.0,541.7 566.3,538.8 570.4,536.2" fill="#00009a" />
<line x1="571.0" y1="531.0" x2="575.4" y2="537.5" stroke="#00009a" stroke-width="1.15" />
<polygon points="578.2,541.6 573.4,538.8 577.4,536.1" fill="#00009a" />
<line x1="577.7" y1="531.3" x2="582.5" y2="537.4" stroke="#00009a" stroke-width="1.15" />
<polygon points="585.6,541.3 580.6,538.9 584.4,535.9" fill="#00009a" />
<line x1="584.4" y1="531.5" x2="589.6" y2="537.3" stroke="#00009a" stroke-width="1.15" />
<polygon points="593.0,541.1 587.8,538.9 591.4,535.7" fill="#00009a" />
<line x1="591.1" y1="531.9" x2="596.7" y2="537.3" stroke="#00009a" stroke-width="1.15" />
<polygon points="600.3,540.7 595.1,539.0 598.4,535.5" fill="#00009a" />
<line x1="598.0" y1="532.0" x2="603.8" y2="537.2" stroke="#00009a" stroke-width="1.15" />
<polygon points="607.5,540.6 602.2,539.0 605.4,535.5" fill="#00009a" />
<line x1="604.7" y1="532.4" x2="610.9" y2="537.2" stroke="#00009a" stroke-width="1.15" />
<polygon points="614.8,540.2 609.4,539.1 612.4,535.3" fill="#00009a" />
<line x1="611.6" y1="532.6" x2="618.0" y2="537.1" stroke="#00009a" stroke-width="1.15" />
<polygon points="622.1,540.0 616.6,539.1 619.3,535.1" fill="#00009a" />
<line x1="618.6" y1="532.7" x2="625.0" y2="537.1" stroke="#00009a" stroke-width="1.15" />
<polygon points="629.2,539.9 623.7,539.1 626.4,535.1" fill="#00009a" />
<line x1="625.6" y1="532.7" x2="632.1" y2="537.1" stroke="#00009a" stroke-width="1.15" />
<polygon points="636.2,539.9 630.7,539.1 633.4,535.1" fill="#00009a" />
<line x1="632.7" y1="532.5" x2="639.1" y2="537.1" stroke="#00009a" stroke-width="1.15" />
<polygon points="643.1,540.1 637.6,539.1 640.5,535.2" fill="#00009a" />
<line x1="639.9" y1="532.4" x2="646.1" y2="537.2" stroke="#00009a" stroke-width="1.15" />
<polygon points="650.0,540.2 644.6,539.1 647.5,535.3" fill="#00009a" />
<line x1="647.1" y1="532.2" x2="653.1" y2="537.2" stroke="#00009a" stroke-width="1.15" />
<polygon points="656.9,540.4 651.5,539.0 654.6,535.4" fill="#00009a" />
<line x1="654.3" y1="532.0" x2="660.1" y2="537.2" stroke="#00009a" stroke-width="1.15" />
<polygon points="663.8,540.6 658.5,539.0 661.7,535.5" fill="#00009a" />
<line x1="661.5" y1="531.9" x2="667.1" y2="537.3" stroke="#00009a" stroke-width="1.15" />
<polygon points="670.7,540.7 665.4,539.0 668.7,535.5" fill="#00009a" />
<line x1="668.5" y1="531.9" x2="674.1" y2="537.3" stroke="#00009a" stroke-width="1.15" />
<polygon points="677.7,540.7 672.4,539.0 675.8,535.5" fill="#00009a" />
<line x1="675.5" y1="531.9" x2="681.1" y2="537.3" stroke="#00009a" stroke-width="1.15" />
<polygon points="684.7,540.7 679.5,539.0 682.8,535.5" fill="#00009a" />
<line x1="682.7" y1="531.7" x2="688.1" y2="537.3" stroke="#00009a" stroke-width="1.15" />
<polygon points="691.6,540.9 686.4,539.0 689.9,535.6" fill="#00009a" />
<line x1="690.1" y1="531.4" x2="695.1" y2="537.4" stroke="#00009a" stroke-width="1.15" />
<polygon points="698.3,541.2 693.3,538.9 696.9,535.8" fill="#00009a" />
<line x1="697.3" y1="531.3" x2="702.1" y2="537.4" stroke="#00009a" stroke-width="1.15" />
<polygon points="705.2,541.3 700.2,538.9 704.0,535.9" fill="#00009a" />
<line x1="704.3" y1="531.3" x2="709.1" y2="537.4" stroke="#00009a" stroke-width="1.15" />
<polygon points="712.2,541.3 707.2,538.9 711.0,535.9" fill="#00009a" />
<line x1="711.0" y1="531.5" x2="716.2" y2="537.3" stroke="#00009a" stroke-width="1.15" />
<polygon points="719.6,541.1 714.4,538.9 718.0,535.7" fill="#00009a" />
<line x1="717.6" y1="532.0" x2="723.4" y2="537.2" stroke="#00009a" stroke-width="1.15" />
<polygon points="727.1,540.6 721.8,539.0 725.0,535.5" fill="#00009a" />
<line x1="724.3" y1="532.4" x2="730.5" y2="537.2" stroke="#00009a" stroke-width="1.15" />
<polygon points="734.4,540.2 729.0,539.1 731.9,535.3" fill="#00009a" />
<line x1="731.1" y1="532.7" x2="737.6" y2="537.1" stroke="#00009a" stroke-width="1.15" />
<polygon points="741.7,539.9 736.2,539.1 738.9,535.1" fill="#00009a" />
<line x1="737.2" y1="534.8" x2="744.8" y2="536.6" stroke="#00009a" stroke-width="1.15" />
<polygon points="749.6,537.8 744.2,539.0 745.4,534.3" fill="#00009a" />
<line x1="744.1" y1="536.1" x2="751.9" y2="536.3" stroke="#00009a" stroke-width="1.15" />
<polygon points="756.9,536.5 751.8,538.7 751.9,534.0" fill="#00009a" />
<line x1="751.3" y1="537.8" x2="758.9" y2="536.0" stroke="#00009a" stroke-width="1.15" />
<polygon points="763.7,534.8 759.4,538.3 758.3,533.6" fill="#00009a" />
<text x="294.4" y="530.9" font-size="11.8" fill="#00009c" >N</text>
<text x="283.8" y="539.6" font-size="11.8" fill="#00009c" >W</text>
<text x="301.6" y="539.6" font-size="11.8" fill="#00009c" >E</text>
<text x="294.3" y="547.5" font-size="11.8" fill="#00009c" >S</text>
<text x="803.6" y="531.6" font-size="11.8" fill="#00009c" >N</text>
<text x="792.8" y="540.7" font-size="11.8" fill="#00009c" >W</text>
<text x="810.4" y="540.7" font-size="11.8" fill="#00009c" >E</text>
<text x="803.6" y="547.6" font-size="11.8" fill="#00009c" >S</text>
<clipPath id="m6"><rect x="342.5" y="558" width="415.0" height="78"/></clipPath>
<rect x="342.5" y="558.0" width="415.0" height="78.0" fill="#87cefa" />
<rect x="418.3" y="558.0" width="66.5" height="78.0" fill="#7fbeee" />
<rect x="587.2" y="558.0" width="66.4" height="78.0" fill="#7fbeee" />
<g clip-path="url(#m6)">
<circle cx="342.5" cy="569.6" r="2.6" fill="#b22222"/>
<circle cx="349.5" cy="569.1" r="2.6" fill="#b22222"/>
<circle cx="356.6" cy="567.9" r="2.6" fill="#b22222"/>
<circle cx="363.6" cy="567.9" r="2.6" fill="#b22222"/>
<circle cx="370.6" cy="567.9" r="2.6" fill="#b22222"/>
<circle cx="377.7" cy="569.6" r="2.6" fill="#b22222"/>
<circle cx="384.7" cy="568.4" r="2.6" fill="#b22222"/>
<circle cx="391.7" cy="570.1" r="2.6" fill="#b22222"/>
<circle cx="398.8" cy="568.4" r="2.6" fill="#b22222"/>
<circle cx="405.8" cy="568.4" r="2.6" fill="#b22222"/>
<circle cx="412.8" cy="568.4" r="2.6" fill="#b22222"/>
<circle cx="419.9" cy="568.4" r="2.6" fill="#b22222"/>
<circle cx="426.9" cy="566.7" r="2.6" fill="#b22222"/>
<circle cx="433.9" cy="567.1" r="2.6" fill="#b22222"/>
<circle cx="441.0" cy="568.4" r="2.6" fill="#b22222"/>
<circle cx="448.0" cy="571.9" r="2.6" fill="#b22222"/>
<circle cx="455.0" cy="575.6" r="2.6" fill="#b22222"/>
<circle cx="462.1" cy="577.3" r="2.6" fill="#b22222"/>
<circle cx="469.1" cy="596.4" r="2.6" fill="#b22222"/>
<circle cx="476.1" cy="596.1" r="2.6" fill="#b22222"/>
<circle cx="483.2" cy="577.0" r="2.6" fill="#b22222"/>
<circle cx="490.2" cy="579.4" r="2.6" fill="#b22222"/>
<circle cx="497.2" cy="599.9" r="2.6" fill="#b22222"/>
<circle cx="504.3" cy="614.0" r="2.6" fill="#b22222"/>
<circle cx="511.3" cy="612.3" r="2.6" fill="#b22222"/>
<circle cx="518.3" cy="609.8" r="2.6" fill="#b22222"/>
<circle cx="532.4" cy="606.9" r="2.6" fill="#b22222"/>
<circle cx="539.4" cy="607.2" r="2.6" fill="#b22222"/>
<circle cx="546.5" cy="570.5" r="2.6" fill="#b22222"/>
<circle cx="553.5" cy="569.6" r="2.6" fill="#b22222"/>
<circle cx="560.6" cy="571.3" r="2.6" fill="#b22222"/>
<circle cx="567.6" cy="571.3" r="2.6" fill="#b22222"/>
<circle cx="574.6" cy="572.2" r="2.6" fill="#b22222"/>
<circle cx="581.7" cy="573.9" r="2.6" fill="#b22222"/>
<circle cx="595.7" cy="605.5" r="2.6" fill="#b22222"/>
<circle cx="602.8" cy="603.8" r="2.6" fill="#b22222"/>
<circle cx="609.8" cy="570.8" r="2.6" fill="#b22222"/>
<circle cx="616.8" cy="568.4" r="2.6" fill="#b22222"/>
<circle cx="623.9" cy="568.4" r="2.6" fill="#b22222"/>
<circle cx="630.9" cy="568.4" r="2.6" fill="#b22222"/>
<circle cx="637.9" cy="567.1" r="2.6" fill="#b22222"/>
<circle cx="645.0" cy="568.4" r="2.6" fill="#b22222"/>
<circle cx="652.0" cy="567.1" r="2.6" fill="#b22222"/>
<circle cx="659.0" cy="567.1" r="2.6" fill="#b22222"/>
<circle cx="666.1" cy="567.1" r="2.6" fill="#b22222"/>
<circle cx="673.1" cy="567.1" r="2.6" fill="#b22222"/>
<circle cx="680.1" cy="567.1" r="2.6" fill="#b22222"/>
<circle cx="687.2" cy="567.1" r="2.6" fill="#b22222"/>
<circle cx="694.2" cy="567.1" r="2.6" fill="#b22222"/>
<circle cx="701.2" cy="598.1" r="2.6" fill="#b22222"/>
<circle cx="708.3" cy="598.7" r="2.6" fill="#b22222"/>
<circle cx="715.3" cy="595.2" r="2.6" fill="#b22222"/>
<circle cx="722.3" cy="572.5" r="2.6" fill="#b22222"/>
<circle cx="729.4" cy="594.7" r="2.6" fill="#b22222"/>
<circle cx="736.4" cy="595.2" r="2.6" fill="#b22222"/>
<circle cx="743.4" cy="596.4" r="2.6" fill="#b22222"/>
<circle cx="750.5" cy="596.4" r="2.6" fill="#b22222"/>
<circle cx="757.5" cy="596.4" r="2.6" fill="#b22222"/>
<circle cx="342.5" cy="582.0" r="2.6" fill="#fff"/>
<circle cx="342.5" cy="579.0" r="2.6" fill="#555"/>
<circle cx="349.5" cy="582.8" r="2.6" fill="#fff"/>
<circle cx="349.5" cy="580.7" r="2.6" fill="#999"/>
<circle cx="356.6" cy="582.8" r="2.6" fill="#fff"/>
<circle cx="356.6" cy="580.0" r="2.6" fill="#999"/>
<circle cx="356.6" cy="576.5" r="2.6" fill="#555"/>
<circle cx="363.6" cy="582.0" r="2.6" fill="#fff"/>
<circle cx="363.6" cy="580.7" r="2.6" fill="#ccc"/>
<circle cx="370.6" cy="576.0" r="2.6" fill="#fff"/>
<circle cx="370.6" cy="574.8" r="2.6" fill="#ccc"/>
<circle cx="377.7" cy="575.6" r="2.6" fill="#fff"/>
<circle cx="384.7" cy="572.5" r="2.6" fill="#fff"/>
<circle cx="391.7" cy="599.9" r="2.6" fill="#fff"/>
<circle cx="398.8" cy="575.6" r="2.6" fill="#fff"/>
<circle cx="398.8" cy="572.0" r="2.6" fill="#ccc"/>
<circle cx="405.8" cy="578.0" r="2.6" fill="#ccc"/>
<circle cx="405.8" cy="575.6" r="2.6" fill="#555"/>
<circle cx="412.8" cy="580.0" r="2.6" fill="#ccc"/>
<circle cx="412.8" cy="577.0" r="2.6" fill="#555"/>
<circle cx="419.9" cy="585.0" r="2.6" fill="#fff"/>
<circle cx="419.9" cy="581.6" r="2.6" fill="#ccc"/>
<circle cx="426.9" cy="588.0" r="2.6" fill="#ccc"/>
<circle cx="426.9" cy="585.5" r="2.6" fill="#999"/>
<circle cx="426.9" cy="571.7" r="2.6" fill="#000"/>
<circle cx="433.9" cy="590.5" r="2.6" fill="#fff"/>
<circle cx="433.9" cy="588.9" r="2.6" fill="#ccc"/>
<circle cx="433.9" cy="579.4" r="2.6" fill="#555"/>
<circle cx="441.0" cy="590.1" r="2.6" fill="#fff"/>
<circle cx="441.0" cy="585.0" r="2.6" fill="#ccc"/>
<circle cx="441.0" cy="581.2" r="2.6" fill="#999"/>
<circle cx="448.0" cy="609.4" r="2.6" fill="#fff"/>
<circle cx="448.0" cy="589.3" r="2.6" fill="#ccc"/>
<circle cx="448.0" cy="578.7" r="2.6" fill="#999"/>
<circle cx="455.0" cy="626.8" r="2.6" fill="#fff"/>
<circle cx="455.0" cy="584.5" r="2.6" fill="#ccc"/>
<circle cx="462.1" cy="609.8" r="2.6" fill="#fff"/>
<circle cx="462.1" cy="605.0" r="2.6" fill="#ccc"/>
<circle cx="462.1" cy="600.9" r="2.6" fill="#999"/>
<circle cx="462.1" cy="592.0" r="2.6" fill="#555"/>
<circle cx="469.1" cy="610.1" r="2.6" fill="#fff"/>
<circle cx="469.1" cy="607.0" r="2.6" fill="#999"/>
<circle cx="469.1" cy="603.8" r="2.6" fill="#555"/>
<circle cx="476.1" cy="611.5" r="2.6" fill="#fff"/>
<circle cx="476.1" cy="608.5" r="2.6" fill="#999"/>
<circle cx="476.1" cy="605.0" r="2.6" fill="#000"/>
<circle cx="483.2" cy="623.1" r="2.6" fill="#fff"/>
<circle cx="483.2" cy="611.0" r="2.6" fill="#999"/>
<circle cx="483.2" cy="608.0" r="2.6" fill="#000"/>
<circle cx="490.2" cy="624.8" r="2.6" fill="#fff"/>
<circle cx="490.2" cy="604.0" r="2.6" fill="#999"/>
<circle cx="490.2" cy="601.2" r="2.6" fill="#000"/>
<circle cx="497.2" cy="626.3" r="2.6" fill="#fff"/>
<circle cx="497.2" cy="601.2" r="2.6" fill="#555"/>
<circle cx="504.3" cy="627.2" r="2.6" fill="#fff"/>
<circle cx="504.3" cy="620.0" r="2.6" fill="#ccc"/>
<circle cx="504.3" cy="615.7" r="2.6" fill="#555"/>
<circle cx="511.3" cy="621.7" r="2.6" fill="#fff"/>
<circle cx="511.3" cy="616.0" r="2.6" fill="#999"/>
<circle cx="511.3" cy="614.5" r="2.6" fill="#555"/>
<circle cx="518.3" cy="613.5" r="2.6" fill="#fff"/>
<circle cx="532.4" cy="609.8" r="2.6" fill="#fff"/>
<circle cx="539.4" cy="609.8" r="2.6" fill="#fff"/>
<circle cx="546.5" cy="608.4" r="2.6" fill="#fff"/>
<circle cx="553.5" cy="608.0" r="2.6" fill="#fff"/>
<circle cx="553.5" cy="577.0" r="2.6" fill="#ccc"/>
<circle cx="553.5" cy="574.4" r="2.6" fill="#999"/>
<circle cx="560.6" cy="609.4" r="2.6" fill="#fff"/>
<circle cx="560.6" cy="580.0" r="2.6" fill="#ccc"/>
<circle cx="560.6" cy="577.3" r="2.6" fill="#999"/>
<circle cx="567.6" cy="610.6" r="2.6" fill="#fff"/>
<circle cx="567.6" cy="582.4" r="2.6" fill="#999"/>
<circle cx="574.6" cy="583.0" r="2.6" fill="#fff"/>
<circle cx="574.6" cy="581.6" r="2.6" fill="#ccc"/>
<circle cx="574.6" cy="577.0" r="2.6" fill="#555"/>
<circle cx="581.7" cy="590.0" r="2.6" fill="#fff"/>
<circle cx="581.7" cy="587.6" r="2.6" fill="#ccc"/>
<circle cx="581.7" cy="583.3" r="2.6" fill="#999"/>
<circle cx="595.7" cy="609.8" r="2.6" fill="#fff"/>
<circle cx="602.8" cy="611.0" r="2.6" fill="#fff"/>
<circle cx="602.8" cy="608.5" r="2.6" fill="#999"/>
<circle cx="602.8" cy="605.5" r="2.6" fill="#000"/>
<circle cx="609.8" cy="614.5" r="2.6" fill="#fff"/>
<circle cx="609.8" cy="610.0" r="2.6" fill="#999"/>
<circle cx="609.8" cy="606.9" r="2.6" fill="#000"/>
<circle cx="616.8" cy="611.0" r="2.6" fill="#fff"/>
<circle cx="616.8" cy="608.5" r="2.6" fill="#999"/>
<circle cx="616.8" cy="605.5" r="2.6" fill="#000"/>
<circle cx="623.9" cy="615.7" r="2.6" fill="#fff"/>
<circle cx="623.9" cy="614.0" r="2.6" fill="#ccc"/>
<circle cx="623.9" cy="611.5" r="2.6" fill="#999"/>
<circle cx="623.9" cy="608.4" r="2.6" fill="#000"/>
<circle cx="630.9" cy="614.5" r="2.6" fill="#fff"/>
<circle cx="630.9" cy="611.5" r="2.6" fill="#999"/>
<circle cx="630.9" cy="608.4" r="2.6" fill="#000"/>
<circle cx="637.9" cy="622.2" r="2.6" fill="#fff"/>
<circle cx="637.9" cy="611.5" r="2.6" fill="#ccc"/>
<circle cx="637.9" cy="610.0" r="2.6" fill="#999"/>
<circle cx="637.9" cy="606.9" r="2.6" fill="#000"/>
<circle cx="645.0" cy="628.5" r="2.6" fill="#fff"/>
<circle cx="645.0" cy="622.2" r="2.6" fill="#ccc"/>
<circle cx="645.0" cy="614.9" r="2.6" fill="#000"/>
<circle cx="652.0" cy="628.9" r="2.6" fill="#fff"/>
<circle cx="652.0" cy="626.0" r="2.6" fill="#ccc"/>
<circle cx="652.0" cy="623.4" r="2.6" fill="#999"/>
<circle cx="652.0" cy="614.5" r="2.6" fill="#000"/>
<circle cx="659.0" cy="629.9" r="2.6" fill="#fff"/>
<circle cx="659.0" cy="628.0" r="2.6" fill="#ccc"/>
<circle cx="659.0" cy="625.1" r="2.6" fill="#999"/>
<circle cx="659.0" cy="620.9" r="2.6" fill="#555"/>
<circle cx="659.0" cy="614.5" r="2.6" fill="#000"/>
<circle cx="666.1" cy="629.9" r="2.6" fill="#fff"/>
<circle cx="666.1" cy="628.5" r="2.6" fill="#ccc"/>
<circle cx="666.1" cy="625.1" r="2.6" fill="#999"/>
<circle cx="666.1" cy="616.1" r="2.6" fill="#000"/>
<circle cx="673.1" cy="629.4" r="2.6" fill="#fff"/>
<circle cx="673.1" cy="625.1" r="2.6" fill="#ccc"/>
<circle cx="673.1" cy="620.0" r="2.6" fill="#999"/>
<circle cx="673.1" cy="614.9" r="2.6" fill="#000"/>
<circle cx="680.1" cy="630.8" r="2.6" fill="#fff"/>
<circle cx="680.1" cy="623.8" r="2.6" fill="#ccc"/>
<circle cx="680.1" cy="619.7" r="2.6" fill="#999"/>
<circle cx="680.1" cy="614.9" r="2.6" fill="#000"/>
<circle cx="687.2" cy="624.3" r="2.6" fill="#fff"/>
<circle cx="687.2" cy="618.0" r="2.6" fill="#ccc"/>
<circle cx="687.2" cy="615.7" r="2.6" fill="#999"/>
<circle cx="687.2" cy="613.0" r="2.6" fill="#555"/>
<circle cx="687.2" cy="609.8" r="2.6" fill="#000"/>
<circle cx="694.2" cy="620.9" r="2.6" fill="#fff"/>
<circle cx="694.2" cy="617.0" r="2.6" fill="#999"/>
<circle cx="694.2" cy="614.0" r="2.6" fill="#000"/>
<circle cx="701.2" cy="625.6" r="2.6" fill="#fff"/>
<circle cx="701.2" cy="619.7" r="2.6" fill="#ccc"/>
<circle cx="701.2" cy="617.0" r="2.6" fill="#999"/>
<circle cx="701.2" cy="614.0" r="2.6" fill="#000"/>
<circle cx="708.3" cy="622.0" r="2.6" fill="#fff"/>
<circle cx="708.3" cy="615.5" r="2.6" fill="#999"/>
<circle cx="708.3" cy="612.3" r="2.6" fill="#000"/>
<circle cx="715.3" cy="615.7" r="2.6" fill="#fff"/>
<circle cx="715.3" cy="614.0" r="2.6" fill="#ccc"/>
<circle cx="715.3" cy="612.3" r="2.6" fill="#999"/>
<circle cx="715.3" cy="605.1" r="2.6" fill="#000"/>
<circle cx="722.3" cy="614.9" r="2.6" fill="#fff"/>
<circle cx="722.3" cy="613.5" r="2.6" fill="#999"/>
<circle cx="722.3" cy="612.0" r="2.6" fill="#555"/>
<circle cx="722.3" cy="608.6" r="2.6" fill="#000"/>
<circle cx="729.4" cy="616.2" r="2.6" fill="#fff"/>
<circle cx="729.4" cy="614.0" r="2.6" fill="#999"/>
<circle cx="729.4" cy="611.0" r="2.6" fill="#000"/>
<circle cx="736.4" cy="625.1" r="2.6" fill="#fff"/>
<circle cx="736.4" cy="620.0" r="2.6" fill="#ccc"/>
<circle cx="736.4" cy="616.0" r="2.6" fill="#999"/>
<circle cx="736.4" cy="612.3" r="2.6" fill="#000"/>
<circle cx="743.4" cy="625.5" r="2.6" fill="#fff"/>
<circle cx="743.4" cy="620.0" r="2.6" fill="#ccc"/>
<circle cx="743.4" cy="615.0" r="2.6" fill="#999"/>
<circle cx="743.4" cy="611.1" r="2.6" fill="#000"/>
<circle cx="750.5" cy="625.0" r="2.6" fill="#fff"/>
<circle cx="750.5" cy="619.0" r="2.6" fill="#ccc"/>
<circle cx="750.5" cy="614.0" r="2.6" fill="#999"/>
<circle cx="750.5" cy="610.0" r="2.6" fill="#000"/>
<circle cx="757.5" cy="624.0" r="2.6" fill="#fff"/>
<circle cx="757.5" cy="618.0" r="2.6" fill="#ccc"/>
<circle cx="757.5" cy="613.0" r="2.6" fill="#999"/>
<circle cx="757.5" cy="609.5" r="2.6" fill="#000"/>
</g>
<line x1="356.6" y1="558.0" x2="356.6" y2="636.0" stroke="#000" stroke-width="1" stroke-dasharray="2,2" shape-rendering="crispEdges"/>
<line x1="377.7" y1="558.0" x2="377.7" y2="636.0" stroke="#000" stroke-width="1" stroke-dasharray="2,2" shape-rendering="crispEdges"/>
<line x1="398.8" y1="558.0" x2="398.8" y2="636.0" stroke="#000" stroke-width="1" stroke-dasharray="2,2" shape-rendering="crispEdges"/>
<line x1="419.9" y1="558.0" x2="419.9" y2="636.0" stroke="#000" stroke-width="1" stroke-dasharray="2,2" shape-rendering="crispEdges"/>
<line x1="441.0" y1="558.0" x2="441.0" y2="636.0" stroke="#000" stroke-width="1" stroke-dasharray="2,2" shape-rendering="crispEdges"/>
<line x1="462.1" y1="558.0" x2="462.1" y2="636.0" stroke="#000" stroke-width="1" stroke-dasharray="2,2" shape-rendering="crispEdges"/>
<line x1="483.2" y1="558.0" x2="483.2" y2="636.0" stroke="#000" stroke-width="1" stroke-dasharray="2,2" shape-rendering="crispEdges"/>
<line x1="504.3" y1="558.0" x2="504.3" y2="636.0" stroke="#000" stroke-width="1" stroke-dasharray="2,2" shape-rendering="crispEdges"/>
<line x1="525.4" y1="558.0" x2="525.4" y2="636.0" stroke="#000" stroke-width="1" stroke-dasharray="2,2" shape-rendering="crispEdges"/>
<line x1="546.5" y1="558.0" x2="546.5" y2="636.0" stroke="#000" stroke-width="1" stroke-dasharray="2,2" shape-rendering="crispEdges"/>
<line x1="567.6" y1="558.0" x2="567.6" y2="636.0" stroke="#000" stroke-width="1" stroke-dasharray="2,2" shape-rendering="crispEdges"/>
<line x1="588.7" y1="558.0" x2="588.7" y2="636.0" stroke="#000" stroke-width="1" stroke-dasharray="2,2" shape-rendering="crispEdges"/>
<line x1="609.8" y1="558.0" x2="609.8" y2="636.0" stroke="#000" stroke-width="1" stroke-dasharray="2,2" shape-rendering="crispEdges"/>
<line x1="630.9" y1="558.0" x2="630.9" y2="636.0" stroke="#000" stroke-width="1" stroke-dasharray="2,2" shape-rendering="crispEdges"/>
<line x1="652.0" y1="558.0" x2="652.0" y2="636.0" stroke="#000" stroke-width="1" stroke-dasharray="2,2" shape-rendering="crispEdges"/>
<line x1="673.1" y1="558.0" x2="673.1" y2="636.0" stroke="#000" stroke-width="1" stroke-dasharray="2,2" shape-rendering="crispEdges"/>
<line x1="694.2" y1="558.0" x2="694.2" y2="636.0" stroke="#000" stroke-width="1" stroke-dasharray="2,2" shape-rendering="crispEdges"/>
<line x1="715.3" y1="558.0" x2="715.3" y2="636.0" stroke="#000" stroke-width="1" stroke-dasharray="2,2" shape-rendering="crispEdges"/>
<line x1="736.4" y1="558.0" x2="736.4" y2="636.0" stroke="#000" stroke-width="1" stroke-dasharray="2,2" shape-rendering="crispEdges"/>
<line x1="342.5" y1="558.6" x2="757.5" y2="558.6" stroke="#000" stroke-width="1" stroke-dasharray="2,2" shape-rendering="crispEdges"/>
<line x1="342.5" y1="577.4" x2="757.5" y2="577.4" stroke="#000" stroke-width="1" stroke-dasharray="2,2" shape-rendering="crispEdges"/>
<line x1="342.5" y1="597.2" x2="757.5" y2="597.2" stroke="#000" stroke-width="1" stroke-dasharray="2,2" shape-rendering="crispEdges"/>
<line x1="342.5" y1="616.3" x2="757.5" y2="616.3" stroke="#000" stroke-width="1" stroke-dasharray="2,2" shape-rendering="crispEdges"/>
<g clip-path="url(#m6)">
<polyline points="343.1,572.2 356.6,571.9 363.6,571.3 370.6,569.6 377.6,567.9 384.6,567.1 391.6,567.6 398.6,569.6 408.3,571.9 419.7,573.9 426.7,575.9 440.7,576.5 459.5,576.5 470.0,576.0 476.0,575.6 483.3,582.4 490.1,575.6 504.1,572.2 514.4,569.1 525.5,567.6 546.8,568.4 567.3,569.3 587.8,570.1 600.0,571.9 609.4,573.0 617.1,572.5 623.9,573.9 630.7,576.5 637.6,585.0 644.7,594.0 651.2,592.3 658.9,596.4 666.1,599.5 673.1,596.4 679.9,598.3 687.1,571.9 693.9,598.3 701.1,600.7 707.9,591.8 715.2,585.9 722.1,573.0 729.2,581.6 736.1,595.6 743.2,595.2 750.5,590.7 757.3,595.9" fill="none" stroke="#ff9000" stroke-width="2.2" stroke-linejoin="round" stroke-linecap="round" />
</g>
<rect x="342.5" y="558" width="415.0" height="78" fill="none" stroke="#1a1a1a" stroke-width="1.3"/>
<line x1="342.0" y1="557.1" x2="758.0" y2="557.1" stroke="#8c8c8c" stroke-width="0.9" />
<text x="337.8" y="561.7" font-size="11" fill="#000" text-anchor="end" >15.0</text>
<text x="337.8" y="581.2" font-size="11" fill="#000" text-anchor="end" >7.0</text>
<text x="337.8" y="600.7" font-size="11" fill="#000" text-anchor="end" >2.0</text>
<text x="337.8" y="620.2" font-size="11" fill="#000" text-anchor="end" >0.5</text>
<text x="337.8" y="639.5" font-size="11" fill="#000" text-anchor="end" >0.0</text>
<text x="761.8" y="561.8" font-size="11" fill="#ff8000" >100</text>
<text x="761.8" y="581.6" font-size="11" fill="#ff8000" >20</text>
<text x="761.8" y="600.5" font-size="11" fill="#ff8000" >5</text>
<text x="761.8" y="620.2" font-size="11" fill="#ff8000" >1</text>
<text x="761.8" y="639.5" font-size="11" fill="#ff8000" >0</text>
<text transform="translate(293.2,595.0) rotate(-90)" font-size="12.2" fill="#00009c" text-anchor="middle" textLength="102.0" lengthAdjust="spacingAndGlyphs">pion. rozciągł. chm.</text>
<text transform="translate(306.0,594.5) rotate(-90)" font-size="12.2" fill="#00009c" text-anchor="middle">(km)</text>
<text transform="translate(815.8,595.5) rotate(-90)" font-size="12.2" fill="#00009c" text-anchor="middle" textLength="63.0" lengthAdjust="spacingAndGlyphs">widzialność</text>
<text transform="translate(803.3,594.0) rotate(-90)" font-size="12.2" fill="#00009c" text-anchor="middle">(km)</text>
<clipPath id="m7"><rect x="342.5" y="645.5" width="415.0" height="54.5"/></clipPath>
<rect x="342.5" y="645.5" width="415.0" height="54.5" fill="#87cefa" />
<rect x="418.3" y="645.5" width="66.5" height="54.5" fill="#7fbeee" />
<rect x="587.2" y="645.5" width="66.4" height="54.5" fill="#7fbeee" />
<g clip-path="url(#m7)">
<polygon points="342.5,655.0 346.0,660.0 342.5,660.0" fill="#fff" />
<polygon points="400.0,662.0 407.4,659.3 413.4,657.2 420.2,657.6 423.7,650.7 427.9,647.7 434.8,650.7 438.2,659.3 439.0,662.0" fill="#fff" />
<polygon points="467.0,662.0 468.0,659.3 471.5,650.7 476.6,646.5 480.0,645.6 483.3,646.0 486.2,648.2 490.5,652.4 491.9,659.3 492.0,662.0" fill="#555" />
<polygon points="606.0,662.0 606.8,659.3 609.4,649.0 616.2,651.6 623.9,649.9 634.1,649.0 644.7,648.2 651.2,646.0 658.9,648.7 664.9,646.0 673.4,645.6 680.0,645.5 757.5,645.5 757.5,662.0" fill="#555" />
</g>
<line x1="356.6" y1="645.5" x2="356.6" y2="700.0" stroke="#000" stroke-width="1" stroke-dasharray="2,2" shape-rendering="crispEdges"/>
<line x1="377.7" y1="645.5" x2="377.7" y2="700.0" stroke="#000" stroke-width="1" stroke-dasharray="2,2" shape-rendering="crispEdges"/>
<line x1="398.8" y1="645.5" x2="398.8" y2="700.0" stroke="#000" stroke-width="1" stroke-dasharray="2,2" shape-rendering="crispEdges"/>
<line x1="419.9" y1="645.5" x2="419.9" y2="700.0" stroke="#000" stroke-width="1" stroke-dasharray="2,2" shape-rendering="crispEdges"/>
<line x1="441.0" y1="645.5" x2="441.0" y2="700.0" stroke="#000" stroke-width="1" stroke-dasharray="2,2" shape-rendering="crispEdges"/>
<line x1="462.1" y1="645.5" x2="462.1" y2="700.0" stroke="#000" stroke-width="1" stroke-dasharray="2,2" shape-rendering="crispEdges"/>
<line x1="483.2" y1="645.5" x2="483.2" y2="700.0" stroke="#000" stroke-width="1" stroke-dasharray="2,2" shape-rendering="crispEdges"/>
<line x1="504.3" y1="645.5" x2="504.3" y2="700.0" stroke="#000" stroke-width="1" stroke-dasharray="2,2" shape-rendering="crispEdges"/>
<line x1="525.4" y1="645.5" x2="525.4" y2="700.0" stroke="#000" stroke-width="1" stroke-dasharray="2,2" shape-rendering="crispEdges"/>
<line x1="546.5" y1="645.5" x2="546.5" y2="700.0" stroke="#000" stroke-width="1" stroke-dasharray="2,2" shape-rendering="crispEdges"/>
<line x1="567.6" y1="645.5" x2="567.6" y2="700.0" stroke="#000" stroke-width="1" stroke-dasharray="2,2" shape-rendering="crispEdges"/>
<line x1="588.7" y1="645.5" x2="588.7" y2="700.0" stroke="#000" stroke-width="1" stroke-dasharray="2,2" shape-rendering="crispEdges"/>
<line x1="609.8" y1="645.5" x2="609.8" y2="700.0" stroke="#000" stroke-width="1" stroke-dasharray="2,2" shape-rendering="crispEdges"/>
<line x1="630.9" y1="645.5" x2="630.9" y2="700.0" stroke="#000" stroke-width="1" stroke-dasharray="2,2" shape-rendering="crispEdges"/>
<line x1="652.0" y1="645.5" x2="652.0" y2="700.0" stroke="#000" stroke-width="1" stroke-dasharray="2,2" shape-rendering="crispEdges"/>
<line x1="673.1" y1="645.5" x2="673.1" y2="700.0" stroke="#000" stroke-width="1" stroke-dasharray="2,2" shape-rendering="crispEdges"/>
<line x1="694.2" y1="645.5" x2="694.2" y2="700.0" stroke="#000" stroke-width="1" stroke-dasharray="2,2" shape-rendering="crispEdges"/>
<line x1="715.3" y1="645.5" x2="715.3" y2="700.0" stroke="#000" stroke-width="1" stroke-dasharray="2,2" shape-rendering="crispEdges"/>
<line x1="736.4" y1="645.5" x2="736.4" y2="700.0" stroke="#000" stroke-width="1" stroke-dasharray="2,2" shape-rendering="crispEdges"/>
<rect x="342.5" y="645.5" width="415.0" height="54.5" fill="none" stroke="#1a1a1a" stroke-width="1.3"/>
<line x1="342.0" y1="644.6" x2="758.0" y2="644.6" stroke="#8c8c8c" stroke-width="0.9" />
<text x="337.8" y="648.8" font-size="11" fill="#000" text-anchor="end" >8</text>
<text x="761.8" y="649.8" font-size="11" fill="#ff8000" >1</text>
<text transform="translate(293.2,690.0) rotate(-90)" font-size="12.2" fill="#00009c" text-anchor="middle" textLength="75.0" lengthAdjust="spacingAndGlyphs">zachmurzenie</text>
</g>
</svg>
</body></html>
